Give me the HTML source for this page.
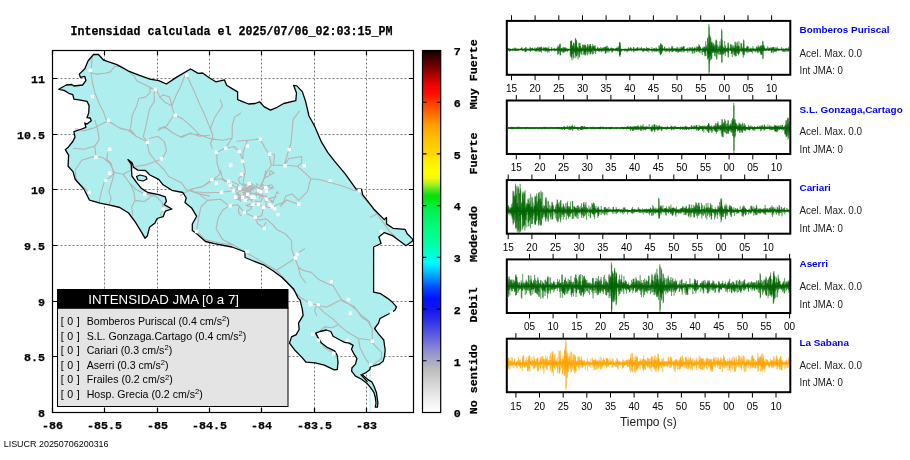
<!DOCTYPE html>
<html lang="es"><head><meta charset="utf-8"><title>Intensidad JMA</title>
<style>html,body{margin:0;padding:0;background:#fff;overflow:hidden}svg{display:block}.m{font-family:"Liberation Mono",monospace;font-weight:bold;font-size:11.6px;fill:#000;stroke:#000;stroke-width:0.25px}.s{font-family:"Liberation Sans",sans-serif;fill:#000}</style></head><body>
<svg width="910" height="460" viewBox="0 0 910 460">
<rect width="910" height="460" fill="#fff"/>
<defs><clipPath id="mc"><rect x="52.5" y="50.5" width="361.0" height="362.0"/></clipPath>
<linearGradient id="cb" x1="0" y1="1" x2="0" y2="0">
<stop offset="0.0000" stop-color="#ffffff"/>
<stop offset="0.0286" stop-color="#f2f2f2"/>
<stop offset="0.0714" stop-color="#dadada"/>
<stop offset="0.1143" stop-color="#c0c0c0"/>
<stop offset="0.1429" stop-color="#a8a8c8"/>
<stop offset="0.1714" stop-color="#8c8cd4"/>
<stop offset="0.2143" stop-color="#5c5ce0"/>
<stop offset="0.2571" stop-color="#2c2cec"/>
<stop offset="0.2857" stop-color="#1414ee"/>
<stop offset="0.3143" stop-color="#0010ff"/>
<stop offset="0.3443" stop-color="#0048ff"/>
<stop offset="0.3729" stop-color="#0098ff"/>
<stop offset="0.4014" stop-color="#00e0ff"/>
<stop offset="0.4143" stop-color="#00fcff"/>
<stop offset="0.4286" stop-color="#00ffe0"/>
<stop offset="0.4571" stop-color="#00ffb4"/>
<stop offset="0.5000" stop-color="#00ff84"/>
<stop offset="0.5286" stop-color="#00f870"/>
<stop offset="0.5714" stop-color="#00f040"/>
<stop offset="0.5829" stop-color="#00e818"/>
<stop offset="0.6000" stop-color="#04e208"/>
<stop offset="0.6114" stop-color="#40e420"/>
<stop offset="0.6343" stop-color="#c0f020"/>
<stop offset="0.6486" stop-color="#f4fc08"/>
<stop offset="0.6643" stop-color="#ffff00"/>
<stop offset="0.6929" stop-color="#fff000"/>
<stop offset="0.7143" stop-color="#ffd800"/>
<stop offset="0.7571" stop-color="#ffc000"/>
<stop offset="0.7929" stop-color="#ffa000"/>
<stop offset="0.8286" stop-color="#ff6800"/>
<stop offset="0.8571" stop-color="#ff3800"/>
<stop offset="0.8786" stop-color="#ff1000"/>
<stop offset="0.9057" stop-color="#ee0000"/>
<stop offset="0.9343" stop-color="#a80000"/>
<stop offset="0.9614" stop-color="#680000"/>
<stop offset="0.9871" stop-color="#300000"/>
<stop offset="1.0000" stop-color="#080000"/>
</linearGradient></defs>
<g clip-path="url(#mc)">
<path d="M104.5 50.5V412.5M157.5 50.5V412.5M209.5 50.5V412.5M261.5 50.5V412.5M314.5 50.5V412.5M366.5 50.5V412.5M52.5 356.5H413.5M52.5 301.5H413.5M52.5 245.5H413.5M52.5 189.5H413.5M52.5 134.5H413.5M52.5 78.5H413.5" stroke="#7c7c7c" stroke-width="1" stroke-dasharray="2 2" fill="none"/>
<path d="M93.5 54.5 L98.2 54.3 L103.7 60.2 L116.9 64.6 L127.9 70.8 L138.9 75.2 L149.9 79.1 L158.7 80.7 L166.4 84.0 L176.3 77.4 L190.5 69.0 L198.2 73.4 L202.6 73.0 L209.2 77.8 L215.8 81.8 L220.0 80.9 L224.4 79.8 L226.6 85.3 L232.1 88.6 L237.6 91.9 L237.6 99.6 L242.0 101.3 L248.6 104.0 L255.2 103.5 L259.6 101.8 L264.0 106.6 L270.5 110.1 L277.1 107.3 L283.7 103.5 L295.8 100.7 L296.5 93.0 L293.6 85.3 L296.9 85.9 L302.4 91.9 L305.7 101.8 L309.0 116.0 L314.5 125.9 L321.1 141.3 L327.7 152.3 L334.3 160.9 L345.2 173.9 L356.1 189.1 L361.5 189.1 L362.6 194.6 L373.5 208.7 L384.3 219.6 L386.5 217.4 L386.5 223.9 L393.0 228.3 L405.0 229.3 L407.2 233.7 L412.6 239.1 L412.6 241.0 L406.0 245.7 L401.7 242.4 L393.0 235.9 L384.3 232.6 L378.9 237.0 L381.1 243.5 L373.6 247.0 L373.6 292.2 L380.7 293.7 L387.3 298.1 L391.6 301.4 L396.5 306.9 L394.9 310.2 L389.5 313.5 L380.0 318.5 L378.5 323.1 L374.6 328.5 L378.5 333.8 L383.8 340.0 L384.6 346.2 L385.2 350.0 L384.5 356.4 L383.1 361.3 L379.5 364.1 L370.4 366.9 L369.7 369.8 L366.1 372.6 L362.0 374.5 L369.0 380.4 L371.8 381.8 L373.9 386.0 L376.4 392.4 L377.0 396.6 L377.9 403.0 L377.4 407.2 L375.3 407.2 L376.0 403.0 L375.3 397.3 L373.9 392.4 L370.4 387.4 L366.8 383.2 L361.2 379.0 L355.5 376.1 L351.6 371.2 L352.0 367.7 L355.5 364.1 L356.9 358.5 L354.1 354.2 L351.5 349.2 L353.1 345.4 L349.2 343.1 L344.6 342.3 L340.0 340.0 L333.1 336.2 L330.8 331.5 L326.2 330.0 L320.0 331.5 L315.7 333.1 L317.7 336.9 L321.5 343.1 L327.7 347.7 L334.6 350.8 L337.2 355.4 L338.0 362.2 L337.3 369.5 L334.2 369.8 L324.3 365.2 L315.2 362.9 L306.1 362.2 L301.5 356.9 L295.4 350.8 L289.5 343.1 L291.5 336.9 L296.2 334.6 L299.2 329.2 L298.5 323.1 L303.1 315.4 L302.3 309.2 L300.0 300.0 L298.2 298.1 L293.8 289.3 L287.3 282.7 L281.8 277.3 L273.0 270.7 L264.2 265.2 L253.5 261.0 L245.0 257.5 L245.0 252.0 L240.0 250.0 L231.9 247.0 L214.3 243.7 L205.5 241.5 L196.7 233.8 L192.3 230.5 L192.3 224.0 L196.7 216.3 L191.6 207.9 L185.0 202.4 L186.2 198.0 L182.9 192.5 L171.9 190.3 L163.1 184.8 L158.7 179.3 L149.9 175.0 L145.5 170.5 L137.8 170.1 L133.4 167.3 L132.3 162.9 L127.9 159.6 L131.2 164.0 L131.9 176.0 L136.7 182.6 L141.1 188.1 L147.7 192.5 L158.7 194.7 L165.3 196.9 L166.4 201.3 L164.2 204.6 L171.9 209.0 L165.3 211.2 L163.1 216.7 L157.1 218.5 L155.0 222.9 L149.5 227.3 L147.3 236.0 L145.0 238.2 L141.8 232.7 L135.2 221.8 L128.6 213.0 L119.8 207.5 L111.0 205.3 L100.0 203.1 L89.5 200.2 L87.3 195.8 L84.0 189.2 L75.2 179.3 L73.0 171.6 L68.1 166.2 L68.6 155.2 L65.3 149.7 L68.5 146.9 L72.8 141.5 L75.0 137.1 L73.9 131.7 L80.4 129.5 L85.9 127.3 L84.8 123.0 L87.0 124.1 L91.3 120.8 L90.2 118.0 L87.0 117.6 L88.7 113.2 L89.1 105.6 L87.0 101.3 L80.4 100.2 L73.9 99.1 L72.8 94.7 L69.6 93.7 L64.1 90.4 L58.7 89.3 L66.3 85.0 L71.7 84.5 L73.9 86.0 L82.6 85.0 L85.9 80.6 L84.8 76.3 L80.4 77.3 L79.3 74.1 L84.8 68.7 L88.0 61.0Z" fill="#afeeee" stroke="none"/>
<path d="M370.1 366V412" stroke="#afeeee" stroke-width="1" fill="none"/>
<path d="M92.3 56.5 L91.6 64.2 L91.0 73.0 L92.7 84.0 L94.9 92.7 L99.3 103.7 L103.7 112.5 L105.9 119.1 L112.5 123.5 L119.1 127.9 L127.9 130.1 L136.7 136.7M91.0 73.0 L97.1 74.1 L105.9 73.0 L110.3 71.9 L114.7 66.4 L121.3 66.4 L127.9 70.8 L134.5 76.3 L136.7 80.7 L143.3 84.0 L149.9 87.3 L154.3 89.5M154.3 89.5 L154.3 101.5 L149.9 108.1 L147.7 116.9 L145.5 127.9 L143.3 136.7 L147.0 141.7M149.9 87.3 L149.9 92.7 L145.5 97.1 L138.9 98.2 L136.7 105.9 L132.3 114.7 L131.2 123.5 L130.1 130.1 L131.7 130.9M156.5 89.5 L159.8 97.1 L165.3 102.6 L171.9 105.9 L174.1 114.7 L169.7 121.3 L165.3 127.9 L159.8 127.9 L157.8 130.9M159.8 97.1 L163.1 95.0 L169.7 97.1 L171.9 105.9M171.9 105.9 L176.3 95.0 L180.7 86.2 L185.0 75.2M186.8 75.2 L193.8 90.5 L200.4 105.9 L203.9 113.0 L208.3 123.9 L212.6 134.8 L212.6 139.1 L210.4 143.5 L212.6 148.9M174.1 114.7 L182.9 119.1 L190.9 126.1 L199.6 134.8 L208.3 138.0 L212.6 139.1 L223.5 140.2 L232.2 138.0M180.0 137.0 L188.7 133.7 L199.6 134.8M220.2 99.3 L222.4 105.9 L218.0 112.5 L214.8 117.4 L210.4 128.3 L212.6 134.8M94.8 120.0 L98.0 130.9 L99.1 139.6 L94.8 146.1 L95.9 155.9 L81.7 160.2 L75.2 170.0 L76.3 180.9 L88.3 191.7M95.9 155.9 L103.5 158.0 L110.0 163.5 L114.3 172.2 L111.1 176.5 L104.6 180.9 L101.3 191.7 L99.1 202.6M75.2 128.7 L83.9 130.9 L94.8 127.6 L107.8 121.1M73.0 148.3 L83.9 149.3 L94.8 146.1M107.8 121.1 L120.9 128.7 L131.7 130.9 L136.1 136.3 L147.0 141.7 L149.1 152.6 L155.7 161.3 L162.2 159.1 L166.5 150.4 L164.3 141.7 L157.8 136.3 L149.1 138.5M107.8 152.6 L106.7 159.1 L111.1 163.5 L113.3 172.2 L123.0 174.3 L129.6 171.1 L133.9 166.7 L147.0 164.6 L155.7 161.3 L164.3 170.0 L168.7 176.5 L181.7 183.0 L186.1 189.6 L199.1 193.9 L210.0 196.1M114.3 172.2 L112.2 180.9 L108.9 191.7 L111.1 198.3 L108.9 205.0M123.0 174.3 L129.6 183.0 L133.9 191.7 L135.0 200.4 L131.7 207.0 L132.8 215.7M129.6 183.0 L136.1 189.6 L144.8 193.9 L155.7 196.1 L162.2 202.6 L163.3 209.1 L160.0 215.7M135.0 200.4 L144.8 201.5 L151.3 196.1M157.8 130.9 L164.3 126.5 L173.0 133.0 L181.7 137.4 L190.4 133.0 L199.1 136.3 L210.0 135.2M240.9 113.0 L234.3 117.4 L232.2 126.1 L232.2 138.0 L225.7 147.8 L217.0 152.2 L217.0 163.0 L220.2 173.9 L212.6 180.4M225.7 147.8 L234.3 146.7 L239.8 152.2 L243.0 160.9 L245.2 171.7 L243.0 182.6M236.5 141.3 L247.4 140.2 L260.4 139.1 L264.8 147.8 L269.1 154.3 L271.3 165.2 L267.0 171.7 L262.6 182.6 L260.4 187.0M247.4 140.2 L245.2 146.7 L243.0 152.2 L243.0 160.9M271.3 165.2 L284.3 165.2 L297.4 166.3 L306.1 173.9 L310.7 178.7 L320.4 179.8 L331.3 183.0 L340.0 185.2 L353.9 190.2 L360.4 191.3M299.6 110.9 L293.0 119.6 L292.0 132.6 L290.9 143.5 L288.7 150.0 L284.3 165.2M284.3 165.2 L288.7 158.7 L301.7 156.5 L301.7 163.0 L297.4 166.3M269.1 154.3 L274.6 154.3 L273.5 165.2M212.6 180.4 L201.7 187.0 L190.9 189.1 L180.0 195.7M310.7 178.7 L307.4 191.7 L298.7 200.4 L292.2 193.9 L285.7 196.1 L283.5 202.6 L277.0 204.8 L272.6 207.0M298.5 204.3 L286.5 200.0 L280.0 206.5M358.3 190.2 L362.6 196.7 L371.3 206.5 L377.8 215.2 L384.3 223.9 L388.7 230.4 L397.4 239.1M370.2 217.4 L376.7 214.1M255.2 217.4 L259.6 220.0 L266.1 218.9 L272.6 224.3 L277.0 229.8 L285.7 234.1 L291.7 240.9 L291.7 249.6 L295.0 258.3 L298.3 267.0 L302.6 270.2 L311.3 272.4 L317.8 278.9 L326.5 283.3 L333.0 285.4 L337.4 293.0 L341.7 299.6 L350.4 305.0 L357.0 310.4 L361.3 317.0 L367.8 321.3 L372.2 328.9 L372.3 340.0M255.2 217.4 L257.4 223.3 L262.8 227.6 L266.1 222.2M190.0 189.6 L198.7 193.9 L207.4 200.4 L200.9 207.0 L198.7 217.8 L196.5 230.9 L205.2 239.6 L218.3 242.8 L233.5 245.0 L244.3 251.5 L257.4 259.1 L268.3 265.7 L276.5 270.2 L287.4 282.2 L293.9 290.9 L300.4 297.4 L309.1 302.8 L316.7 305.0 L326.5 307.2 L335.2 302.8 L341.7 299.6M207.4 200.4 L220.4 199.3 L229.1 205.9 L222.6 210.2 L218.3 217.8 L216.1 228.7 L222.6 239.6 L233.5 245.0M229.1 205.9 L237.8 204.8 L244.3 212.4 L255.2 217.4M190.0 189.6 L203.0 186.3 L211.7 179.8 L220.4 178.7 L229.1 183.0 L237.8 188.5 L246.5 191.7 L255.2 193.9 L266.1 196.1 L272.6 202.6M194.3 191.7 L207.4 192.8 L221.5 192.2 L233.5 190.7M295.0 258.3 L285.2 264.8 L276.5 270.2M295.4 254.8 L304.8 248.5M298.3 267.0 L300.4 275.7 L305.9 283.3M220.4 170.0 L222.6 178.7 L229.1 183.0M266.1 170.0 L263.9 178.7 L259.6 187.4 L255.2 193.9M272.6 202.6 L277.0 191.7 L279.1 193.9M244.3 212.4 L250.9 209.1 L253.0 204.3 L258.5 204.3 L263.5 207.4 L261.7 215.7 L255.2 217.4M316.7 305.0 L324.3 312.6 L333.0 319.1 L338.5 324.6 L347.7 332.3 L358.5 338.5 L370.8 340.0 L375.4 346.2 L381.5 352.3 L381.5 358.5 L375.4 363.1 L370.8 366.2M316.7 305.0 L314.6 310.4 L316.7 315.9M341.5 300.8 L353.8 306.2 L360.0 313.8 L369.2 321.5 L372.3 329.2M358.5 338.5 L360.0 347.7 L364.6 356.9 L370.8 366.2M338.5 324.6 L332.3 327.7 L324.6 326.9 L320.0 330.8 L315.7 333.1 L318.5 340.0 L324.6 347.7 L332.3 352.3 L336.2 356.9M248.6 195.3 L242.2 198.5 L236.6 199.4 L242.3 196.5 L236.5 195.7M251.7 199.4 L256.3 195.7 L252.4 197.0M262.8 190.2 L256.5 187.4 L257.3 183.7 L256.2 184.1M240.0 189.5 L235.5 190.3 L237.5 189.0 L238.2 184.6 L232.0 181.7M246.8 187.2 L246.3 191.5 L244.3 189.0 L239.8 191.8M258.0 194.8 L263.2 197.1 L260.3 201.9 L254.9 201.1M251.2 189.3 L250.1 194.0 L244.2 194.5 L248.3 197.7M246.3 196.8 L247.4 196.4 L252.1 200.8 L251.8 202.5M264.7 195.7 L265.8 197.5 L265.0 199.7 L270.5 198.1 L276.6 196.7M242.5 188.4 L246.3 184.7 L242.7 183.6M253.7 190.9 L252.3 188.6 L247.2 188.0 L247.9 190.0M265.3 191.8 L271.8 188.3 L267.2 185.6 L263.5 185.5M244.7 190.2 L239.8 190.6 L241.3 188.8M264.3 200.2 L266.4 202.6 L265.8 206.3 L272.1 208.1 L273.0 207.1M242.4 196.4 L236.3 192.1 L232.2 188.7 L230.0 184.2M256.4 192.5 L262.7 193.6 L256.7 190.7M241.4 198.0 L242.8 197.7 L237.4 197.6 L244.1 197.4M249.0 195.3 L246.8 193.0 L251.4 189.6 L244.7 194.1 L245.1 190.6M248.9 192.2 L246.0 193.6 L240.3 197.0 L240.6 201.1 L238.5 198.3M240.2 190.8 L236.3 193.9 L243.1 197.5 L247.3 200.6 L250.7 197.9M242.1 191.9 L249.0 194.8 L248.6 191.8M244.1 189.4 L250.9 193.9 L249.0 191.2 L245.2 188.1 L241.1 189.4M265.7 186.3 L271.5 184.8 L273.5 188.1 L268.2 187.0M249.5 188.9 L248.6 190.3 L242.8 194.8M249.1 186.5 L255.4 188.7 L250.8 185.0 L245.9 189.0 L250.2 185.5M263.3 178.8 L269.4 175.4 L270.1 170.6 L274.3 172.9 L268.7 175.4M268.9 204.9 L273.4 202.0 L270.0 199.9M251.7 199.8 L252.4 203.1 L246.2 205.5 L251.8 207.2M255.6 186.4 L250.4 182.9 L250.5 186.7 L254.4 187.7 L258.3 184.2M259.3 198.4 L260.1 196.7 L260.4 197.2M252.0 190.0 L245.8 186.9 L239.3 182.8 L238.7 178.1 L244.2 173.8M239.3 205.7 L239.5 207.6 L238.8 207.9 L238.5 212.3 L241.3 216.1M257.9 191.0 L263.4 188.0 L262.6 187.2 L261.1 185.3 L263.5 184.6M252.9 197.0 L258.4 193.6 L261.5 195.2" stroke="#b4b4b4" stroke-width="1.1" fill="none" stroke-linejoin="round"/>
<path d="M93.5 54.5 L98.2 54.3 L103.7 60.2 L116.9 64.6 L127.9 70.8 L138.9 75.2 L149.9 79.1 L158.7 80.7 L166.4 84.0 L176.3 77.4 L190.5 69.0 L198.2 73.4 L202.6 73.0 L209.2 77.8 L215.8 81.8 L220.0 80.9 L224.4 79.8 L226.6 85.3 L232.1 88.6 L237.6 91.9 L237.6 99.6 L242.0 101.3 L248.6 104.0 L255.2 103.5 L259.6 101.8 L264.0 106.6 L270.5 110.1 L277.1 107.3 L283.7 103.5 L295.8 100.7 L296.5 93.0 L293.6 85.3 L296.9 85.9 L302.4 91.9 L305.7 101.8 L309.0 116.0 L314.5 125.9 L321.1 141.3 L327.7 152.3 L334.3 160.9 L345.2 173.9 L356.1 189.1 L361.5 189.1 L362.6 194.6 L373.5 208.7 L384.3 219.6 L386.5 217.4 L386.5 223.9 L393.0 228.3 L405.0 229.3 L407.2 233.7 L412.6 239.1 L412.6 241.0 L406.0 245.7 L401.7 242.4 L393.0 235.9 L384.3 232.6 L378.9 237.0 L381.1 243.5 L373.6 247.0 L373.6 292.2 L380.7 293.7 L387.3 298.1 L391.6 301.4 L396.5 306.9 L394.9 310.2 L389.5 313.5 L380.0 318.5 L378.5 323.1 L374.6 328.5 L378.5 333.8 L383.8 340.0 L384.6 346.2 L385.2 350.0 L384.5 356.4 L383.1 361.3 L379.5 364.1 L370.4 366.9 L369.7 369.8 L366.1 372.6 L362.0 374.5 L369.0 380.4 L371.8 381.8 L373.9 386.0 L376.4 392.4 L377.0 396.6 L377.9 403.0 L377.4 407.2 L375.3 407.2 L376.0 403.0 L375.3 397.3 L373.9 392.4 L370.4 387.4 L366.8 383.2 L361.2 379.0 L355.5 376.1 L351.6 371.2 L352.0 367.7 L355.5 364.1 L356.9 358.5 L354.1 354.2 L351.5 349.2 L353.1 345.4 L349.2 343.1 L344.6 342.3 L340.0 340.0 L333.1 336.2 L330.8 331.5 L326.2 330.0 L320.0 331.5 L315.7 333.1 L317.7 336.9 L321.5 343.1 L327.7 347.7 L334.6 350.8 L337.2 355.4 L338.0 362.2 L337.3 369.5 L334.2 369.8 L324.3 365.2 L315.2 362.9 L306.1 362.2 L301.5 356.9 L295.4 350.8 L289.5 343.1 L291.5 336.9 L296.2 334.6 L299.2 329.2 L298.5 323.1 L303.1 315.4 L302.3 309.2 L300.0 300.0 L298.2 298.1 L293.8 289.3 L287.3 282.7 L281.8 277.3 L273.0 270.7 L264.2 265.2 L253.5 261.0 L245.0 257.5 L245.0 252.0 L240.0 250.0 L231.9 247.0 L214.3 243.7 L205.5 241.5 L196.7 233.8 L192.3 230.5 L192.3 224.0 L196.7 216.3 L191.6 207.9 L185.0 202.4 L186.2 198.0 L182.9 192.5 L171.9 190.3 L163.1 184.8 L158.7 179.3 L149.9 175.0 L145.5 170.5 L137.8 170.1 L133.4 167.3 L132.3 162.9 L127.9 159.6 L131.2 164.0 L131.9 176.0 L136.7 182.6 L141.1 188.1 L147.7 192.5 L158.7 194.7 L165.3 196.9 L166.4 201.3 L164.2 204.6 L171.9 209.0 L165.3 211.2 L163.1 216.7 L157.1 218.5 L155.0 222.9 L149.5 227.3 L147.3 236.0 L145.0 238.2 L141.8 232.7 L135.2 221.8 L128.6 213.0 L119.8 207.5 L111.0 205.3 L100.0 203.1 L89.5 200.2 L87.3 195.8 L84.0 189.2 L75.2 179.3 L73.0 171.6 L68.1 166.2 L68.6 155.2 L65.3 149.7 L68.5 146.9 L72.8 141.5 L75.0 137.1 L73.9 131.7 L80.4 129.5 L85.9 127.3 L84.8 123.0 L87.0 124.1 L91.3 120.8 L90.2 118.0 L87.0 117.6 L88.7 113.2 L89.1 105.6 L87.0 101.3 L80.4 100.2 L73.9 99.1 L72.8 94.7 L69.6 93.7 L64.1 90.4 L58.7 89.3 L66.3 85.0 L71.7 84.5 L73.9 86.0 L82.6 85.0 L85.9 80.6 L84.8 76.3 L80.4 77.3 L79.3 74.1 L84.8 68.7 L88.0 61.0Z" fill="none" stroke="#000" stroke-width="1.3" stroke-linejoin="round"/>
<path d="M136.5 176.5 L140.0 175.0 L146.0 176.5 L147.0 179.0 L143.0 181.0 L138.0 180.0Z" fill="#afeeee" stroke="#000" stroke-width="1.2" stroke-linejoin="round"/>
<path d="M360.5 374.3 L364.0 378.0 L367.5 381.8" fill="none" stroke="#000" stroke-width="1.2"/>
<path d="M88.8 68.6h3.4v3.4h-3.4zM90.6 94.8h3.4v3.4h-3.4zM106.9 118.5h3.4v3.4h-3.4zM153.7 87.8h3.4v3.4h-3.4zM185.1 73.5h3.4v3.4h-3.4zM173.5 113.7h3.4v3.4h-3.4zM107.9 147.6h3.4v3.4h-3.4zM94.2 155.3h3.4v3.4h-3.4zM107.9 171.6h3.4v3.4h-3.4zM104.0 178.7h3.4v3.4h-3.4zM87.6 190.5h3.4v3.4h-3.4zM145.9 140.7h3.4v3.4h-3.4zM159.8 157.0h3.4v3.4h-3.4zM143.1 192.6h3.4v3.4h-3.4zM161.6 207.4h3.4v3.4h-3.4zM258.7 137.4h3.4v3.4h-3.4zM245.7 144.4h3.4v3.4h-3.4zM224.0 146.6h3.4v3.4h-3.4zM214.6 150.5h3.4v3.4h-3.4zM237.6 149.8h3.4v3.4h-3.4zM267.9 152.6h3.4v3.4h-3.4zM287.6 147.9h3.4v3.4h-3.4zM240.9 159.6h3.4v3.4h-3.4zM229.0 163.5h3.4v3.4h-3.4zM283.3 164.0h3.4v3.4h-3.4zM302.6 164.0h3.4v3.4h-3.4zM239.8 172.6h3.4v3.4h-3.4zM210.0 178.1h3.4v3.4h-3.4zM214.8 181.8h3.4v3.4h-3.4zM227.0 179.6h3.4v3.4h-3.4zM228.5 183.5h3.4v3.4h-3.4zM219.8 190.5h3.4v3.4h-3.4zM231.8 189.0h3.4v3.4h-3.4zM237.9 186.8h3.4v3.4h-3.4zM247.6 181.8h3.4v3.4h-3.4zM234.0 195.5h3.4v3.4h-3.4zM241.1 195.5h3.4v3.4h-3.4zM245.9 192.6h3.4v3.4h-3.4zM243.7 198.7h3.4v3.4h-3.4zM250.3 195.5h3.4v3.4h-3.4zM252.4 195.5h3.4v3.4h-3.4zM256.8 189.0h3.4v3.4h-3.4zM259.0 190.0h3.4v3.4h-3.4zM264.0 185.7h3.4v3.4h-3.4zM264.8 189.6h3.4v3.4h-3.4zM264.8 197.6h3.4v3.4h-3.4zM251.3 202.6h3.4v3.4h-3.4zM256.8 202.6h3.4v3.4h-3.4zM261.8 205.7h3.4v3.4h-3.4zM268.3 203.1h3.4v3.4h-3.4zM270.5 205.3h3.4v3.4h-3.4zM273.1 207.0h3.4v3.4h-3.4zM276.3 212.9h3.4v3.4h-3.4zM242.6 210.7h3.4v3.4h-3.4zM253.5 215.7h3.4v3.4h-3.4zM228.5 204.2h3.4v3.4h-3.4zM262.6 226.6h3.4v3.4h-3.4zM297.0 202.6h3.4v3.4h-3.4zM328.5 178.7h3.4v3.4h-3.4zM245.3 249.8h3.4v3.4h-3.4zM295.5 252.6h3.4v3.4h-3.4zM293.7 256.3h3.4v3.4h-3.4zM194.8 229.8h3.4v3.4h-3.4zM329.6 280.0h3.4v3.4h-3.4zM346.6 297.9h3.4v3.4h-3.4zM307.9 301.1h3.4v3.4h-3.4zM309.2 302.6h3.4v3.4h-3.4zM316.6 302.9h3.4v3.4h-3.4zM348.7 311.6h3.4v3.4h-3.4zM389.6 310.5h3.4v3.4h-3.4zM310.9 332.5h3.4v3.4h-3.4zM316.8 338.6h3.4v3.4h-3.4zM346.0 338.6h3.4v3.4h-3.4zM370.6 339.5h3.4v3.4h-3.4zM332.1 352.1h3.4v3.4h-3.4zM369.1 362.9h3.4v3.4h-3.4zM357.6 189.0h3.4v3.4h-3.4zM379.4 229.8h3.4v3.4h-3.4z" fill="#fff"/>
</g>
<rect x="57.5" y="308" width="230.5" height="98.5" fill="#e4e4e4" stroke="#000" stroke-width="1"/>
<rect x="57" y="289" width="231.5" height="19.6" fill="#000"/>
<text class="s" x="88.3" y="303.6" font-size="13.3" style="fill:#fff">INTENSIDAD JMA [0 a 7]</text>
<text class="s" x="60.7" y="324.9" font-size="10.6" textLength="19" lengthAdjust="spacing">[ 0 ]</text>
<text class="s" x="86.7" y="324.9" font-size="10.6">Bomberos Puriscal (0.4 cm/s<tspan font-size="7.6" dy="-3.8">2</tspan><tspan dy="3.8">)</tspan></text>
<text class="s" x="60.7" y="339.7" font-size="10.6" textLength="19" lengthAdjust="spacing">[ 0 ]</text>
<text class="s" x="86.7" y="339.7" font-size="10.6">S.L. Gonzaga.Cartago (0.4 cm/s<tspan font-size="7.6" dy="-3.8">2</tspan><tspan dy="3.8">)</tspan></text>
<text class="s" x="60.7" y="354.2" font-size="10.6" textLength="19" lengthAdjust="spacing">[ 0 ]</text>
<text class="s" x="86.7" y="354.2" font-size="10.6">Cariari (0.3 cm/s<tspan font-size="7.6" dy="-3.8">2</tspan><tspan dy="3.8">)</tspan></text>
<text class="s" x="60.7" y="368.9" font-size="10.6" textLength="19" lengthAdjust="spacing">[ 0 ]</text>
<text class="s" x="86.7" y="368.9" font-size="10.6">Aserri (0.3 cm/s<tspan font-size="7.6" dy="-3.8">2</tspan><tspan dy="3.8">)</tspan></text>
<text class="s" x="60.7" y="383.3" font-size="10.6" textLength="19" lengthAdjust="spacing">[ 0 ]</text>
<text class="s" x="86.7" y="383.3" font-size="10.6">Frailes (0.2 cm/s<tspan font-size="7.6" dy="-3.8">2</tspan><tspan dy="3.8">)</tspan></text>
<text class="s" x="60.7" y="397.9" font-size="10.6" textLength="19" lengthAdjust="spacing">[ 0 ]</text>
<text class="s" x="86.7" y="397.9" font-size="10.6">Hosp. Grecia (0.2 cm/s<tspan font-size="7.6" dy="-3.8">2</tspan><tspan dy="3.8">)</tspan></text>
<rect x="52.5" y="50.5" width="361.0" height="362.0" fill="none" stroke="#000" stroke-width="1.2"/>
<path d="M52.5 412.5v-4.5M52.5 50.5v4.5M104.5 412.5v-4.5M104.5 50.5v4.5M157.5 412.5v-4.5M157.5 50.5v4.5M209.5 412.5v-4.5M209.5 50.5v4.5M261.5 412.5v-4.5M261.5 50.5v4.5M314.5 412.5v-4.5M314.5 50.5v4.5M366.5 412.5v-4.5M366.5 50.5v4.5M52.5 412.5h4.5M413.5 412.5h-4.5M52.5 356.5h4.5M413.5 356.5h-4.5M52.5 301.5h4.5M413.5 301.5h-4.5M52.5 245.5h4.5M413.5 245.5h-4.5M52.5 189.5h4.5M413.5 189.5h-4.5M52.5 134.5h4.5M413.5 134.5h-4.5M52.5 78.5h4.5M413.5 78.5h-4.5" stroke="#000" stroke-width="1.2" fill="none"/>
<text class="m" x="42.0" y="429.4" textLength="21.0" lengthAdjust="spacingAndGlyphs">-86</text>
<text class="m" x="87.0" y="429.4" textLength="35.0" lengthAdjust="spacingAndGlyphs">-85.5</text>
<text class="m" x="147.0" y="429.4" textLength="21.0" lengthAdjust="spacingAndGlyphs">-85</text>
<text class="m" x="192.0" y="429.4" textLength="35.0" lengthAdjust="spacingAndGlyphs">-84.5</text>
<text class="m" x="251.0" y="429.4" textLength="21.0" lengthAdjust="spacingAndGlyphs">-84</text>
<text class="m" x="297.0" y="429.4" textLength="35.0" lengthAdjust="spacingAndGlyphs">-83.5</text>
<text class="m" x="356.0" y="429.4" textLength="21.0" lengthAdjust="spacingAndGlyphs">-83</text>
<text class="m" x="38.0" y="417.1" textLength="7.0" lengthAdjust="spacingAndGlyphs">8</text>
<text class="m" x="24.0" y="361.1" textLength="21.0" lengthAdjust="spacingAndGlyphs">8.5</text>
<text class="m" x="38.0" y="306.1" textLength="7.0" lengthAdjust="spacingAndGlyphs">9</text>
<text class="m" x="24.0" y="250.1" textLength="21.0" lengthAdjust="spacingAndGlyphs">9.5</text>
<text class="m" x="31.0" y="194.1" textLength="14.0" lengthAdjust="spacingAndGlyphs">10</text>
<text class="m" x="17.0" y="139.1" textLength="28.0" lengthAdjust="spacingAndGlyphs">10.5</text>
<text class="m" x="31.0" y="83.1" textLength="14.0" lengthAdjust="spacingAndGlyphs">11</text>
<text class="m" x="70.5" y="35.2" textLength="322.0" lengthAdjust="spacingAndGlyphs" style="font-size:12.6px">Intensidad calculada el 2025/07/06_02:03:15_PM</text>
<rect x="422.5" y="50.5" width="18.2" height="362.0" fill="url(#cb)" stroke="#000" stroke-width="1.2"/>
<path d="M422.5 360.8h4M440.7 360.8h-4M422.5 309.1h4M440.7 309.1h-4M422.5 257.4h4M440.7 257.4h-4M422.5 205.6h4M440.7 205.6h-4M422.5 153.9h4M440.7 153.9h-4M422.5 102.2h4M440.7 102.2h-4" stroke="#000" stroke-width="1.1" fill="none"/>
<text class="m" x="453.7" y="417.2" textLength="7.0" lengthAdjust="spacingAndGlyphs">0</text>
<text class="m" x="453.7" y="365.5" textLength="7.0" lengthAdjust="spacingAndGlyphs">1</text>
<text class="m" x="453.7" y="313.8" textLength="7.0" lengthAdjust="spacingAndGlyphs">2</text>
<text class="m" x="453.7" y="262.1" textLength="7.0" lengthAdjust="spacingAndGlyphs">3</text>
<text class="m" x="453.7" y="210.3" textLength="7.0" lengthAdjust="spacingAndGlyphs">4</text>
<text class="m" x="453.7" y="158.6" textLength="7.0" lengthAdjust="spacingAndGlyphs">5</text>
<text class="m" x="453.7" y="106.9" textLength="7.0" lengthAdjust="spacingAndGlyphs">6</text>
<text class="m" x="453.7" y="55.2" textLength="7.0" lengthAdjust="spacingAndGlyphs">7</text>
<g transform="translate(476.5 379.2) rotate(-90)"><text class="m" x="-35.0" y="0.0" textLength="70.0" lengthAdjust="spacingAndGlyphs">No sentido</text></g>
<g transform="translate(476.5 305.1) rotate(-90)"><text class="m" x="-17.5" y="0.0" textLength="35.0" lengthAdjust="spacingAndGlyphs">Debil</text></g>
<g transform="translate(476.5 233.9) rotate(-90)"><text class="m" x="-28.0" y="0.0" textLength="56.0" lengthAdjust="spacingAndGlyphs">Moderado</text></g>
<g transform="translate(476.5 153.5) rotate(-90)"><text class="m" x="-21.0" y="0.0" textLength="42.0" lengthAdjust="spacingAndGlyphs">Fuerte</text></g>
<g transform="translate(476.5 74.2) rotate(-90)"><text class="m" x="-35.0" y="0.0" textLength="70.0" lengthAdjust="spacingAndGlyphs">Muy Fuerte</text></g>
<path d="M507.80 50.6L507.93 47.8L508.05 50.4L508.18 49.3L508.30 49.8L508.43 48.7L508.55 50.4L508.68 49.3L508.80 50.2L508.93 48.2L509.05 50.2L509.18 49.2L509.30 49.6L509.43 49.6L509.55 51.7L509.68 49.5L509.80 50.6L509.93 48.1L510.05 51.1L510.18 49.1L510.30 50.1L510.43 49.3L510.55 50.3L510.68 49.1L510.80 50.6L510.93 49.1L511.05 50.8L511.18 49.2L511.30 49.7L511.43 49.4L511.55 49.8L511.68 49.5L511.80 49.7L511.93 49.3L512.05 50.3L512.17 49.2L512.30 49.9L512.42 48.8L512.55 50.9L512.67 48.5L512.80 50.6L512.92 49.5L513.05 50.0L513.17 48.7L513.30 49.7L513.42 48.9L513.55 50.4L513.67 48.9L513.80 50.1L513.92 48.9L514.05 49.6L514.17 49.2L514.30 50.5L514.42 48.8L514.55 49.7L514.67 48.4L514.80 49.6L514.92 47.4L515.05 51.1L515.17 48.7L515.30 50.1L515.42 48.2L515.55 50.3L515.67 49.3L515.80 50.8L515.92 49.5L516.05 50.7L516.17 48.8L516.30 50.8L516.42 49.1L516.55 49.8L516.67 48.5L516.80 49.8L516.92 48.9L517.05 50.4L517.17 49.0L517.30 50.6L517.42 48.8L517.55 50.1L517.67 49.4L517.80 49.9L517.92 49.2L518.05 50.8L518.17 48.2L518.30 49.7L518.42 49.5L518.55 50.5L518.67 49.1L518.80 50.4L518.92 49.2L519.05 49.7L519.17 49.3L519.30 50.0L519.42 49.6L519.55 50.0L519.67 49.5L519.80 50.1L519.92 48.5L520.05 50.0L520.17 49.5L520.30 49.8L520.42 49.5L520.55 49.6L520.67 48.6L520.80 50.1L520.92 48.4L521.05 49.9L521.17 49.1L521.30 49.7L521.42 49.5L521.55 49.7L521.67 48.0L521.80 49.9L521.92 46.8L522.05 50.1L522.17 48.3L522.30 50.3L522.42 49.5L522.55 51.1L522.67 49.3L522.80 50.0L522.92 49.1L523.05 50.0L523.17 49.1L523.30 50.3L523.42 49.5L523.55 49.7L523.67 49.4L523.80 50.5L523.92 49.0L524.05 49.9L524.17 48.2L524.30 50.3L524.42 48.5L524.55 49.9L524.67 49.6L524.80 50.5L524.92 48.7L525.05 52.2L525.17 48.6L525.30 50.3L525.42 48.8L525.55 51.9L525.67 47.4L525.80 51.8L525.92 47.0L526.05 50.2L526.17 48.3L526.30 50.5L526.42 49.4L526.55 51.2L526.67 49.3L526.80 49.8L526.92 49.1L527.05 50.4L527.17 48.8L527.30 50.0L527.42 49.5L527.55 50.1L527.67 48.6L527.80 49.6L527.92 49.6L528.05 49.7L528.17 49.1L528.30 50.1L528.42 48.6L528.55 49.7L528.67 49.3L528.80 49.8L528.92 49.3L529.05 51.2L529.17 49.5L529.30 50.1L529.42 49.3L529.55 50.1L529.67 47.6L529.80 49.7L529.92 49.3L530.05 50.8L530.17 49.0L530.30 50.6L530.42 47.1L530.55 51.9L530.67 48.3L530.80 50.0L530.92 48.2L531.05 50.5L531.17 48.5L531.30 50.4L531.42 48.8L531.55 49.7L531.67 48.8L531.80 50.1L531.92 48.7L532.05 49.9L532.17 48.4L532.30 50.4L532.42 47.9L532.55 50.6L532.67 47.6L532.80 49.6L532.92 49.1L533.05 49.8L533.17 48.6L533.30 49.8L533.42 49.3L533.55 49.6L533.67 49.3L533.80 49.8L533.92 49.0L534.05 50.7L534.17 48.7L534.30 50.2L534.42 48.6L534.55 50.4L534.67 49.3L534.80 49.7L534.92 47.4L535.05 50.3L535.17 49.6L535.30 51.3L535.42 48.7L535.55 50.3L535.67 49.2L535.80 51.2L535.92 49.1L536.05 50.9L536.17 47.9L536.30 51.5L536.42 48.6L536.55 49.7L536.67 48.1L536.80 51.1L536.92 49.3L537.05 49.7L537.17 48.6L537.30 51.6L537.42 47.5L537.55 49.9L537.67 49.6L537.80 50.1L537.92 46.7L538.05 50.0L538.17 49.2L538.30 49.6L538.42 47.7L538.55 50.8L538.67 49.3L538.80 50.1L538.92 48.5L539.05 52.1L539.17 47.4L539.30 50.0L539.42 47.6L539.55 49.6L539.67 48.3L539.80 51.7L539.92 47.3L540.05 51.4L540.17 48.7L540.30 51.3L540.42 47.5L540.55 49.6L540.67 47.5L540.80 51.4L540.92 48.8L541.05 50.0L541.17 46.6L541.30 50.2L541.42 46.8L541.55 52.7L541.67 48.2L541.80 50.4L541.92 48.9L542.05 50.2L542.17 48.6L542.30 50.2L542.42 49.3L542.55 49.9L542.67 49.0L542.80 49.9L542.92 48.9L543.05 49.9L543.17 47.4L543.30 50.2L543.42 49.4L543.55 50.0L543.67 48.0L543.80 51.0L543.92 47.7L544.05 50.3L544.17 47.6L544.30 49.9L544.42 47.9L544.55 49.7L544.67 48.9L544.80 50.2L544.92 48.8L545.05 51.7L545.17 47.9L545.30 50.9L545.42 47.5L545.55 51.2L545.67 49.1L545.80 50.7L545.92 47.2L546.05 50.2L546.17 48.1L546.30 51.6L546.42 48.6L546.55 49.6L546.67 48.0L546.80 50.8L546.92 48.0L547.05 50.0L547.17 47.3L547.30 50.9L547.42 49.5L547.55 52.7L547.67 49.1L547.80 49.9L547.92 48.6L548.05 49.8L548.17 48.9L548.30 50.3L548.42 48.6L548.55 51.7L548.67 48.4L548.80 50.3L548.92 46.5L549.05 52.5L549.17 49.3L549.30 50.9L549.42 49.2L549.55 49.7L549.67 49.1L549.80 50.5L549.92 49.2L550.05 50.4L550.17 49.3L550.30 49.9L550.42 49.1L550.55 50.2L550.67 48.9L550.80 49.9L550.92 49.2L551.05 49.9L551.17 49.0L551.30 50.3L551.42 47.2L551.55 51.3L551.67 49.5L551.80 50.4L551.92 47.6L552.05 50.1L552.17 49.2L552.30 50.3L552.42 49.5L552.55 49.6L552.67 49.5L552.80 50.0L552.92 49.4L553.05 50.1L553.17 48.7L553.30 49.8L553.42 48.7L553.55 49.7L553.67 48.9L553.80 50.3L553.92 49.2L554.05 50.9L554.17 48.9L554.30 49.8L554.42 47.8L554.55 50.1L554.67 49.2L554.80 51.4L554.92 48.3L555.05 50.4L555.17 48.8L555.30 49.7L555.42 49.2L555.55 50.1L555.67 49.4L555.80 50.8L555.92 49.5L556.05 50.4L556.17 49.4L556.30 50.4L556.42 49.5L556.55 50.0L556.67 49.6L556.80 50.6L556.92 47.6L557.05 49.9L557.17 48.2L557.30 49.7L557.42 48.7L557.55 50.8L557.67 48.7L557.80 55.0L557.92 45.6L558.05 53.7L558.17 46.7L558.30 50.3L558.42 49.1L558.55 53.6L558.67 46.9L558.80 49.7L558.92 46.8L559.05 50.0L559.17 48.5L559.30 50.6L559.42 44.4L559.55 50.3L559.67 49.1L559.80 52.6L559.92 49.4L560.00 43.6L560.15 55.6L560.30 44.2L560.45 55.0L560.05 50.9L560.17 49.5L560.30 50.8L560.42 48.4L560.55 51.3L560.67 49.6L560.80 51.8L560.92 49.3L561.05 49.8L561.17 49.4L561.30 51.1L561.42 48.2L561.55 50.3L561.67 48.6L561.80 52.0L561.92 47.9L562.05 50.4L562.17 48.9L562.30 50.4L562.42 49.2L562.55 52.4L562.67 48.0L562.80 49.8L562.92 49.1L563.05 50.6L563.17 46.8L563.30 51.8L563.42 48.7L563.55 52.8L563.67 49.6L563.80 51.5L563.92 47.8L564.05 50.6L564.17 47.4L564.30 52.6L564.42 49.5L564.55 50.5L564.67 48.3L564.80 50.4L564.92 47.4L565.05 51.1L565.17 47.6L565.30 52.0L565.42 49.4L565.55 50.9L565.67 47.9L565.80 50.9L565.92 49.1L566.05 50.2L566.17 47.7L566.30 50.2L566.42 49.6L566.55 50.8L566.67 49.1L566.80 50.2L566.92 48.8L567.05 51.2L567.17 49.6L567.30 51.9L567.42 49.0L567.55 50.8L567.67 49.1L567.80 50.3L567.92 48.2L568.05 51.1L568.17 49.1L568.30 50.0L568.42 49.6L568.55 50.5L568.67 49.5L568.80 49.6L568.92 49.2L569.05 50.0L569.17 49.3L569.30 49.9L569.42 49.4L569.55 50.2L569.67 49.4L569.80 49.7L569.92 48.5L570.05 50.2L570.17 49.4L570.30 56.3L570.42 45.7L570.55 54.2L570.67 41.3L570.80 51.8L570.92 42.3L571.00 40.6L571.15 57.6L571.30 41.5L571.45 56.8L571.05 55.2L571.17 49.0L571.30 49.6L571.42 41.0L571.55 56.4L571.67 40.5L571.80 57.6L571.92 48.3L572.05 60.3L572.17 46.7L572.30 54.4L572.42 45.5L572.55 49.8L572.67 46.5L572.80 53.9L572.92 45.3L573.05 50.8L573.17 48.3L573.30 52.5L573.42 49.6L573.50 42.6L573.65 58.6L573.80 43.3L573.95 57.7L573.55 50.0L573.67 47.4L573.80 51.2L573.92 48.5L574.05 50.4L574.17 43.5L574.30 51.9L574.42 47.7L574.55 50.1L574.67 49.0L574.80 53.1L574.92 49.4L575.05 49.8L575.17 45.5L575.30 52.1L575.42 38.1L575.55 54.7L575.67 38.7L575.80 58.2L575.92 42.5L576.00 41.1L576.15 56.6L576.30 42.0L576.45 55.9L576.05 55.2L576.17 48.2L576.30 52.5L576.42 39.9L576.55 51.2L576.67 41.6L576.80 56.0L576.92 49.1L577.05 50.2L577.17 48.2L577.30 50.5L577.42 46.5L577.55 54.5L577.67 48.0L577.80 50.4L577.92 47.8L578.05 59.6L578.17 47.5L578.30 51.6L578.42 49.5L578.55 50.1L578.67 49.4L578.80 52.9L578.92 48.2L579.00 42.6L579.15 57.6L579.30 43.3L579.45 56.8L579.05 52.2L579.17 48.8L579.30 52.4L579.42 46.3L579.55 49.6L579.67 49.1L579.80 54.7L579.92 46.1L580.05 51.5L580.17 42.9L580.30 50.2L580.42 45.9L580.55 50.9L580.67 48.4L580.80 53.6L580.92 49.3L581.05 51.4L581.17 47.8L581.30 52.3L581.42 49.3L581.55 54.7L581.67 47.5L581.80 50.3L581.92 48.1L582.05 50.4L582.17 48.9L582.30 50.1L582.42 44.7L582.55 51.2L582.67 48.9L582.80 50.4L582.92 45.0L583.05 54.9L583.17 49.4L583.30 50.2L583.42 48.1L583.55 50.0L583.67 45.7L583.80 51.0L583.92 44.4L584.05 53.8L584.17 48.6L584.30 54.9L584.42 45.3L584.55 52.7L584.67 49.4L584.80 51.5L584.92 47.7L585.00 44.6L585.15 55.6L585.30 45.1L585.45 55.0L585.05 50.6L585.17 48.8L585.30 51.2L585.42 48.3L585.55 51.7L585.67 45.5L585.80 50.0L585.92 47.4L586.05 54.1L586.17 48.9L586.30 51.9L586.42 48.3L586.55 50.2L586.67 49.5L586.80 50.3L586.92 47.5L587.05 49.7L587.17 46.0L587.30 55.5L587.42 47.2L587.55 51.4L587.67 44.0L587.80 50.1L587.92 44.6L588.05 54.2L588.17 46.6L588.30 52.5L588.42 49.3L588.55 50.1L588.67 46.9L588.80 51.6L588.92 49.2L589.05 50.3L589.17 48.5L589.30 51.2L589.42 46.2L589.55 51.1L589.67 45.8L589.80 51.9L589.92 46.3L590.00 44.1L590.15 54.6L590.30 44.6L590.45 54.1L590.05 51.2L590.17 46.0L590.30 53.5L590.42 44.5L590.55 50.9L590.67 49.1L590.80 50.9L590.92 45.8L591.05 51.7L591.17 49.4L591.30 51.2L591.42 47.5L591.55 52.0L591.67 48.7L591.80 53.5L591.92 49.0L592.05 50.0L592.17 46.3L592.30 49.7L592.42 47.0L592.55 54.5L592.67 44.0L592.80 50.0L592.92 49.0L593.05 50.5L593.17 45.7L593.30 53.9L593.42 48.2L593.55 50.4L593.67 46.0L593.80 50.2L593.92 45.8L594.05 52.6L594.17 47.8L594.30 49.6L594.42 46.3L594.55 50.4L594.67 49.4L594.80 50.4L594.92 46.9L595.05 51.0L595.17 45.0L595.30 50.0L595.42 48.8L595.55 54.0L595.67 49.3L595.80 51.8L595.92 48.0L596.05 50.1L596.17 49.4L596.30 50.2L596.42 49.4L596.55 49.7L596.67 49.0L596.80 51.0L596.92 49.3L597.05 50.4L597.17 48.5L597.30 50.0L597.42 48.2L597.55 50.6L597.67 46.8L597.80 51.0L597.92 47.9L598.05 49.7L598.17 47.7L598.30 50.9L598.42 49.2L598.55 51.3L598.67 49.0L598.80 50.4L598.92 49.3L599.05 50.2L599.17 49.6L599.30 51.6L599.42 48.3L599.55 50.3L599.67 48.1L599.80 51.5L599.92 49.0L600.05 49.7L600.17 48.7L600.30 50.5L600.42 49.0L600.55 49.7L600.67 46.9L600.80 50.5L600.92 49.0L601.05 50.9L601.17 49.2L601.30 52.1L601.42 49.4L601.55 50.5L601.67 48.2L601.80 51.6L601.92 48.4L602.05 49.6L602.17 47.6L602.30 50.0L602.42 49.4L602.55 51.1L602.67 48.7L602.80 50.5L602.92 48.8L603.05 50.3L603.17 48.0L603.30 51.3L603.42 47.6L603.55 50.3L603.67 49.4L603.80 50.5L603.92 47.0L604.05 49.8L604.17 49.5L604.30 51.2L604.42 49.1L604.55 50.0L604.67 48.3L604.80 49.9L604.92 46.9L605.05 51.2L605.17 47.3L605.30 53.5L605.42 47.0L605.55 53.2L605.67 46.9L605.80 53.4L605.92 46.6L606.05 50.9L606.17 48.5L606.30 49.9L606.42 48.6L606.55 52.3L606.67 48.1L606.80 50.0L606.92 45.7L607.05 50.8L607.17 46.1L607.30 49.7L607.42 48.9L607.55 50.5L607.67 49.6L607.80 51.5L607.92 48.2L608.05 52.7L608.17 48.6L608.30 49.6L608.42 47.6L608.55 50.2L608.67 48.7L608.80 49.8L608.92 47.8L609.05 51.4L609.17 49.6L609.30 51.2L609.42 49.3L609.55 50.3L609.67 49.2L609.80 51.0L609.92 49.2L610.05 50.5L610.17 49.3L610.30 49.8L610.42 48.7L610.55 49.7L610.67 48.1L610.80 50.5L610.92 49.0L611.05 49.9L611.17 47.7L611.30 49.6L611.42 48.8L611.55 49.9L611.67 47.5L611.80 52.1L611.92 48.4L612.05 51.0L612.17 48.6L612.30 52.5L612.42 49.0L612.55 51.2L612.67 48.9L612.80 50.3L612.92 48.0L613.05 51.3L613.17 48.9L613.30 49.7L613.42 48.4L613.55 49.8L613.67 49.0L613.80 50.9L613.92 48.5L614.05 49.7L614.17 48.6L614.30 49.9L614.42 49.4L614.55 49.7L614.67 49.5L614.80 50.1L614.92 48.9L615.05 50.8L615.17 49.5L615.30 49.6L615.42 48.9L615.55 51.1L615.67 48.1L615.80 50.7L615.92 48.9L616.05 50.5L616.17 48.8L616.30 50.5L616.42 48.0L616.55 50.2L616.67 47.4L616.80 50.9L616.92 49.2L617.05 50.4L617.17 48.4L617.30 51.2L617.42 48.5L617.55 49.7L617.67 48.3L617.80 50.3L617.92 47.9L618.05 51.7L618.17 46.2L618.30 50.0L618.42 47.7L618.55 49.8L618.67 49.2L618.80 51.6L618.92 47.9L619.05 50.0L619.17 46.7L619.30 51.3L619.42 42.0L619.55 55.7L619.67 42.7L619.70 43.1L619.85 55.6L620.00 43.8L620.15 55.0L619.80 57.0L619.92 45.8L620.05 54.3L620.17 42.5L620.30 54.7L620.42 49.2L620.55 50.4L620.67 49.1L620.80 52.1L620.92 48.8L621.05 51.2L621.17 49.3L621.30 50.4L621.42 49.2L621.55 49.9L621.67 48.6L621.80 51.6L621.92 49.4L622.05 50.0L622.17 49.5L622.30 50.3L622.42 49.0L622.55 49.8L622.67 49.5L622.80 50.1L622.92 49.2L623.05 50.2L623.17 49.5L623.30 49.7L623.42 49.6L623.55 49.8L623.67 48.9L623.80 49.7L623.92 49.2L624.05 50.6L624.17 48.9L624.30 50.1L624.42 48.8L624.55 49.9L624.67 48.9L624.80 51.6L624.92 49.4L625.05 50.2L625.17 49.4L625.30 50.8L625.42 48.9L625.55 49.9L625.67 48.7L625.80 50.3L625.92 48.7L626.05 50.5L626.17 49.1L626.30 49.8L626.42 49.0L626.55 50.4L626.67 48.9L626.80 51.2L626.92 49.3L627.05 52.4L627.17 49.3L627.30 50.5L627.42 49.0L627.55 49.8L627.67 48.9L627.80 51.2L627.92 48.6L628.05 51.2L628.17 49.5L628.30 49.9L628.42 47.2L628.55 50.6L628.67 49.6L628.80 50.1L628.92 48.1L629.05 50.1L629.17 49.2L629.30 50.6L629.42 49.3L629.55 49.6L629.67 49.5L629.80 50.8L629.92 48.2L630.05 50.0L630.17 49.5L630.30 50.6L630.42 47.1L630.55 50.2L630.67 48.7L630.80 49.9L630.92 49.1L631.05 49.8L631.17 47.7L631.30 50.0L631.42 48.5L631.55 50.3L631.67 49.6L631.80 51.6L631.92 48.5L632.05 50.3L632.17 49.4L632.30 49.8L632.42 49.4L632.55 49.8L632.67 49.5L632.80 50.1L632.92 48.9L633.05 50.2L633.17 49.1L633.30 49.8L633.42 47.0L633.55 51.3L633.67 47.1L633.80 52.4L633.92 47.9L634.05 50.0L634.17 48.7L634.30 49.9L634.42 49.3L634.55 51.0L634.67 49.1L634.80 50.2L634.92 49.3L635.05 49.6L635.17 49.1L635.30 49.7L635.42 48.4L635.55 51.1L635.67 48.8L635.80 50.4L635.92 49.4L636.05 49.6L636.17 49.2L636.30 49.6L636.42 49.2L636.55 50.5L636.67 48.7L636.80 49.6L636.92 48.0L637.05 50.7L637.17 47.3L637.30 50.8L637.42 47.3L637.55 50.0L637.67 48.0L637.80 50.5L637.92 49.5L638.05 49.9L638.17 49.1L638.30 49.7L638.42 49.2L638.55 50.0L638.67 49.0L638.80 49.7L638.92 47.4L639.05 50.1L639.17 48.4L639.30 50.5L639.42 48.9L639.55 50.1L639.67 49.5L639.80 49.8L639.92 48.9L640.05 50.0L640.17 49.5L640.30 50.3L640.42 49.1L640.55 49.8L640.67 47.9L640.80 49.8L640.92 48.5L641.05 49.6L641.17 48.4L641.30 50.6L641.42 46.8L641.55 49.8L641.67 49.5L641.80 49.8L641.92 49.3L642.05 49.8L642.17 48.8L642.30 51.1L642.42 48.6L642.55 51.5L642.67 49.6L642.80 49.8L642.92 48.9L643.05 49.8L643.17 48.3L643.30 51.1L643.42 49.1L643.55 51.9L643.67 48.0L643.80 51.1L643.92 48.4L644.05 50.1L644.17 49.1L644.30 50.6L644.42 48.8L644.55 49.8L644.67 49.4L644.80 49.8L644.92 48.0L645.05 50.5L645.17 49.5L645.30 50.6L645.42 49.5L645.55 50.0L645.67 49.3L645.80 50.1L645.92 48.9L646.05 50.4L646.17 48.8L646.30 50.9L646.42 46.8L646.55 50.1L646.67 49.3L646.80 50.8L646.92 48.9L647.05 51.3L647.17 47.8L647.30 50.5L647.42 48.0L647.55 51.4L647.67 49.5L647.80 50.4L647.92 48.7L648.05 50.4L648.17 48.7L648.30 50.3L648.42 48.2L648.55 49.9L648.67 47.9L648.80 52.4L648.92 49.0L649.05 49.7L649.17 49.0L649.30 49.9L649.42 49.2L649.55 49.6L649.67 47.8L649.80 50.6L649.92 49.5L650.05 49.7L650.17 49.5L650.30 49.9L650.42 49.5L650.55 50.2L650.67 49.3L650.80 50.6L650.92 48.8L651.05 50.0L651.17 49.3L651.30 49.7L651.42 49.1L651.55 50.6L651.67 49.2L651.80 50.8L651.92 47.0L652.05 52.5L652.17 49.1L652.30 51.0L652.42 49.5L652.55 50.2L652.67 48.9L652.80 49.8L652.92 49.3L653.05 50.4L653.17 49.5L653.30 50.3L653.42 48.6L653.55 50.5L653.67 49.0L653.80 51.4L653.92 48.0L654.05 49.7L654.17 48.5L654.30 51.2L654.42 49.4L654.55 51.6L654.67 48.6L654.80 49.8L654.92 48.6L655.05 49.8L655.17 48.5L655.30 51.2L655.42 49.4L655.55 50.0L655.67 49.0L655.80 50.9L655.92 49.4L656.05 52.0L656.17 47.4L656.30 50.6L656.42 48.3L656.55 51.0L656.67 48.6L656.80 49.6L656.92 48.9L657.05 51.8L657.17 49.4L657.30 50.3L657.42 49.5L657.55 50.6L657.67 49.3L657.80 50.6L657.92 48.5L658.05 50.5L658.17 49.0L658.30 49.7L658.42 49.4L658.55 49.6L658.67 49.5L658.80 52.4L658.92 45.8L659.05 50.0L659.17 48.8L659.30 50.0L659.42 49.3L659.55 52.6L659.67 45.4L659.80 49.9L659.92 47.7L660.05 54.4L660.17 48.0L660.30 49.7L660.42 47.5L660.55 55.1L660.67 48.1L660.70 43.2L660.85 54.4L661.00 43.8L661.15 53.9L660.80 51.6L660.92 45.0L661.05 50.9L661.17 44.4L661.30 53.9L661.42 48.3L661.55 49.9L661.67 47.3L661.80 52.6L661.92 49.1L662.05 52.1L662.17 45.2L662.30 50.6L662.42 45.2L662.55 50.1L662.67 49.0L662.80 50.7L662.92 48.2L663.05 50.6L663.17 48.1L663.30 49.8L663.42 49.2L663.55 50.2L663.67 49.4L663.80 50.1L663.92 49.4L664.05 50.2L664.17 49.1L664.30 49.7L664.42 47.3L664.55 51.2L664.67 46.5L664.80 50.5L664.92 47.6L665.05 49.7L665.17 49.3L665.30 49.9L665.42 49.3L665.55 50.0L665.67 49.5L665.80 52.2L665.92 48.7L666.05 50.9L666.17 49.0L666.30 51.5L666.42 48.2L666.55 51.0L666.67 49.5L666.80 50.7L666.92 49.5L667.05 49.7L667.17 48.7L667.30 49.7L667.42 49.6L667.55 51.3L667.67 48.0L667.80 50.4L667.92 49.0L668.05 49.7L668.17 49.5L668.30 51.6L668.42 49.3L668.55 50.2L668.67 48.7L668.80 50.0L668.92 49.4L669.05 50.3L669.17 47.2L669.30 49.9L669.42 49.6L669.55 52.5L669.67 48.7L669.80 51.3L669.92 48.6L670.05 50.5L670.17 49.0L670.30 49.6L670.42 49.3L670.55 50.9L670.67 48.4L670.80 49.9L670.92 49.4L671.05 51.6L671.17 49.0L671.30 49.9L671.42 48.9L671.55 50.2L671.67 47.4L671.80 49.7L671.92 45.7L672.05 51.8L672.17 47.8L672.30 51.9L672.42 48.4L672.55 51.9L672.67 46.4L672.80 49.6L672.92 49.6L673.05 50.4L673.17 48.7L673.30 50.7L673.42 48.9L673.55 51.3L673.67 49.3L673.80 50.3L673.92 48.3L674.05 50.1L674.17 49.0L674.30 49.6L674.42 48.2L674.55 50.3L674.67 49.3L674.80 50.3L674.92 49.3L675.05 51.3L675.17 48.8L675.30 51.6L675.42 48.7L675.55 50.4L675.67 48.8L675.80 49.6L675.92 48.1L676.05 51.2L676.17 49.5L676.30 50.8L676.42 49.2L676.55 52.0L676.67 49.5L676.80 50.8L676.92 47.3L677.05 50.7L677.17 47.3L677.30 51.0L677.42 49.1L677.55 50.2L677.67 49.2L677.80 52.6L677.92 47.9L678.05 52.5L678.17 49.0L678.30 50.2L678.42 49.1L678.55 51.8L678.67 49.3L678.80 50.5L678.92 49.0L679.05 51.2L679.17 47.5L679.30 51.9L679.42 49.0L679.55 50.3L679.67 49.0L679.80 50.2L679.92 48.9L680.05 50.9L680.17 48.9L680.30 51.9L680.42 48.8L680.55 50.8L680.67 49.2L680.80 50.5L680.92 46.8L681.05 50.0L681.17 48.4L681.30 52.4L681.42 46.8L681.55 50.6L681.67 48.1L681.80 50.4L681.92 47.8L682.05 51.2L682.17 49.2L682.30 49.7L682.42 47.2L682.55 49.6L682.67 48.0L682.80 49.6L682.92 49.3L683.05 52.3L683.17 46.7L683.30 49.7L683.42 48.4L683.55 49.7L683.67 46.3L683.80 51.4L683.92 45.9L684.05 52.3L684.17 47.1L684.30 49.8L684.42 49.4L684.55 51.0L684.67 49.1L684.80 49.8L684.92 49.1L685.05 51.0L685.17 49.6L685.30 50.0L685.42 49.3L685.55 50.5L685.67 49.3L685.80 49.7L685.92 48.9L686.05 50.8L686.17 49.4L686.30 49.7L686.42 48.4L686.55 50.8L686.67 48.8L686.80 50.1L686.92 49.6L687.05 50.7L687.17 48.5L687.30 50.2L687.42 49.4L687.55 50.5L687.67 48.5L687.80 52.9L687.92 47.6L688.05 50.9L688.17 49.4L688.30 49.8L688.42 49.2L688.55 49.7L688.67 49.3L688.80 50.2L688.92 49.6L689.05 50.6L689.17 48.9L689.30 50.2L689.42 47.5L689.55 50.4L689.67 49.3L689.80 51.8L689.92 47.7L690.05 49.9L690.17 47.6L690.30 50.0L690.42 49.0L690.55 50.1L690.67 48.7L690.80 50.3L690.92 47.6L691.05 50.2L691.17 48.7L691.30 50.8L691.42 49.0L691.55 51.1L691.67 49.2L691.80 50.9L691.92 48.4L692.05 51.4L692.17 47.4L692.30 53.5L692.42 46.9L692.55 50.0L692.67 49.6L692.80 50.2L692.92 48.9L693.05 53.6L693.17 49.2L693.30 50.2L693.42 48.3L693.55 50.7L693.67 49.1L693.80 51.3L693.92 49.0L694.05 50.4L694.17 48.4L694.30 50.3L694.42 47.8L694.55 53.3L694.67 48.4L694.80 50.5L694.92 46.7L695.05 52.3L695.17 48.2L695.30 50.0L695.42 48.4L695.55 49.7L695.67 49.2L695.80 50.0L695.92 49.6L696.05 50.3L696.17 49.0L696.30 50.3L696.42 48.7L696.55 52.0L696.67 47.5L696.80 50.1L696.92 46.1L697.05 52.2L697.17 49.5L697.30 50.3L697.42 49.2L697.55 50.5L697.67 47.4L697.80 49.9L697.92 46.9L698.05 49.8L698.17 47.7L698.30 51.7L698.42 48.3L698.55 50.2L698.67 46.5L698.80 50.9L698.92 44.2L699.05 52.2L699.17 47.2L699.30 51.0L699.42 45.3L699.55 51.0L699.67 45.9L699.80 53.0L699.92 48.6L700.05 50.2L700.17 47.1L700.30 50.3L700.42 47.4L700.55 49.8L700.67 48.2L700.80 49.9L700.92 49.0L701.05 53.3L701.17 49.5L701.30 49.9L701.42 49.4L701.55 49.7L701.67 49.3L701.80 50.1L701.92 49.1L702.05 49.7L702.17 47.9L702.30 54.9L702.42 49.2L702.55 51.8L702.67 47.5L702.80 50.1L702.92 49.0L703.05 51.8L703.17 48.4L703.30 51.4L703.42 47.7L703.55 50.4L703.67 48.6L703.80 51.4L703.92 46.5L704.05 52.1L704.17 48.6L704.30 52.5L704.42 49.1L704.55 52.1L704.67 46.9L704.80 55.8L704.92 46.9L705.05 54.1L705.17 47.2L705.30 56.1L705.42 48.9L705.55 52.0L705.67 41.3L705.80 51.1L705.92 48.5L706.05 56.0L706.17 47.8L706.30 50.2L706.42 45.2L706.55 50.5L706.67 49.2L706.80 50.0L706.92 46.6L707.05 51.2L707.17 48.5L707.30 50.4L707.42 48.4L707.50 37.6L707.65 59.6L707.80 38.8L707.95 58.6L707.55 49.7L707.67 48.6L707.80 54.0L707.92 47.1L708.05 53.4L708.17 49.0L708.30 56.9L708.42 49.6L708.55 58.0L708.67 43.5L708.80 55.8L708.90 24.1L709.05 74.0L709.20 26.7L709.35 71.8L708.92 49.1L709.05 51.6L709.17 34.6L709.30 63.3L709.42 43.1L709.55 54.6L709.67 35.3L709.80 55.0L709.92 46.6L710.05 56.5L710.17 49.3L710.30 54.3L710.42 43.9L710.50 36.6L710.65 60.6L710.80 37.9L710.95 59.5L710.55 49.8L710.67 46.3L710.80 55.8L710.92 42.1L711.05 50.4L711.17 46.3L711.30 52.2L711.42 42.4L711.55 58.6L711.67 43.7L711.80 58.8L711.92 41.5L712.05 51.6L712.17 45.2L712.30 51.2L712.42 48.5L712.55 53.1L712.67 43.4L712.80 52.8L712.92 46.9L713.05 51.9L713.17 42.6L713.30 50.3L713.42 45.5L713.55 51.6L713.67 45.8L713.80 53.0L713.92 43.6L714.05 51.0L714.17 48.6L714.30 52.4L714.42 46.8L714.55 55.7L714.67 45.4L714.80 50.0L714.92 48.8L715.05 52.8L715.17 45.0L715.30 51.5L715.42 40.4L715.55 56.6L715.67 49.5L715.80 52.3L715.92 47.2L716.05 52.6L716.17 44.3L716.30 50.2L716.42 47.1L716.50 39.6L716.65 59.6L716.80 40.6L716.95 58.6L716.55 50.5L716.67 48.7L716.80 50.0L716.92 45.9L717.05 49.6L717.17 49.5L717.30 51.8L717.42 49.0L717.55 51.3L717.67 49.5L717.80 53.8L717.92 44.6L718.05 53.1L718.17 46.8L718.30 54.5L718.42 49.3L718.55 50.7L718.67 48.4L718.80 50.1L718.92 46.8L719.05 51.1L719.17 48.9L719.30 49.8L719.42 49.3L719.55 54.8L719.67 45.6L719.80 52.0L719.92 41.4L720.05 50.2L720.17 48.9L720.30 51.7L720.42 48.1L720.55 54.5L720.67 45.8L720.80 54.6L720.92 46.2L721.05 52.9L721.17 38.9L721.30 51.5L721.42 44.3L721.55 53.6L721.60 28.9L721.75 63.1L721.90 31.0L722.05 61.8L721.67 47.5L721.80 51.7L721.92 44.1L722.05 54.4L722.17 40.2L722.30 50.7L722.42 49.1L722.55 53.0L722.67 47.8L722.80 55.1L722.92 46.6L723.05 52.1L723.17 46.5L723.30 53.4L723.42 47.9L723.55 54.5L723.67 48.4L723.80 51.6L723.92 48.0L724.05 49.6L724.17 48.0L724.30 51.1L724.42 48.4L724.55 53.6L724.67 41.1L724.80 51.7L724.92 48.4L725.05 51.9L725.17 48.7L725.30 56.0L725.42 46.6L725.55 52.7L725.67 45.3L725.80 52.2L725.92 49.2L726.05 49.7L726.17 49.0L726.30 50.4L726.42 48.3L726.55 51.2L726.67 49.3L726.80 51.3L726.92 48.1L727.05 51.7L727.17 47.7L727.30 49.9L727.42 47.8L727.55 51.6L727.67 49.5L727.80 51.4L727.92 48.1L728.00 42.6L728.15 57.6L728.30 43.3L728.45 56.8L728.05 50.9L728.17 48.9L728.30 53.0L728.42 45.8L728.55 51.7L728.67 48.1L728.80 49.6L728.92 49.6L729.05 50.3L729.17 49.1L729.30 49.7L729.42 49.6L729.55 49.8L729.67 49.3L729.80 49.8L729.92 47.9L730.05 51.0L730.17 47.5L730.30 50.1L730.42 44.4L730.55 50.4L730.67 44.6L730.80 50.4L730.92 48.5L731.05 50.7L731.17 47.9L731.30 50.6L731.42 49.3L731.55 54.0L731.67 45.5L731.80 52.6L731.92 44.3L732.05 52.3L732.17 49.6L732.30 56.9L732.42 47.0L732.55 49.7L732.67 48.6L732.80 53.3L732.92 48.6L733.05 50.7L733.17 45.3L733.30 51.1L733.42 48.6L733.55 51.5L733.67 48.7L733.80 50.4L733.92 46.4L734.05 55.2L734.17 48.4L734.30 55.1L734.42 47.7L734.55 52.8L734.67 48.4L734.80 50.0L734.92 49.4L735.00 41.6L735.15 56.6L735.30 42.4L735.45 55.9L735.05 52.0L735.17 49.0L735.30 51.9L735.42 45.1L735.55 54.8L735.67 48.2L735.80 52.7L735.92 46.4L736.05 52.0L736.17 49.4L736.30 49.8L736.42 49.3L736.55 56.1L736.67 46.5L736.80 51.0L736.92 43.0L737.05 53.1L737.17 41.7L737.30 51.4L737.42 46.1L737.55 51.0L737.67 48.9L737.80 53.5L737.92 46.2L738.05 54.0L738.17 45.4L738.30 54.1L738.42 46.0L738.55 55.3L738.67 47.7L738.80 49.9L738.92 41.1L739.05 53.0L739.17 48.9L739.30 53.4L739.42 46.2L739.55 50.8L739.67 49.3L739.80 50.8L739.92 48.8L740.05 52.2L740.17 49.6L740.30 50.0L740.42 49.6L740.55 49.9L740.67 48.8L740.80 50.3L740.92 42.9L741.05 50.8L741.17 47.5L741.30 50.3L741.42 44.5L741.55 52.0L741.67 43.1L741.80 50.2L741.92 48.5L742.05 50.5L742.17 49.4L742.30 50.3L742.42 48.5L742.55 51.0L742.67 48.7L742.80 52.6L742.92 46.9L743.05 54.4L743.17 48.8L743.30 57.7L743.42 48.4L743.55 50.4L743.60 39.6L743.75 55.6L743.90 40.6L744.05 55.0L743.67 43.9L743.80 50.7L743.92 49.1L744.05 50.2L744.17 49.3L744.30 53.6L744.42 47.8L744.55 50.0L744.67 48.4L744.80 51.9L744.92 49.3L745.05 51.7L745.17 49.2L745.30 51.2L745.42 48.6L745.55 49.9L745.67 49.2L745.80 50.3L745.92 48.1L746.05 50.2L746.17 48.3L746.30 51.7L746.42 48.7L746.55 51.5L746.67 47.4L746.80 51.3L746.92 47.3L747.05 53.1L747.17 45.8L747.30 50.2L747.42 47.6L747.55 49.7L747.67 46.7L747.80 51.5L747.92 46.1L748.05 52.6L748.17 46.6L748.30 51.3L748.42 49.1L748.55 50.2L748.67 49.0L748.80 52.0L748.92 49.6L749.05 50.3L749.17 48.9L749.30 49.9L749.42 49.6L749.55 52.1L749.67 49.0L749.80 50.8L749.92 47.7L750.05 49.6L750.17 49.4L750.30 51.5L750.42 49.4L750.55 51.3L750.67 47.7L750.80 50.9L750.92 49.2L751.05 51.8L751.17 48.7L751.30 51.6L751.42 48.7L751.55 52.2L751.67 48.5L751.80 49.9L751.92 49.5L752.05 50.7L752.17 49.5L752.30 50.1L752.42 48.0L752.55 53.5L752.67 49.0L752.80 49.8L752.92 46.1L753.05 49.8L753.17 49.1L753.30 50.6L753.42 49.1L753.55 50.8L753.67 48.7L753.80 50.9L753.92 47.9L754.05 51.7L754.17 49.4L754.30 50.2L754.42 49.1L754.55 49.6L754.67 48.8L754.80 51.3L754.92 49.6L755.05 50.4L755.17 49.6L755.30 50.3L755.42 49.2L755.55 52.3L755.67 48.9L755.80 50.7L755.92 48.4L756.05 51.7L756.17 48.8L756.30 50.0L756.42 46.3L756.55 50.9L756.67 49.3L756.80 50.0L756.92 47.0L757.05 49.7L757.17 48.5L757.30 52.0L757.42 47.7L757.55 51.3L757.67 47.6L757.80 53.2L757.92 49.4L758.05 50.2L758.17 45.2L758.30 52.7L758.42 47.3L758.55 49.8L758.67 48.6L758.80 50.8L758.92 46.3L759.05 51.2L759.17 48.4L759.30 50.0L759.42 48.1L759.55 51.3L759.67 47.9L759.80 52.2L759.92 46.4L760.05 50.6L760.17 46.9L760.30 50.2L760.42 47.9L760.55 53.6L760.67 46.3L760.80 51.8L760.92 45.1L761.05 54.9L761.17 45.7L761.30 53.9L761.42 48.2L761.55 54.7L761.67 49.3L761.80 50.2L761.92 46.5L762.05 54.9L762.17 45.2L762.30 50.5L762.42 46.9L762.55 51.2L762.67 47.6L762.70 40.8L762.85 59.2L763.00 41.7L763.15 58.2L762.80 50.4L762.92 47.6L763.05 50.7L763.17 48.0L763.30 50.0L763.42 46.5L763.55 51.2L763.67 44.8L763.80 50.9L763.92 45.7L764.05 49.7L764.17 46.7L764.30 50.4L764.42 48.4L764.55 49.7L764.67 48.6L764.80 51.0L764.92 48.9L765.05 49.9L765.17 49.6L765.30 49.7L765.42 48.7L765.55 50.7L765.67 48.7L765.80 49.7L765.92 49.1L766.05 50.8L766.17 47.8L766.30 49.9L766.42 49.6L766.55 49.8L766.67 48.6L766.80 50.7L766.92 48.8L767.05 50.2L767.17 49.1L767.30 49.6L767.42 49.1L767.55 50.1L767.67 46.2L767.80 49.9L767.92 47.7L768.05 50.1L768.17 49.4L768.30 49.6L768.42 49.0L768.55 50.6L768.67 49.5L768.80 50.9L768.92 47.8L769.05 50.6L769.17 48.3L769.30 51.0L769.42 48.1L769.55 49.9L769.67 48.9L769.80 49.8L769.92 48.8L770.05 49.7L770.17 47.2L770.30 49.7L770.42 49.5L770.55 50.1L770.67 49.5L770.80 50.4L770.92 48.7L771.05 50.1L771.17 48.0L771.30 53.0L771.42 48.3L771.55 52.5L771.67 49.2L771.80 51.2L771.92 47.5L772.05 52.3L772.17 47.0L772.30 51.2L772.42 49.3L772.55 50.0L772.67 47.6L772.80 49.9L772.92 48.7L773.05 49.7L773.17 47.2L773.30 53.3L773.42 47.4L773.55 50.4L773.67 47.4L773.80 49.6L773.92 46.9L774.05 52.0L774.17 48.9L774.30 49.8L774.42 49.3L774.55 51.2L774.67 48.7L774.80 51.3L774.92 48.6L775.05 51.8L775.17 49.5L775.30 51.3L775.42 49.0L775.55 49.7L775.67 47.3L775.80 49.7L775.92 49.4L776.05 50.4L776.17 47.9L776.30 52.1L776.42 48.9L776.55 50.4L776.67 48.4L776.80 50.4L776.92 48.9L777.05 49.7L777.17 46.7L777.30 50.3L777.42 49.1L777.55 50.3L777.67 49.0L777.80 49.7L777.92 48.5L778.05 50.1L778.17 48.9L778.30 50.7L778.42 49.5L778.55 49.9L778.67 48.8L778.80 50.8L778.92 49.5L779.05 50.1L779.17 48.5L779.30 50.1L779.42 49.6L779.55 49.9L779.67 49.5L779.80 50.3L779.92 49.4L780.05 50.0L780.17 49.1L780.30 50.0L780.42 49.1L780.55 49.9L780.67 48.7L780.80 49.9L780.92 49.0L781.05 50.1L781.17 49.4L781.30 50.3L781.42 48.5L781.55 50.5L781.67 47.1L781.80 49.8L781.92 49.1L782.05 49.9L782.17 49.2L782.30 50.0L782.42 49.6L782.55 50.2L782.67 49.0L782.80 52.1L782.92 48.3L783.05 49.7L783.17 48.5L783.30 51.4L783.42 49.5L783.55 50.5L783.67 48.9L783.80 50.5L783.92 49.2L784.05 52.1L784.17 49.2L784.30 49.8L784.42 49.0L784.55 50.3L784.67 49.3L784.80 51.9L784.92 49.3L785.05 50.6L785.17 48.3L785.30 50.0L785.42 48.7L785.55 50.4L785.67 49.1L785.80 49.7L785.92 48.7L786.05 51.9L786.17 47.9L786.30 49.7L786.42 49.2L786.55 49.6L786.67 48.5L786.80 51.0L786.92 49.0L787.05 49.9L787.17 49.5L787.30 50.3L787.42 49.6L787.55 51.3L787.67 48.5L787.80 49.9L787.92 48.6L788.05 51.4L788.17 49.3L788.30 51.5L788.42 48.8L788.55 49.7L788.67 46.9L788.80 50.2L788.92 47.8L789.05 50.0L789.17 49.1L789.30 50.4L789.42 49.2" fill="none" stroke="#006400" stroke-width="0.38" stroke-linejoin="round"/>
<path d="M508.0 49.6H789.3" stroke="#006400" stroke-width="1.3"/>
<rect x="506.8" y="20.9" width="283.5" height="53.9" fill="none" stroke="#000" stroke-width="2"/>
<text class="s" x="511.5" y="92.2" font-size="10" text-anchor="middle" fill="#222">15</text>
<text class="s" x="535.1" y="92.2" font-size="10" text-anchor="middle" fill="#222">20</text>
<text class="s" x="558.8" y="92.2" font-size="10" text-anchor="middle" fill="#222">25</text>
<text class="s" x="582.5" y="92.2" font-size="10" text-anchor="middle" fill="#222">30</text>
<text class="s" x="606.1" y="92.2" font-size="10" text-anchor="middle" fill="#222">35</text>
<text class="s" x="629.8" y="92.2" font-size="10" text-anchor="middle" fill="#222">40</text>
<text class="s" x="653.4" y="92.2" font-size="10" text-anchor="middle" fill="#222">45</text>
<text class="s" x="677.0" y="92.2" font-size="10" text-anchor="middle" fill="#222">50</text>
<text class="s" x="700.7" y="92.2" font-size="10" text-anchor="middle" fill="#222">55</text>
<text class="s" x="724.4" y="92.2" font-size="10" text-anchor="middle" fill="#222">00</text>
<text class="s" x="748.0" y="92.2" font-size="10" text-anchor="middle" fill="#222">05</text>
<text class="s" x="771.6" y="92.2" font-size="10" text-anchor="middle" fill="#222">10</text>
<path d="M511.5 20.9v-5.6M511.5 74.8v5.4M535.1 20.9v-5.6M535.1 74.8v5.4M558.8 20.9v-5.6M558.8 74.8v5.4M582.5 20.9v-5.6M582.5 74.8v5.4M606.1 20.9v-5.6M606.1 74.8v5.4M629.8 20.9v-5.6M629.8 74.8v5.4M653.4 20.9v-5.6M653.4 74.8v5.4M677.0 20.9v-5.6M677.0 74.8v5.4M700.7 20.9v-5.6M700.7 74.8v5.4M724.4 20.9v-5.6M724.4 74.8v5.4M748.0 20.9v-5.6M748.0 74.8v5.4M771.6 20.9v-5.6M771.6 74.8v5.4" stroke="#000" stroke-width="1" fill="none"/>
<text class="s" x="799.5" y="33.0" font-size="9.9" font-weight="bold" style="fill:#0000ff" textLength="90.0" lengthAdjust="spacingAndGlyphs">Bomberos Puriscal</text>
<text class="s" x="799.5" y="56.7" font-size="10" style="fill:#222" textLength="62.6" lengthAdjust="spacingAndGlyphs">Acel. Max. 0.0</text>
<text class="s" x="799.5" y="74.0" font-size="10" style="fill:#222" textLength="43.5" lengthAdjust="spacingAndGlyphs">Int JMA: 0</text>
<path d="M507.80 128.2L507.93 127.9L508.05 128.2L508.18 127.9L508.30 128.4L508.43 128.0L508.55 128.1L508.68 127.7L508.80 128.1L508.93 127.9L509.05 128.3L509.18 127.1L509.30 129.0L509.43 127.6L509.55 128.0L509.68 127.9L509.80 128.1L509.93 127.9L510.05 128.4L510.18 127.8L510.30 128.1L510.43 127.6L510.55 128.5L510.68 127.7L510.80 128.5L510.93 127.5L511.05 128.4L511.18 126.8L511.30 128.7L511.43 127.8L511.55 128.3L511.68 127.9L511.80 129.3L511.93 126.7L512.05 129.2L512.17 127.1L512.30 128.3L512.42 127.8L512.55 128.0L512.67 127.4L512.80 129.1L512.92 127.6L513.05 128.4L513.17 127.4L513.30 128.2L513.42 127.9L513.55 128.9L513.67 126.9L513.80 128.4L513.92 127.9L514.05 128.2L514.17 127.7L514.30 129.0L514.42 127.7L514.55 128.3L514.67 127.7L514.80 128.1L514.92 128.0L515.05 128.4L515.17 127.9L515.30 128.1L515.42 127.5L515.55 128.8L515.67 127.7L515.80 128.3L515.92 127.9L516.05 128.1L516.17 127.3L516.30 128.8L516.42 127.6L516.55 128.8L516.67 127.7L516.80 128.5L516.92 127.7L517.05 128.1L517.17 127.7L517.30 128.6L517.42 127.4L517.55 128.4L517.67 126.9L517.80 128.2L517.92 127.9L518.05 128.9L518.17 126.6L518.30 128.5L518.42 127.8L518.55 128.6L518.67 128.0L518.80 128.1L518.92 127.6L519.05 128.0L519.17 127.6L519.30 128.4L519.42 126.8L519.55 128.7L519.67 127.8L519.80 128.1L519.92 127.8L520.05 128.7L520.17 127.6L520.30 128.2L520.42 127.3L520.55 128.3L520.67 127.3L520.80 128.9L520.92 127.0L521.05 128.8L521.17 127.8L521.30 128.4L521.42 127.5L521.55 128.2L521.67 128.0L521.80 128.6L521.92 127.9L522.05 128.2L522.17 127.5L522.30 128.5L522.42 127.5L522.55 128.4L522.67 127.7L522.80 128.3L522.92 127.4L523.05 128.1L523.17 127.9L523.30 128.5L523.42 127.7L523.55 128.2L523.67 127.9L523.80 128.7L523.92 127.8L524.05 128.2L524.17 127.6L524.30 128.5L524.42 127.5L524.55 128.1L524.67 127.9L524.80 128.0L524.92 127.3L525.05 128.1L525.17 127.0L525.30 129.3L525.42 127.8L525.55 128.8L525.67 127.7L525.80 128.5L525.92 127.1L526.05 128.4L526.17 127.3L526.30 128.2L526.42 127.9L526.55 128.8L526.67 126.8L526.80 128.3L526.92 127.7L527.05 128.6L527.17 127.4L527.30 128.3L527.42 127.2L527.55 128.1L527.67 127.6L527.80 128.0L527.92 127.2L528.05 128.4L528.17 127.8L528.30 128.7L528.42 127.3L528.55 128.5L528.67 127.5L528.80 128.9L528.92 127.6L529.05 128.8L529.17 128.0L529.30 128.1L529.42 127.8L529.55 128.9L529.67 127.9L529.80 128.0L529.92 127.6L530.05 128.0L530.17 127.8L530.30 128.2L530.42 127.9L530.55 128.1L530.67 127.8L530.80 128.7L530.92 127.9L531.05 128.7L531.17 127.4L531.30 128.1L531.42 127.1L531.55 128.5L531.67 127.7L531.80 128.1L531.92 127.5L532.05 128.7L532.17 128.0L532.30 128.7L532.42 127.9L532.55 128.1L532.67 127.0L532.80 128.3L532.92 127.9L533.05 128.8L533.17 127.8L533.30 128.1L533.42 127.8L533.55 128.4L533.67 127.4L533.80 128.3L533.92 128.0L534.05 128.2L534.17 128.0L534.30 128.3L534.42 128.0L534.55 128.7L534.67 127.1L534.80 128.7L534.92 127.8L535.05 128.5L535.17 127.7L535.30 128.5L535.42 128.0L535.55 128.1L535.67 127.7L535.80 128.9L535.92 127.8L536.05 128.4L536.17 127.6L536.30 128.3L536.42 127.1L536.55 128.0L536.67 127.8L536.80 128.3L536.92 127.9L537.05 128.0L537.17 127.6L537.30 128.2L537.42 127.9L537.55 128.1L537.67 127.8L537.80 128.3L537.92 127.8L538.05 128.1L538.17 128.0L538.30 128.3L538.42 127.9L538.55 129.2L538.67 127.8L538.80 128.6L538.92 127.4L539.05 128.6L539.17 127.5L539.30 128.1L539.42 127.8L539.55 128.5L539.67 127.6L539.80 128.2L539.92 127.4L540.05 128.5L540.17 127.7L540.30 128.4L540.42 127.8L540.55 128.6L540.67 128.0L540.80 128.2L540.92 127.8L541.05 128.1L541.17 127.6L541.30 128.4L541.42 127.2L541.55 128.4L541.67 127.7L541.80 129.3L541.92 128.0L542.05 128.2L542.17 127.6L542.30 128.2L542.42 127.8L542.55 128.1L542.67 127.7L542.80 128.8L542.92 127.8L543.05 128.0L543.17 127.9L543.30 128.1L543.42 127.8L543.55 128.0L543.67 126.9L543.80 128.3L543.92 127.2L544.05 129.1L544.17 127.4L544.30 128.7L544.42 126.9L544.55 128.3L544.67 127.4L544.80 128.7L544.92 127.9L545.05 128.5L545.17 127.7L545.30 128.2L545.42 127.1L545.55 128.4L545.67 126.7L545.80 128.6L545.92 127.9L546.05 129.0L546.17 127.9L546.30 128.5L546.42 127.0L546.55 128.2L546.67 127.7L546.80 128.0L546.92 127.6L547.05 128.2L547.17 127.8L547.30 128.3L547.42 127.6L547.55 128.6L547.67 127.6L547.80 128.3L547.92 127.8L548.05 128.6L548.17 128.0L548.30 128.2L548.42 127.9L548.55 128.4L548.67 127.9L548.80 129.2L548.92 127.4L549.05 128.5L549.17 127.8L549.30 128.1L549.42 127.8L549.55 128.4L549.67 126.9L549.80 128.0L549.92 127.9L550.05 128.2L550.17 127.9L550.30 128.2L550.42 127.6L550.55 128.3L550.67 127.9L550.80 128.0L550.92 127.9L551.05 128.2L551.17 127.3L551.30 128.0L551.42 127.1L551.55 128.6L551.67 127.5L551.80 128.4L551.92 126.8L552.05 128.8L552.17 127.4L552.30 128.6L552.42 128.0L552.55 128.2L552.67 127.9L552.80 128.3L552.92 127.9L553.05 128.3L553.17 127.4L553.30 128.1L553.42 127.6L553.55 128.2L553.67 127.8L553.80 128.2L553.92 127.6L554.05 128.2L554.17 127.3L554.30 128.5L554.42 127.0L554.55 128.9L554.67 127.8L554.80 128.5L554.92 128.0L555.05 128.1L555.17 127.9L555.30 128.8L555.42 127.9L555.55 128.0L555.67 127.7L555.80 128.3L555.92 127.8L556.05 128.1L556.17 127.5L556.30 128.1L556.42 128.0L556.55 128.7L556.67 127.1L556.80 128.0L556.92 126.8L557.05 128.5L557.17 127.6L557.30 128.6L557.42 127.2L557.55 128.5L557.67 127.2L557.80 128.3L557.92 127.4L558.05 128.9L558.17 127.0L558.30 128.7L558.42 127.3L558.55 128.9L558.67 127.5L558.80 128.2L558.92 127.6L559.05 128.3L559.17 127.5L559.30 128.8L559.42 127.6L559.55 128.4L559.67 127.6L559.80 128.8L559.92 127.0L560.05 128.0L560.17 127.6L560.30 129.3L560.42 127.7L560.55 128.1L560.67 128.0L560.80 128.1L560.92 127.6L561.05 128.9L561.17 127.8L561.30 129.2L561.42 126.9L561.55 129.1L561.67 127.3L561.80 129.6L561.92 127.9L562.05 128.7L562.17 127.8L562.30 128.2L562.42 127.2L562.55 129.5L562.67 127.9L562.80 128.3L562.92 127.1L563.05 128.4L563.17 127.2L563.30 128.2L563.42 127.7L563.55 128.3L563.67 126.7L563.80 128.7L563.92 126.8L564.05 129.3L564.17 126.6L564.30 129.6L564.42 126.6L564.55 129.9L564.67 126.8L564.80 129.1L564.92 127.9L565.05 128.4L565.17 127.2L565.30 128.9L565.42 127.6L565.55 128.1L565.67 127.8L565.80 128.9L565.92 127.9L566.05 128.3L566.17 127.8L566.30 128.8L566.42 127.4L566.55 128.2L566.67 126.6L566.80 128.1L566.92 127.8L567.05 128.1L567.17 127.3L567.30 128.5L567.42 127.6L567.55 128.6L567.67 125.5L567.80 128.4L567.92 127.9L568.05 128.2L568.17 127.9L568.30 128.3L568.42 127.8L568.55 128.3L568.67 127.7L568.80 128.8L568.92 127.5L569.05 130.1L569.17 126.8L569.30 129.5L569.42 126.2L569.55 128.3L569.67 126.2L569.80 129.0L569.92 128.0L570.05 128.6L570.17 127.3L570.30 129.8L570.42 127.9L570.55 128.3L570.67 126.3L570.80 130.1L570.92 127.6L571.05 129.4L571.17 127.5L571.30 128.4L571.42 126.3L571.55 128.6L571.67 126.7L571.80 129.0L571.92 125.8L572.05 128.8L572.17 126.4L572.30 128.1L572.42 124.7L572.55 130.9L572.67 127.0L572.80 128.1L572.92 127.2L573.05 129.7L573.17 126.5L573.30 128.7L573.42 126.8L573.55 128.2L573.67 127.4L573.80 128.3L573.92 127.7L574.05 128.9L574.17 127.7L574.30 128.6L574.42 126.7L574.55 128.0L574.67 125.6L574.80 128.4L574.92 127.8L575.05 128.6L575.17 127.4L575.30 128.6L575.42 127.6L575.55 128.6L575.67 127.8L575.80 128.4L575.92 126.8L576.05 128.4L576.17 127.0L576.30 128.0L576.42 127.4L576.55 128.6L576.67 127.8L576.80 128.8L576.92 127.7L577.05 128.3L577.17 127.5L577.30 128.3L577.42 126.8L577.55 130.2L577.67 128.0L577.80 128.6L577.92 127.9L578.05 128.9L578.17 127.4L578.30 128.9L578.42 128.0L578.55 129.0L578.67 127.4L578.80 130.7L578.92 127.6L579.05 128.0L579.17 127.7L579.30 128.2L579.42 127.9L579.55 128.9L579.67 128.0L579.80 128.0L579.92 127.4L580.05 128.4L580.17 128.0L580.30 128.6L580.42 127.5L580.55 129.8L580.67 127.7L580.80 129.3L580.92 126.4L581.05 130.0L581.17 127.9L581.30 129.6L581.42 126.2L581.55 128.8L581.67 125.8L581.80 129.4L581.92 127.9L582.05 129.7L582.17 126.6L582.30 129.5L582.42 126.2L582.55 128.3L582.67 127.0L582.80 129.5L582.92 126.3L583.05 128.4L583.17 126.7L583.30 129.4L583.42 127.8L583.55 128.7L583.67 127.8L583.80 128.1L583.92 127.1L584.05 128.7L584.17 127.1L584.30 129.0L584.42 126.0L584.55 129.1L584.67 127.4L584.80 128.6L584.92 126.6L585.05 128.6L585.17 127.6L585.30 128.0L585.42 127.7L585.55 128.8L585.67 127.8L585.80 129.2L585.92 127.8L586.05 128.6L586.17 127.4L586.30 129.4L586.42 127.8L586.55 128.4L586.67 127.7L586.80 128.5L586.92 127.0L587.05 128.4L587.17 127.5L587.30 129.4L587.42 127.4L587.55 128.1L587.67 127.9L587.80 128.1L587.92 127.9L588.05 128.1L588.17 127.9L588.30 128.4L588.42 127.9L588.55 128.1L588.67 127.9L588.80 128.4L588.92 127.9L589.05 128.0L589.17 127.8L589.30 128.4L589.42 127.9L589.55 128.1L589.67 127.9L589.80 128.4L589.92 127.8L590.05 128.1L590.17 128.0L590.30 128.1L590.42 127.3L590.55 128.2L590.67 127.1L590.80 128.5L590.92 127.5L591.05 128.4L591.17 128.0L591.30 129.2L591.42 127.0L591.55 128.6L591.67 127.4L591.80 128.8L591.92 127.7L592.05 128.2L592.17 127.8L592.30 128.4L592.42 128.0L592.55 128.4L592.67 126.7L592.80 128.4L592.92 127.8L593.05 129.3L593.17 127.5L593.30 128.1L593.42 126.9L593.55 128.4L593.67 128.0L593.80 128.3L593.92 127.9L594.05 128.0L594.17 127.9L594.30 128.4L594.42 127.8L594.55 128.2L594.67 127.9L594.80 129.0L594.92 127.1L595.05 129.1L595.17 127.7L595.30 128.6L595.42 127.7L595.55 128.9L595.67 127.8L595.80 129.1L595.92 127.8L596.05 128.9L596.17 127.6L596.30 128.2L596.42 127.7L596.55 128.4L596.67 128.0L596.80 128.5L596.92 127.5L597.05 128.9L597.17 127.4L597.30 128.0L597.42 127.6L597.55 128.5L597.67 127.6L597.80 128.8L597.92 127.5L598.05 128.9L598.17 127.7L598.30 128.2L598.42 127.6L598.55 128.7L598.67 127.1L598.80 128.4L598.92 127.5L599.05 128.9L599.17 127.8L599.30 128.1L599.42 127.3L599.55 128.8L599.67 127.8L599.80 128.3L599.92 126.9L600.05 129.4L600.17 127.9L600.30 128.2L600.42 126.6L600.55 128.5L600.67 127.9L600.80 128.4L600.92 126.7L601.05 128.2L601.17 127.3L601.30 128.1L601.42 127.9L601.55 128.1L601.67 127.2L601.80 128.1L601.92 127.6L602.05 128.2L602.17 127.5L602.30 128.4L602.42 127.1L602.55 128.0L602.67 127.8L602.80 128.6L602.92 126.6L603.05 128.0L603.17 127.6L603.30 128.7L603.42 127.6L603.55 129.1L603.67 127.5L603.80 128.1L603.92 127.4L604.05 128.4L604.17 127.7L604.30 128.4L604.42 127.7L604.55 128.5L604.67 128.0L604.80 128.3L604.92 127.5L605.05 128.5L605.17 127.6L605.30 128.2L605.42 127.7L605.55 128.2L605.67 128.0L605.80 128.5L605.92 127.1L606.05 128.8L606.17 127.5L606.30 129.3L606.42 127.1L606.55 128.8L606.67 127.9L606.80 128.0L606.92 127.9L607.05 128.1L607.17 127.4L607.30 128.0L607.42 128.0L607.55 128.3L607.67 127.8L607.80 128.3L607.92 127.6L608.05 128.2L608.17 127.8L608.30 128.0L608.42 127.6L608.55 128.3L608.67 127.4L608.80 128.5L608.92 127.3L609.05 128.0L609.17 127.9L609.30 129.2L609.42 127.2L609.55 128.3L609.67 127.6L609.80 129.4L609.92 127.4L610.05 129.1L610.17 127.1L610.30 128.2L610.42 127.7L610.55 128.3L610.67 127.7L610.80 128.5L610.92 127.6L611.05 128.7L611.17 127.4L611.30 129.1L611.42 127.2L611.55 128.1L611.67 126.7L611.80 128.7L611.92 127.9L612.05 128.4L612.17 128.0L612.30 128.4L612.42 127.8L612.55 128.2L612.67 127.7L612.80 128.5L612.92 127.6L613.05 128.3L613.17 127.9L613.30 128.0L613.42 127.9L613.55 128.1L613.67 127.7L613.80 128.4L613.92 128.0L614.05 128.1L614.17 127.9L614.30 128.1L614.42 127.7L614.55 128.1L614.67 128.0L614.80 128.2L614.92 127.7L615.05 128.7L615.17 128.0L615.30 128.4L615.42 127.8L615.55 128.8L615.67 127.6L615.80 128.3L615.92 127.8L616.05 128.1L616.17 127.9L616.30 129.2L616.42 127.7L616.55 128.3L616.67 127.7L616.80 128.4L616.92 127.6L617.05 128.4L617.17 127.0L617.30 128.1L617.42 128.0L617.55 128.3L617.67 127.9L617.80 128.3L617.92 127.9L618.05 128.2L618.17 128.0L618.30 128.1L618.42 127.8L618.55 128.1L618.67 127.8L618.80 128.2L618.92 127.8L619.05 128.1L619.17 127.7L619.30 128.8L619.42 127.7L619.55 128.2L619.67 127.9L619.80 128.0L619.92 127.7L620.05 129.1L620.17 127.9L620.30 128.1L620.42 127.8L620.55 128.5L620.67 128.0L620.80 128.0L620.92 127.9L621.05 128.4L621.17 127.6L621.30 128.3L621.42 127.5L621.55 128.5L621.67 126.7L621.80 128.3L621.92 127.1L622.05 128.3L622.17 127.2L622.30 128.7L622.42 127.3L622.55 128.4L622.67 127.1L622.80 129.0L622.92 127.1L623.05 128.6L623.17 128.0L623.30 129.4L623.42 127.7L623.55 129.1L623.67 127.8L623.80 128.2L623.92 127.3L624.05 128.1L624.17 127.3L624.30 128.5L624.42 127.4L624.55 128.9L624.67 127.8L624.80 128.0L624.92 128.0L625.05 128.2L625.17 127.1L625.30 128.3L625.42 127.2L625.55 128.5L625.67 127.9L625.80 128.3L625.92 127.6L626.05 128.4L626.17 127.6L626.30 128.8L626.42 127.2L626.55 129.5L626.67 127.3L626.80 128.1L626.92 127.6L627.05 128.6L627.17 126.1L627.30 128.3L627.42 126.9L627.55 128.6L627.67 127.3L627.80 128.3L627.92 128.0L628.05 128.2L628.17 125.7L628.30 128.8L628.42 127.0L628.55 129.0L628.67 127.6L628.80 128.1L628.92 127.5L629.05 128.6L629.17 127.8L629.30 128.3L629.42 127.7L629.55 128.6L629.67 126.8L629.80 129.0L629.92 127.3L630.05 129.1L630.17 127.1L630.30 129.9L630.42 126.7L630.55 130.8L630.67 126.2L630.80 128.7L630.92 126.6L631.05 128.3L631.17 126.9L631.30 128.5L631.42 127.7L631.55 128.4L631.67 127.1L631.80 129.6L631.92 127.6L632.05 128.4L632.17 128.0L632.30 131.0L632.42 126.3L632.55 130.5L632.67 127.2L632.80 128.3L632.92 127.4L633.05 129.6L633.17 127.9L633.30 128.5L633.42 127.5L633.55 130.8L633.67 127.7L633.80 129.5L633.92 126.3L634.05 129.6L634.17 126.1L634.30 128.6L634.42 127.7L634.55 128.6L634.67 127.0L634.80 129.2L634.92 127.9L635.05 129.9L635.17 126.5L635.30 128.7L635.42 126.9L635.55 129.8L635.67 126.7L635.80 129.3L635.92 126.1L636.05 128.9L636.17 126.8L636.30 128.2L636.42 126.5L636.55 128.2L636.67 127.0L636.80 130.2L636.92 127.6L637.05 128.3L637.17 126.3L637.30 128.7L637.42 127.8L637.55 128.4L637.67 125.5L637.80 129.7L637.92 127.8L638.05 130.1L638.17 127.7L638.30 128.7L638.42 125.7L638.55 129.5L638.67 126.5L638.80 129.1L638.92 126.6L639.05 128.2L639.17 128.0L639.30 129.6L639.42 127.9L639.55 128.1L639.67 127.8L639.80 128.2L639.92 128.0L640.05 128.8L640.17 127.8L640.30 128.7L640.42 127.7L640.55 130.8L640.67 125.2L640.80 129.8L640.92 127.3L641.05 128.7L641.17 126.1L641.30 131.1L641.42 127.6L641.55 128.8L641.67 126.8L641.80 129.1L641.92 126.4L642.05 128.0L642.17 127.7L642.30 128.4L642.42 125.7L642.55 128.6L642.67 127.4L642.80 129.3L642.92 126.6L643.05 130.6L643.17 124.3L643.30 129.6L643.42 127.1L643.55 128.9L643.67 127.0L643.80 128.9L643.92 127.1L644.05 128.2L644.17 126.7L644.30 129.5L644.42 127.9L644.55 129.1L644.67 126.6L644.80 129.6L644.92 127.6L645.05 128.4L645.17 126.8L645.30 128.6L645.42 127.9L645.55 130.1L645.67 126.9L645.80 129.9L645.92 127.9L646.05 129.5L646.17 125.9L646.30 128.3L646.42 127.2L646.55 128.4L646.67 127.4L646.80 128.7L646.92 127.7L647.05 128.9L647.17 126.1L647.30 128.1L647.42 127.4L647.55 128.5L647.67 127.7L647.80 128.5L647.92 127.6L648.05 128.1L648.17 127.9L648.30 128.1L648.42 126.7L648.55 128.8L648.67 127.6L648.80 128.2L648.92 127.8L649.05 128.4L649.17 124.2L649.30 129.6L649.42 127.7L649.55 128.3L649.67 127.7L649.80 128.2L649.92 127.1L650.05 128.5L650.17 128.0L650.30 128.3L650.42 127.7L650.55 128.3L650.67 127.4L650.80 128.1L650.92 126.8L651.05 130.6L651.17 127.4L651.30 131.7L651.42 127.9L651.55 128.7L651.67 127.9L651.80 130.2L651.92 126.6L652.05 131.7L652.17 125.3L652.30 130.7L652.42 127.7L652.55 129.4L652.67 125.6L652.80 128.1L652.92 127.0L653.05 128.1L653.17 127.9L653.30 128.4L653.42 127.9L653.55 130.0L653.67 127.7L653.80 129.0L653.92 126.7L654.00 124.5L654.15 130.0L654.30 124.8L654.45 129.8L654.05 129.0L654.17 127.1L654.30 130.4L654.42 124.1L654.55 131.2L654.67 126.7L654.80 132.1L654.92 126.9L655.05 129.7L655.17 124.9L655.30 129.5L655.42 127.5L655.55 128.2L655.67 127.9L655.80 129.2L655.92 127.7L656.05 128.8L656.17 127.5L656.30 128.7L656.42 125.1L656.55 128.4L656.67 127.5L656.80 129.1L656.92 126.7L657.05 130.2L657.17 127.0L657.30 129.0L657.42 126.6L657.55 129.4L657.67 127.2L657.80 130.7L657.92 126.4L658.05 128.4L658.17 125.5L658.30 130.3L658.42 127.7L658.55 129.6L658.67 127.0L658.80 128.2L658.92 126.6L659.05 129.1L659.17 127.4L659.30 128.6L659.42 126.3L659.55 128.9L659.67 125.4L659.80 129.9L659.92 125.9L660.05 128.7L660.17 127.6L660.30 128.2L660.42 127.6L660.55 128.2L660.67 128.0L660.80 128.3L660.92 127.5L661.05 128.1L661.17 127.7L661.30 131.2L661.42 126.6L661.55 130.2L661.67 127.9L661.80 129.1L661.92 126.3L662.05 130.4L662.17 127.6L662.30 128.8L662.42 127.9L662.55 128.2L662.67 127.7L662.80 128.7L662.92 127.4L663.05 128.1L663.17 127.5L663.30 128.3L663.42 127.5L663.55 128.6L663.67 127.5L663.80 128.1L663.92 127.6L664.05 128.9L664.17 127.5L664.30 128.9L664.42 128.0L664.55 128.1L664.67 127.7L664.80 128.0L664.92 127.7L665.05 128.6L665.17 126.8L665.30 128.2L665.42 128.0L665.55 128.8L665.67 127.5L665.80 128.5L665.92 127.4L666.05 130.0L666.17 127.8L666.30 128.9L666.42 127.2L666.55 129.0L666.67 128.0L666.80 128.7L666.92 127.5L667.05 128.5L667.17 126.8L667.30 129.4L667.42 126.1L667.55 128.5L667.67 127.5L667.80 128.1L667.92 127.9L668.05 128.3L668.17 127.6L668.30 128.7L668.42 127.9L668.55 128.5L668.67 127.9L668.80 129.0L668.92 127.6L669.05 128.4L669.17 128.0L669.30 128.2L669.42 127.7L669.55 128.8L669.67 127.8L669.80 128.4L669.92 128.0L670.05 128.2L670.17 127.4L670.30 128.1L670.42 127.4L670.55 128.1L670.67 127.6L670.80 128.3L670.92 126.3L671.05 128.7L671.17 125.8L671.30 129.2L671.42 126.8L671.55 130.3L671.67 126.5L671.80 129.9L671.92 126.3L672.05 128.5L672.17 127.9L672.30 128.0L672.42 127.5L672.55 128.2L672.67 127.8L672.80 129.0L672.92 127.4L673.05 129.2L673.17 127.4L673.30 128.2L673.42 126.5L673.55 128.7L673.67 127.8L673.80 130.2L673.92 127.7L674.05 128.3L674.17 127.2L674.30 129.4L674.42 127.5L674.55 128.8L674.67 127.5L674.80 128.2L674.92 126.2L675.05 128.8L675.17 125.8L675.30 128.0L675.42 127.4L675.55 128.2L675.67 127.5L675.80 128.3L675.92 127.7L676.05 128.8L676.17 127.0L676.30 128.4L676.42 127.0L676.55 128.4L676.67 127.8L676.80 129.1L676.92 127.2L677.05 128.6L677.17 127.1L677.30 128.1L677.42 127.6L677.55 128.8L677.67 127.7L677.80 128.5L677.92 127.2L678.05 128.1L678.17 127.5L678.30 128.1L678.42 127.4L678.55 128.8L678.67 127.5L678.80 128.2L678.92 127.8L679.05 128.2L679.17 128.0L679.30 128.2L679.42 127.8L679.55 128.5L679.67 127.1L679.80 128.3L679.92 127.2L680.05 129.4L680.17 127.0L680.30 129.2L680.42 127.8L680.55 129.4L680.67 126.3L680.80 128.8L680.92 127.3L681.05 128.6L681.17 127.8L681.30 128.7L681.42 127.5L681.55 128.1L681.67 127.2L681.80 128.1L681.92 127.3L682.05 128.4L682.17 127.7L682.30 128.7L682.42 127.5L682.55 128.1L682.67 127.4L682.80 130.0L682.92 126.4L683.05 129.5L683.17 127.0L683.30 128.6L683.42 127.8L683.55 128.4L683.67 127.4L683.80 128.2L683.92 127.8L684.05 128.5L684.17 127.1L684.30 128.2L684.42 127.6L684.55 128.4L684.67 127.8L684.80 130.1L684.92 127.6L685.05 128.3L685.17 126.1L685.30 128.5L685.42 125.9L685.55 128.4L685.67 126.9L685.80 129.6L685.92 128.0L686.05 129.0L686.17 126.3L686.30 129.9L686.42 127.4L686.55 129.6L686.67 127.0L686.80 129.1L686.92 126.5L687.05 129.1L687.17 127.7L687.30 128.5L687.42 127.2L687.55 128.4L687.67 127.7L687.80 128.8L687.92 127.8L688.05 129.3L688.17 127.8L688.30 128.4L688.42 128.0L688.55 130.0L688.67 127.5L688.80 128.2L688.92 127.4L689.05 129.1L689.17 127.3L689.30 128.3L689.42 127.1L689.55 129.6L689.67 127.7L689.80 128.1L689.92 126.8L690.05 129.0L690.17 127.9L690.30 128.1L690.42 127.5L690.55 128.7L690.67 127.8L690.80 128.5L690.92 127.3L691.05 128.3L691.17 126.5L691.30 128.0L691.42 125.2L691.55 129.5L691.67 127.7L691.80 128.5L691.92 125.5L692.05 128.5L692.17 127.2L692.30 128.4L692.42 126.7L692.55 128.5L692.67 127.2L692.80 128.6L692.92 127.5L693.05 128.1L693.17 127.7L693.30 128.4L693.42 127.5L693.55 128.1L693.67 126.5L693.80 129.2L693.92 125.7L694.05 128.7L694.17 127.8L694.30 129.4L694.42 125.7L694.55 128.8L694.67 126.3L694.80 128.3L694.92 127.0L695.05 128.7L695.17 127.0L695.30 128.2L695.42 127.8L695.55 128.8L695.67 127.8L695.80 128.0L695.92 125.9L696.05 128.2L696.17 125.3L696.30 130.8L696.42 125.1L696.55 128.2L696.67 126.2L696.80 129.8L696.92 125.0L697.05 128.3L697.17 127.7L697.30 128.2L697.42 127.7L697.55 128.6L697.67 127.5L697.80 130.2L697.92 127.5L698.05 128.4L698.17 127.2L698.30 130.3L698.42 127.7L698.55 131.0L698.67 127.9L698.80 129.2L698.92 127.4L699.05 128.4L699.17 124.8L699.30 129.9L699.42 126.9L699.55 129.9L699.67 126.7L699.80 128.7L699.92 125.8L700.05 128.5L700.17 125.9L700.30 129.1L700.42 126.8L700.55 128.6L700.67 127.4L700.80 129.0L700.92 126.4L701.05 128.0L701.17 126.0L701.30 128.6L701.42 126.8L701.55 129.0L701.67 127.8L701.80 129.1L701.92 126.0L702.05 128.5L702.17 128.0L702.30 130.8L702.42 125.8L702.55 131.2L702.67 127.5L702.80 128.1L702.92 125.8L703.05 128.2L703.17 126.0L703.30 128.2L703.42 127.0L703.55 129.6L703.67 127.5L703.80 132.6L703.92 127.6L704.05 128.3L704.17 125.4L704.30 128.9L704.42 126.5L704.55 128.3L704.67 127.7L704.80 128.6L704.92 127.6L705.05 128.7L705.17 126.4L705.30 128.4L705.42 127.3L705.55 128.9L705.67 125.6L705.80 129.8L705.92 127.5L706.05 129.1L706.17 127.7L706.30 129.3L706.42 127.6L706.55 128.5L706.67 126.2L706.80 128.5L706.92 126.8L707.05 130.5L707.17 126.5L707.30 128.5L707.42 126.0L707.55 131.7L707.67 125.1L707.80 128.4L707.92 125.3L708.05 129.7L708.17 126.9L708.30 131.3L708.42 127.9L708.50 123.0L708.65 133.0L708.80 123.5L708.95 132.5L708.55 129.7L708.67 125.3L708.80 130.2L708.92 124.1L709.05 129.1L709.17 125.7L709.30 130.0L709.42 127.5L709.55 128.8L709.67 127.8L709.80 128.6L709.92 126.1L710.05 129.3L710.17 127.9L710.30 131.3L710.42 126.7L710.55 128.6L710.67 127.3L710.80 129.1L710.92 125.7L711.05 130.0L711.17 126.7L711.30 128.7L711.42 127.6L711.55 130.9L711.67 125.4L711.80 133.0L711.92 127.8L712.05 128.6L712.17 127.3L712.30 131.7L712.42 127.7L712.55 128.2L712.67 128.0L712.80 128.1L712.92 126.5L713.05 129.5L713.17 127.2L713.30 128.8L713.42 127.5L713.55 128.2L713.67 125.6L713.80 128.4L713.92 126.9L714.05 131.4L714.17 125.5L714.30 129.3L714.42 126.8L714.55 129.7L714.67 125.6L714.80 130.1L714.92 127.6L715.05 129.2L715.17 125.8L715.30 131.4L715.42 127.0L715.55 130.8L715.67 123.0L715.80 131.8L715.92 126.0L716.05 131.3L716.17 123.5L716.30 133.7L716.42 127.8L716.55 131.5L716.67 127.6L716.80 128.8L716.92 125.2L717.05 130.9L717.17 126.7L717.30 132.1L717.42 124.4L717.55 128.4L717.67 122.9L717.80 128.6L717.92 121.2L718.05 128.6L718.17 124.1L718.30 131.0L718.42 127.7L718.55 128.3L718.67 126.6L718.80 128.4L718.92 125.0L719.05 128.6L719.17 126.1L719.30 128.6L719.42 126.1L719.55 128.7L719.67 127.8L719.80 130.0L719.92 127.1L720.05 131.3L720.17 125.3L720.30 129.1L720.42 125.4L720.55 129.2L720.67 128.0L720.80 130.0L720.92 124.9L721.05 130.0L721.17 125.8L721.30 133.7L721.42 126.7L721.55 128.1L721.67 125.8L721.80 128.6L721.92 126.2L722.00 119.0L722.15 137.0L722.30 119.9L722.45 136.1L722.05 133.9L722.17 123.9L722.30 136.2L722.42 126.7L722.55 131.9L722.67 125.4L722.80 131.1L722.92 124.0L723.05 128.8L723.17 126.8L723.30 137.3L723.42 122.7L723.55 130.2L723.67 122.5L723.80 131.6L723.92 126.5L724.05 128.2L724.17 125.8L724.30 129.1L724.42 123.8L724.55 131.2L724.67 118.9L724.80 131.8L724.92 121.3L725.05 132.8L725.17 127.6L725.30 128.2L725.42 124.5L725.55 128.2L725.67 120.5L725.80 133.0L725.92 125.5L726.05 129.2L726.17 127.3L726.30 129.8L726.42 127.7L726.55 134.1L726.67 127.5L726.80 128.2L726.92 123.8L727.05 130.7L727.17 123.3L727.30 133.5L727.42 126.0L727.55 129.6L727.67 127.1L727.80 130.5L727.92 124.6L728.00 120.0L728.15 134.0L728.30 120.8L728.45 133.4L728.05 133.2L728.17 127.8L728.30 131.7L728.42 125.9L728.55 131.2L728.67 126.1L728.80 130.8L728.92 125.8L729.05 128.5L729.17 127.8L729.30 129.2L729.42 125.5L729.55 129.4L729.67 127.3L729.80 130.6L729.92 125.6L730.05 131.6L730.17 124.1L730.30 129.2L730.42 123.3L730.55 129.5L730.67 126.1L730.80 128.3L730.92 124.9L731.05 131.5L731.17 126.1L731.30 132.9L731.42 127.3L731.55 129.5L731.67 120.3L731.80 130.2L731.92 124.6L732.05 131.5L732.17 125.9L732.30 128.3L732.42 122.2L732.55 131.4L732.60 118.0L732.75 136.0L732.90 119.0L733.05 135.2L732.67 127.6L732.80 131.2L732.92 121.0L733.05 129.5L733.17 127.3L733.30 128.5L733.42 126.1L733.55 130.4L733.67 126.0L733.70 103.0L733.85 153.0L734.00 105.5L734.15 150.5L733.80 131.2L733.92 120.4L734.05 138.0L734.17 125.6L734.30 128.2L734.42 127.2L734.55 129.3L734.67 127.5L734.80 129.5L734.80 119.0L734.95 137.0L735.10 119.9L735.25 136.1L734.92 126.1L735.05 128.2L735.17 126.6L735.30 131.1L735.42 122.4L735.55 131.8L735.67 123.3L735.80 128.1L735.92 123.1L736.05 128.8L736.17 126.7L736.30 128.6L736.42 125.8L736.55 128.3L736.67 123.6L736.80 128.9L736.92 127.9L737.05 129.3L737.17 124.8L737.30 130.8L737.42 125.7L737.55 131.6L737.67 127.0L737.80 128.6L737.92 126.2L738.05 129.7L738.17 126.9L738.30 130.1L738.42 124.8L738.55 130.7L738.67 126.0L738.80 130.4L738.92 127.3L739.05 128.7L739.17 122.7L739.30 130.0L739.42 123.6L739.55 132.9L739.67 125.2L739.80 129.7L739.92 127.6L740.05 132.7L740.17 123.7L740.30 130.3L740.42 125.8L740.55 129.4L740.67 124.3L740.80 128.4L740.92 127.9L741.05 130.6L741.17 124.8L741.30 132.4L741.42 126.4L741.55 130.5L741.67 127.3L741.80 128.9L741.92 127.7L742.05 130.4L742.17 123.8L742.30 132.5L742.42 127.2L742.55 132.5L742.67 122.7L742.80 128.6L742.92 127.0L743.05 128.7L743.17 126.2L743.30 129.5L743.42 126.6L743.55 129.4L743.67 126.4L743.80 130.4L743.92 124.2L744.05 130.3L744.17 126.1L744.30 130.0L744.42 123.4L744.55 129.7L744.67 126.7L744.80 129.6L744.92 127.9L745.05 131.0L745.17 126.1L745.30 131.2L745.42 124.9L745.55 128.1L745.67 126.9L745.80 128.6L745.92 127.7L746.05 129.7L746.17 127.2L746.30 128.7L746.42 127.0L746.55 129.1L746.67 126.7L746.80 129.1L746.92 127.4L747.05 129.5L747.17 127.9L747.30 128.7L747.42 127.7L747.55 128.6L747.67 127.7L747.80 128.5L747.92 127.5L748.05 129.7L748.17 127.8L748.30 128.9L748.42 126.8L748.55 129.7L748.67 124.9L748.80 130.0L748.92 126.2L749.05 128.8L749.17 127.9L749.30 130.2L749.42 127.6L749.55 129.3L749.67 126.8L749.80 130.5L749.92 126.9L750.05 129.4L750.17 127.4L750.30 128.0L750.42 126.2L750.55 128.6L750.67 127.3L750.80 128.7L750.92 127.7L751.05 128.6L751.17 125.4L751.30 128.0L751.42 127.3L751.55 128.0L751.67 127.9L751.80 128.3L751.92 126.9L752.05 128.5L752.17 127.3L752.30 130.0L752.42 126.6L752.55 129.8L752.67 127.6L752.80 128.5L752.92 126.6L753.05 129.1L753.17 127.8L753.30 129.3L753.42 127.1L753.55 130.8L753.67 128.0L753.80 128.4L753.92 127.8L754.05 129.4L754.17 127.8L754.30 128.5L754.42 127.6L754.55 129.0L754.67 126.2L754.80 130.7L754.92 127.5L755.05 128.7L755.17 127.0L755.30 129.4L755.42 127.3L755.55 128.4L755.67 127.9L755.80 128.1L755.92 127.7L756.05 128.3L756.17 128.0L756.30 128.3L756.42 128.0L756.55 129.1L756.67 127.6L756.80 128.2L756.92 127.0L757.05 128.7L757.17 127.0L757.30 128.3L757.42 126.1L757.55 128.8L757.67 126.2L757.80 129.2L757.92 127.9L758.05 129.0L758.17 127.8L758.30 129.0L758.42 127.0L758.55 128.3L758.67 127.6L758.80 128.9L758.92 126.7L759.05 128.3L759.17 127.9L759.30 128.9L759.42 125.8L759.55 128.2L759.67 127.3L759.80 128.1L759.92 127.5L760.05 128.2L760.17 127.8L760.30 128.7L760.42 127.0L760.55 131.2L760.67 126.5L760.80 128.4L760.92 126.5L761.05 128.9L761.17 125.3L761.30 129.2L761.42 126.4L761.55 130.6L761.67 126.7L761.80 128.1L761.92 127.5L762.05 128.8L762.17 127.3L762.30 128.0L762.42 126.2L762.55 129.3L762.67 124.8L762.80 128.5L762.92 127.0L763.05 128.4L763.17 127.2L763.30 128.5L763.42 127.5L763.55 128.0L763.67 127.0L763.80 128.9L763.92 127.7L764.05 130.5L764.17 125.6L764.30 129.8L764.42 124.6L764.55 130.1L764.67 125.1L764.80 128.4L764.92 127.9L765.05 128.2L765.17 127.3L765.30 129.2L765.42 127.0L765.55 128.2L765.67 127.0L765.80 129.1L765.92 126.3L766.05 128.5L766.17 126.4L766.30 128.6L766.42 127.6L766.55 128.2L766.67 127.6L766.80 128.4L766.92 127.9L767.05 128.1L767.17 127.4L767.30 128.5L767.42 127.3L767.55 128.3L767.67 127.9L767.80 128.4L767.92 124.5L768.05 128.3L768.17 127.0L768.30 128.5L768.42 127.8L768.55 128.0L768.67 126.9L768.80 128.3L768.92 126.8L769.05 128.7L769.17 127.6L769.30 128.5L769.42 127.0L769.55 128.3L769.67 125.4L769.80 129.3L769.92 126.3L770.05 130.6L770.17 126.8L770.30 128.5L770.42 127.8L770.55 128.0L770.67 127.6L770.80 128.5L770.92 125.6L771.05 130.0L771.17 128.0L771.30 128.7L771.42 126.9L771.55 129.8L771.67 126.8L771.80 128.7L771.92 127.0L772.05 130.0L772.17 127.2L772.30 128.2L772.42 127.4L772.55 129.4L772.67 126.5L772.80 128.4L772.92 126.7L773.05 129.6L773.17 126.8L773.30 129.8L773.42 127.8L773.55 128.1L773.67 127.3L773.80 128.1L773.92 126.6L774.05 128.4L774.17 127.7L774.30 128.3L774.42 124.7L774.55 129.5L774.67 126.1L774.80 131.3L774.92 127.9L775.05 131.0L775.17 125.6L775.30 130.1L775.42 125.7L775.55 131.2L775.67 126.6L775.80 131.9L775.92 125.1L776.05 131.7L776.17 125.7L776.30 128.1L776.42 127.3L776.55 131.9L776.67 126.0L776.80 128.5L776.92 127.3L777.05 128.2L777.17 126.4L777.30 131.9L777.42 125.8L777.55 130.4L777.67 127.3L777.80 130.4L777.92 127.7L778.05 130.6L778.17 125.7L778.30 128.2L778.42 126.9L778.55 128.8L778.67 126.9L778.80 129.2L778.92 126.2L779.05 128.1L779.17 125.5L779.30 129.1L779.42 127.6L779.55 130.2L779.67 127.4L779.80 129.1L779.92 126.6L780.05 128.3L780.17 127.2L780.30 128.9L780.42 124.8L780.55 128.1L780.67 126.5L780.80 128.7L780.92 127.3L781.05 129.3L781.17 127.9L781.30 130.0L781.42 127.5L781.55 129.0L781.67 125.3L781.80 128.6L781.92 127.4L782.05 128.3L782.17 127.7L782.30 128.3L782.42 124.9L782.55 129.1L782.67 125.2L782.80 130.6L782.92 127.9L783.05 128.9L783.17 127.3L783.30 129.4L783.42 126.9L783.55 130.1L783.67 127.3L783.80 128.0L783.92 127.8L784.05 128.2L784.17 127.5L784.30 128.2L784.42 126.6L784.55 128.1L784.67 127.2L784.80 134.0L784.92 126.4L785.05 132.1L785.17 125.0L785.30 134.5L785.42 124.4L785.55 134.2L785.67 126.3L785.80 128.7L785.92 124.9L786.00 120.0L786.15 137.0L786.30 120.8L786.45 136.1L786.05 128.6L786.17 125.1L786.30 135.1L786.42 126.7L786.55 136.8L786.67 127.9L786.80 131.0L786.92 126.0L787.05 128.4L787.17 123.2L787.30 130.8L787.42 118.6L787.55 135.7L787.67 126.7L787.80 132.7L787.92 127.3L788.00 117.3L788.15 138.0L788.30 118.4L788.45 137.0L788.05 139.6L788.17 126.3L788.30 128.9L788.42 127.0L788.55 129.8L788.67 125.3L788.80 128.4L788.92 124.2L789.05 135.0L789.17 121.4L789.30 132.0L789.42 127.8" fill="none" stroke="#006400" stroke-width="0.38" stroke-linejoin="round"/>
<path d="M508.0 128.0H789.3" stroke="#006400" stroke-width="1.3"/>
<rect x="506.8" y="100.5" width="283.5" height="53.5" fill="none" stroke="#000" stroke-width="2"/>
<text class="s" x="516.3" y="171.4" font-size="10" text-anchor="middle" fill="#222">15</text>
<text class="s" x="539.9" y="171.4" font-size="10" text-anchor="middle" fill="#222">20</text>
<text class="s" x="563.6" y="171.4" font-size="10" text-anchor="middle" fill="#222">25</text>
<text class="s" x="587.2" y="171.4" font-size="10" text-anchor="middle" fill="#222">30</text>
<text class="s" x="610.9" y="171.4" font-size="10" text-anchor="middle" fill="#222">35</text>
<text class="s" x="634.5" y="171.4" font-size="10" text-anchor="middle" fill="#222">40</text>
<text class="s" x="658.2" y="171.4" font-size="10" text-anchor="middle" fill="#222">45</text>
<text class="s" x="681.8" y="171.4" font-size="10" text-anchor="middle" fill="#222">50</text>
<text class="s" x="705.5" y="171.4" font-size="10" text-anchor="middle" fill="#222">55</text>
<text class="s" x="729.1" y="171.4" font-size="10" text-anchor="middle" fill="#222">00</text>
<text class="s" x="752.8" y="171.4" font-size="10" text-anchor="middle" fill="#222">05</text>
<text class="s" x="776.4" y="171.4" font-size="10" text-anchor="middle" fill="#222">10</text>
<path d="M516.3 100.5v-5.6M516.3 154.0v5.4M539.9 100.5v-5.6M539.9 154.0v5.4M563.6 100.5v-5.6M563.6 154.0v5.4M587.2 100.5v-5.6M587.2 154.0v5.4M610.9 100.5v-5.6M610.9 154.0v5.4M634.5 100.5v-5.6M634.5 154.0v5.4M658.2 100.5v-5.6M658.2 154.0v5.4M681.8 100.5v-5.6M681.8 154.0v5.4M705.5 100.5v-5.6M705.5 154.0v5.4M729.1 100.5v-5.6M729.1 154.0v5.4M752.8 100.5v-5.6M752.8 154.0v5.4M776.4 100.5v-5.6M776.4 154.0v5.4" stroke="#000" stroke-width="1" fill="none"/>
<text class="s" x="799.5" y="112.5" font-size="9.9" font-weight="bold" style="fill:#0000ff" textLength="103.2" lengthAdjust="spacingAndGlyphs">S.L. Gonzaga,Cartago</text>
<text class="s" x="799.5" y="135.2" font-size="10" style="fill:#222" textLength="62.6" lengthAdjust="spacingAndGlyphs">Acel. Max. 0.0</text>
<text class="s" x="799.5" y="152.9" font-size="10" style="fill:#222" textLength="43.5" lengthAdjust="spacingAndGlyphs">Int JMA: 0</text>
<path d="M507.80 213.6L507.93 207.9L508.05 213.3L508.18 206.7L508.30 211.5L508.43 206.6L508.55 212.9L508.68 205.1L508.80 213.6L508.93 210.7L509.05 215.3L509.18 209.2L509.30 211.7L509.43 210.7L509.55 213.0L509.68 209.3L509.80 212.1L509.93 207.9L510.05 212.0L510.18 207.0L510.30 213.2L510.43 209.8L510.55 212.6L510.68 208.3L510.80 214.0L510.93 208.7L511.05 215.8L511.18 209.8L511.30 213.0L511.43 204.2L511.55 214.0L511.68 207.7L511.80 214.7L511.93 208.3L512.05 218.3L512.17 206.3L512.30 216.3L512.42 202.7L512.55 216.9L512.67 206.9L512.80 219.4L512.92 205.3L513.00 190.7L513.15 224.7L513.30 192.7L513.45 223.3L513.05 220.8L513.17 210.3L513.30 213.3L513.42 196.6L513.55 212.5L513.67 210.5L513.80 218.6L513.92 191.2L514.05 222.7L514.17 207.5L514.30 214.9L514.42 195.3L514.55 220.5L514.67 198.9L514.80 214.4L514.92 196.1L515.05 213.0L515.17 198.6L515.30 212.7L515.42 204.1L515.50 183.7L515.65 228.7L515.80 186.4L515.95 226.9L515.55 214.5L515.67 196.6L515.80 213.0L515.92 208.4L516.05 218.5L516.17 205.2L516.30 227.8L516.42 194.2L516.55 222.2L516.67 204.4L516.80 214.2L516.92 202.1L517.00 185.7L517.15 231.7L517.30 188.2L517.45 229.6L517.05 228.2L517.17 203.0L517.30 215.5L517.42 205.6L517.55 220.5L517.67 202.7L517.80 212.0L517.92 207.4L518.05 212.3L518.17 210.6L518.30 232.9L518.42 204.8L518.50 186.7L518.65 230.7L518.80 189.1L518.95 228.7L518.55 212.9L518.67 207.5L518.80 211.9L518.92 206.7L519.05 211.1L519.17 210.3L519.30 216.4L519.42 193.8L519.55 232.4L519.67 192.9L519.80 221.3L519.92 205.8L520.05 215.7L520.17 183.8L520.30 231.3L520.42 210.4L520.50 188.7L520.65 231.7L520.80 190.9L520.95 229.6L520.55 220.8L520.67 210.3L520.80 211.7L520.92 210.1L521.05 213.4L521.17 204.5L521.30 215.1L521.42 210.0L521.55 213.7L521.67 203.3L521.80 214.9L521.92 202.3L522.05 211.2L522.17 207.5L522.30 219.2L522.42 202.4L522.50 193.7L522.65 229.7L522.80 195.4L522.95 227.8L522.55 214.7L522.67 210.6L522.80 216.2L522.92 191.7L523.05 226.2L523.17 202.5L523.30 218.3L523.42 199.6L523.55 225.5L523.67 207.6L523.80 214.4L523.92 202.3L524.00 191.7L524.15 225.7L524.30 193.6L524.45 224.2L524.05 212.5L524.17 193.2L524.30 216.9L524.42 207.9L524.55 219.8L524.67 202.1L524.80 230.4L524.92 210.3L525.05 225.5L525.17 190.3L525.30 217.6L525.42 210.2L525.55 220.4L525.67 205.4L525.80 216.1L525.92 207.0L526.05 227.5L526.17 207.9L526.30 219.8L526.42 208.4L526.55 214.5L526.67 203.9L526.80 211.7L526.92 202.8L527.05 212.1L527.17 205.8L527.30 210.9L527.42 207.1L527.55 211.8L527.67 203.6L527.80 214.7L527.92 205.2L528.00 198.7L528.15 221.7L528.30 199.9L528.45 220.6L528.05 226.5L528.17 203.9L528.30 222.5L528.42 204.1L528.55 215.9L528.67 204.8L528.80 214.1L528.92 208.8L529.05 226.3L529.17 198.0L529.30 214.1L529.42 204.1L529.55 220.7L529.67 206.6L529.80 217.6L529.92 203.8L530.05 220.1L530.17 201.3L530.30 215.1L530.42 206.9L530.55 228.3L530.67 193.8L530.80 217.6L530.92 207.5L531.05 215.6L531.17 207.0L531.30 224.0L531.42 207.8L531.55 212.9L531.67 206.5L531.80 217.2L531.92 204.8L532.00 196.7L532.15 223.7L532.30 198.1L532.45 222.4L532.05 223.9L532.17 208.9L532.30 211.0L532.42 209.4L532.55 218.5L532.67 206.5L532.80 215.2L532.92 206.9L533.05 219.7L533.17 202.5L533.30 215.5L533.42 210.2L533.55 211.8L533.67 209.6L533.80 212.9L533.92 209.7L534.05 210.9L534.17 208.0L534.30 213.2L534.42 205.6L534.55 213.8L534.67 205.4L534.80 223.3L534.92 210.1L535.00 195.7L535.15 224.7L535.30 197.2L535.45 223.3L535.05 221.9L535.17 206.0L535.30 224.7L535.42 196.7L535.55 224.1L535.67 200.7L535.80 213.9L535.92 207.1L536.05 212.1L536.17 209.3L536.30 217.7L536.42 202.9L536.55 221.4L536.67 193.4L536.80 220.4L536.92 195.9L537.05 215.7L537.17 205.8L537.30 210.8L537.42 201.3L537.55 215.1L537.67 203.8L537.80 211.1L537.92 207.1L538.05 219.5L538.17 210.7L538.30 216.3L538.42 206.0L538.50 192.7L538.65 222.7L538.80 194.5L538.95 221.5L538.55 225.9L538.67 199.2L538.80 224.1L538.92 209.6L539.05 217.6L539.17 199.8L539.30 220.6L539.42 192.1L539.55 219.6L539.67 210.2L539.80 212.2L539.92 199.0L540.05 225.1L540.17 209.7L540.30 211.6L540.42 202.1L540.55 210.8L540.67 198.2L540.80 225.2L540.92 209.9L541.00 190.7L541.15 225.7L541.30 192.7L541.45 224.2L541.05 220.0L541.17 210.0L541.30 212.7L541.42 200.7L541.55 210.9L541.67 207.5L541.80 210.8L541.92 209.9L542.05 217.8L542.17 210.0L542.30 219.3L542.42 206.6L542.55 211.7L542.67 192.1L542.80 217.2L542.92 210.1L543.05 217.3L543.17 208.4L543.30 213.5L543.42 208.2L543.55 212.6L543.67 205.4L543.80 215.0L543.92 210.2L544.05 211.6L544.17 210.2L544.30 212.9L544.42 205.7L544.55 212.6L544.67 206.2L544.80 217.3L544.92 209.8L545.05 214.1L545.17 209.8L545.30 215.7L545.42 209.0L545.55 220.3L545.67 198.1L545.80 221.6L545.92 199.5L546.05 217.3L546.17 197.0L546.30 215.8L546.42 205.8L546.55 217.3L546.67 208.3L546.80 212.8L546.92 210.2L547.05 219.2L547.17 207.7L547.30 213.0L547.42 208.3L547.55 211.2L547.67 209.7L547.80 212.3L547.92 209.1L548.00 200.7L548.15 221.7L548.30 201.7L548.45 220.6L548.05 211.1L548.17 208.6L548.30 211.3L548.42 210.5L548.55 212.2L548.67 208.8L548.80 212.3L548.92 209.3L549.05 215.6L549.17 210.4L549.30 212.6L549.42 209.6L549.55 212.8L549.67 204.9L549.80 213.5L549.92 209.7L550.05 212.1L550.17 210.1L550.30 211.1L550.42 207.6L550.55 217.0L550.67 210.4L550.80 219.4L550.92 210.2L551.05 215.7L551.17 205.9L551.30 211.2L551.42 209.9L551.55 212.6L551.67 209.3L551.80 211.4L551.92 206.1L552.00 201.7L552.15 219.7L552.30 202.6L552.45 218.8L552.05 217.5L552.17 206.1L552.30 212.9L552.42 208.1L552.55 211.6L552.67 205.1L552.80 219.1L552.92 204.6L553.05 211.7L553.17 205.8L553.30 210.8L553.42 209.9L553.55 211.2L553.67 210.3L553.80 210.8L553.92 208.7L554.05 215.4L554.17 208.8L554.30 211.3L554.42 210.6L554.55 211.0L554.67 209.7L554.80 212.7L554.92 210.6L555.05 211.3L555.17 210.2L555.30 213.1L555.42 206.9L555.55 213.7L555.67 208.9L555.80 218.1L555.92 205.2L556.05 213.0L556.17 210.4L556.30 211.1L556.42 209.4L556.55 212.4L556.67 203.9L556.80 219.8L556.92 209.4L557.05 220.7L557.17 199.5L557.30 214.3L557.42 199.9L557.55 222.4L557.67 203.4L557.80 212.5L557.92 205.2L558.05 211.7L558.17 207.2L558.30 213.7L558.42 207.7L558.55 221.4L558.67 203.6L558.80 211.0L558.92 206.2L559.05 211.9L559.17 201.9L559.30 218.6L559.42 207.9L559.55 212.6L559.67 207.0L559.80 216.8L559.92 210.5L560.05 213.2L560.17 209.7L560.30 212.7L560.42 203.4L560.55 222.4L560.67 200.2L560.80 220.3L560.92 200.6L561.05 211.4L561.17 208.1L561.30 210.8L561.42 209.8L561.55 213.4L561.67 206.8L561.80 217.0L561.92 210.1L562.05 214.7L562.17 209.9L562.30 213.0L562.42 209.9L562.55 214.3L562.67 207.2L562.80 214.4L562.92 207.8L563.05 213.0L563.17 204.7L563.30 219.6L563.42 203.6L563.55 215.5L563.67 208.8L563.80 211.2L563.92 205.8L564.05 212.7L564.17 208.0L564.30 213.3L564.42 206.9L564.55 217.0L564.67 209.5L564.80 212.4L564.92 210.3L565.05 213.9L565.17 210.0L565.30 212.1L565.42 209.1L565.55 211.7L565.67 203.3L565.80 213.3L565.92 208.5L566.05 212.7L566.17 210.5L566.30 220.3L566.42 209.3L566.55 212.4L566.67 210.5L566.80 211.9L566.92 206.7L567.05 214.8L567.17 203.1L567.30 213.5L567.42 201.4L567.55 214.0L567.67 206.4L567.80 216.0L567.92 209.2L568.05 211.4L568.17 209.1L568.30 218.8L568.42 206.0L568.55 217.4L568.67 207.9L568.80 214.7L568.92 209.8L569.05 213.0L569.17 209.1L569.30 211.5L569.42 207.7L569.55 215.6L569.67 206.6L569.80 217.0L569.92 206.5L570.05 216.6L570.17 209.9L570.30 213.8L570.42 201.5L570.55 210.9L570.67 209.1L570.80 213.6L570.92 210.5L571.05 213.3L571.17 208.8L571.30 212.7L571.42 209.7L571.55 210.8L571.67 210.1L571.80 212.6L571.92 209.5L572.05 212.9L572.17 210.3L572.30 218.6L572.42 201.3L572.55 213.1L572.67 201.0L572.80 218.9L572.92 209.1L573.05 211.2L573.17 210.1L573.30 211.5L573.42 209.5L573.55 210.8L573.67 210.2L573.80 218.5L573.92 205.8L574.05 212.2L574.17 207.0L574.30 212.6L574.42 206.8L574.55 211.3L574.67 206.8L574.80 214.6L574.92 207.4L575.05 216.0L575.17 210.4L575.30 211.8L575.42 207.7L575.55 216.6L575.67 208.0L575.80 211.8L575.92 210.1L576.05 216.5L576.17 208.1L576.30 214.4L576.42 209.9L576.55 212.3L576.67 208.6L576.80 218.2L576.92 205.9L577.05 213.0L577.17 207.9L577.30 215.2L577.42 210.0L577.55 211.6L577.67 205.3L577.80 213.1L577.92 209.9L578.05 219.1L578.17 209.9L578.30 211.0L578.42 205.6L578.55 212.7L578.67 208.1L578.80 212.7L578.92 207.7L579.05 212.9L579.17 206.7L579.30 212.0L579.42 209.3L579.55 212.2L579.67 209.6L579.80 214.3L579.92 210.4L580.05 210.7L580.17 210.4L580.30 211.1L580.42 209.2L580.55 211.7L580.67 210.5L580.80 212.2L580.92 206.1L581.05 213.7L581.17 208.2L581.30 212.5L581.42 203.2L581.55 217.9L581.67 207.9L581.80 214.1L581.92 208.0L582.05 213.8L582.17 209.1L582.30 214.8L582.42 207.2L582.55 212.0L582.67 210.6L582.80 211.8L582.92 207.7L583.05 215.8L583.17 208.9L583.30 218.1L583.42 209.2L583.55 212.1L583.67 202.6L583.80 211.5L583.92 202.3L584.05 216.7L584.17 204.7L584.30 216.0L584.42 207.2L584.55 211.6L584.67 210.1L584.80 212.0L584.92 209.4L585.05 212.3L585.17 207.0L585.30 213.4L585.42 209.8L585.55 215.2L585.67 204.5L585.80 211.8L585.92 202.1L586.05 211.5L586.17 210.0L586.30 213.6L586.42 209.8L586.55 219.9L586.67 207.2L586.80 213.6L586.92 208.8L587.05 211.3L587.17 208.2L587.30 212.9L587.42 210.4L587.55 211.6L587.67 208.1L587.80 211.5L587.92 210.3L588.05 211.6L588.17 210.0L588.30 211.0L588.42 210.2L588.55 210.8L588.67 209.9L588.80 216.2L588.92 205.7L589.05 211.1L589.17 210.7L589.30 211.8L589.42 209.7L589.55 213.0L589.67 208.5L589.80 211.7L589.92 210.0L590.05 212.1L590.17 210.0L590.30 218.1L590.42 209.5L590.55 217.5L590.67 207.0L590.80 213.5L590.92 209.4L591.05 211.4L591.17 210.1L591.30 212.4L591.42 209.9L591.55 211.8L591.67 209.7L591.80 210.9L591.92 203.0L592.05 213.1L592.17 209.5L592.30 214.1L592.42 204.4L592.55 214.0L592.67 210.7L592.80 212.4L592.92 204.8L593.05 214.1L593.17 208.6L593.30 212.8L593.42 202.5L593.55 214.5L593.67 208.0L593.80 215.0L593.92 203.3L594.05 217.0L594.17 208.1L594.30 211.1L594.42 203.8L594.55 218.9L594.67 206.2L594.80 211.2L594.92 208.9L595.05 214.2L595.17 208.8L595.30 211.5L595.42 210.4L595.55 213.3L595.67 208.1L595.80 212.6L595.92 206.0L596.05 212.1L596.17 210.4L596.30 211.5L596.42 209.8L596.55 212.2L596.67 210.1L596.80 212.6L596.92 210.2L597.05 212.1L597.17 208.7L597.30 212.3L597.42 207.8L597.55 211.8L597.67 210.7L597.80 217.8L597.92 208.6L598.05 213.5L598.17 206.6L598.30 216.1L598.42 206.8L598.55 215.9L598.67 210.3L598.80 213.8L598.92 209.5L599.05 214.5L599.17 208.7L599.30 211.5L599.42 210.4L599.55 210.9L599.67 210.3L599.80 212.2L599.92 209.9L600.05 211.5L600.17 209.6L600.30 211.3L600.42 210.5L600.55 211.8L600.67 210.4L600.80 211.5L600.92 210.1L601.05 215.0L601.17 205.8L601.30 211.1L601.42 208.9L601.55 211.3L601.67 209.8L601.80 213.3L601.92 210.6L602.05 210.8L602.17 209.5L602.30 213.1L602.42 210.5L602.55 210.7L602.67 210.5L602.80 212.8L602.92 210.7L603.05 210.8L603.17 210.7L603.30 214.1L603.42 209.9L603.55 210.8L603.67 210.1L603.80 210.9L603.92 210.3L604.05 211.5L604.17 207.6L604.30 211.8L604.42 209.0L604.55 215.4L604.67 207.7L604.80 212.8L604.92 206.9L605.05 214.8L605.17 209.9L605.30 212.3L605.42 207.1L605.55 211.8L605.67 210.1L605.80 212.0L605.92 209.9L606.05 211.4L606.17 209.3L606.30 213.7L606.42 209.0L606.55 211.8L606.67 209.1L606.80 211.3L606.92 207.8L607.05 215.3L607.17 209.6L607.30 212.3L607.42 209.8L607.55 212.2L607.67 208.9L607.80 211.5L607.92 210.5L608.05 211.9L608.17 208.9L608.30 211.8L608.42 210.0L608.55 211.5L608.67 210.4L608.80 212.3L608.92 206.8L609.05 211.3L609.17 209.6L609.30 212.0L609.42 210.2L609.55 210.7L609.67 209.6L609.80 210.8L609.92 209.9L610.05 211.0L610.17 210.0L610.30 211.7L610.42 208.8L610.55 211.6L610.67 209.4L610.80 211.0L610.92 210.2L611.05 211.5L611.17 210.2L611.30 211.3L611.42 210.3L611.55 210.7L611.67 210.6L611.80 211.3L611.92 209.7L612.05 212.5L612.17 208.7L612.30 211.4L612.42 210.3L612.55 212.3L612.67 210.0L612.80 211.5L612.92 210.4L613.05 214.1L613.17 206.8L613.30 211.7L613.42 207.0L613.55 211.0L613.67 209.3L613.80 211.5L613.92 209.2L614.05 212.0L614.17 210.6L614.30 210.9L614.42 210.0L614.55 211.5L614.67 209.4L614.80 211.2L614.92 210.5L615.05 213.6L615.17 210.7L615.30 211.4L615.42 209.9L615.55 211.3L615.67 210.0L615.80 212.0L615.92 209.1L616.05 211.6L616.17 207.1L616.30 214.1L616.42 209.2L616.55 211.2L616.67 210.4L616.80 211.0L616.92 208.7L617.05 212.9L617.17 209.8L617.30 212.9L617.42 209.2L617.55 210.7L617.67 210.6L617.80 211.3L617.92 210.5L618.05 211.5L618.17 209.2L618.30 212.0L618.42 209.0L618.55 211.2L618.67 209.1L618.80 210.8L618.92 210.0L619.05 211.1L619.17 210.2L619.30 211.1L619.42 208.7L619.55 210.9L619.67 210.4L619.80 211.2L619.92 210.5L620.05 212.5L620.17 210.5L620.30 211.4L620.42 210.2L620.55 212.4L620.67 210.6L620.80 212.3L620.92 209.0L621.05 211.8L621.17 208.9L621.30 211.2L621.42 210.5L621.55 211.2L621.67 210.5L621.80 210.8L621.92 209.7L622.05 212.9L622.17 209.9L622.30 212.2L622.42 209.7L622.55 212.5L622.67 210.6L622.80 211.2L622.92 210.0L623.05 214.5L623.17 207.7L623.30 212.2L623.42 210.0L623.55 211.5L623.67 207.6L623.80 211.3L623.92 210.1L624.05 212.2L624.17 210.1L624.30 210.8L624.42 207.9L624.55 212.8L624.67 208.7L624.80 211.5L624.92 207.2L625.05 211.0L625.17 210.0L625.30 211.2L625.42 210.5L625.55 211.3L625.67 209.4L625.80 211.3L625.92 210.4L626.05 211.7L626.17 209.4L626.30 211.0L626.42 209.6L626.55 211.9L626.67 210.1L626.80 210.9L626.92 210.4L627.05 211.3L627.17 210.2L627.30 211.8L627.42 210.2L627.55 214.3L627.67 208.9L627.80 211.3L627.92 210.2L628.05 211.3L628.17 210.2L628.30 212.6L628.42 210.5L628.55 210.8L628.67 210.0L628.80 211.8L628.92 210.5L629.05 211.6L629.17 210.7L629.30 211.9L629.42 210.3L629.55 211.9L629.67 210.6L629.80 210.8L629.92 210.0L630.05 211.1L630.17 210.3L630.30 212.3L630.42 210.4L630.55 211.4L630.67 210.0L630.80 211.1L630.92 210.4L631.05 211.4L631.17 210.5L631.30 210.7L631.42 210.3L631.55 213.2L631.67 208.6L631.80 211.4L631.92 209.6L632.05 213.0L632.17 209.1L632.30 214.1L632.42 208.7L632.55 211.3L632.67 206.9L632.80 212.7L632.92 210.3L633.05 211.1L633.17 210.6L633.30 211.7L633.42 209.3L633.55 211.1L633.67 210.4L633.80 213.5L633.92 210.4L634.05 211.5L634.17 209.6L634.30 210.8L634.42 209.2L634.55 212.5L634.67 208.8L634.80 211.5L634.92 210.5L635.05 211.2L635.17 210.4L635.30 211.7L635.42 210.0L635.55 211.7L635.67 209.3L635.80 211.8L635.92 210.0L636.05 211.7L636.17 209.3L636.30 211.5L636.42 210.4L636.55 211.5L636.67 210.0L636.80 211.9L636.92 209.9L637.05 211.7L637.17 210.1L637.30 210.8L637.42 209.9L637.55 210.9L637.67 210.0L637.80 210.8L637.92 208.5L638.05 212.0L638.17 210.6L638.30 211.1L638.42 207.1L638.55 212.4L638.67 210.7L638.80 211.1L638.92 209.0L639.05 210.8L639.17 209.9L639.30 212.4L639.42 209.5L639.55 212.7L639.67 208.7L639.80 211.4L639.92 209.1L640.05 211.3L640.17 210.6L640.30 211.3L640.42 209.7L640.55 213.1L640.67 209.4L640.80 211.1L640.92 210.5L641.05 210.7L641.17 210.1L641.30 211.3L641.42 210.3L641.55 211.4L641.67 209.9L641.80 212.8L641.92 209.6L642.05 210.8L642.17 210.7L642.30 212.7L642.42 208.3L642.55 211.1L642.67 210.1L642.80 211.3L642.92 210.7L643.05 211.5L643.17 209.7L643.30 214.4L643.42 209.2L643.55 211.7L643.67 210.5L643.80 211.3L643.92 210.4L644.05 211.7L644.17 209.5L644.30 211.3L644.42 209.2L644.55 210.8L644.67 210.2L644.80 212.8L644.92 208.9L645.05 212.1L645.17 209.8L645.30 210.9L645.42 209.0L645.55 211.5L645.67 210.4L645.80 211.2L645.92 210.2L646.05 212.8L646.17 210.0L646.30 213.2L646.42 208.5L646.55 211.7L646.67 209.1L646.80 211.2L646.92 209.8L647.05 213.2L647.17 209.9L647.30 211.9L647.42 210.2L647.55 212.6L647.67 209.0L647.80 211.3L647.92 209.4L648.05 211.6L648.17 210.6L648.30 211.4L648.42 208.8L648.55 210.9L648.67 210.1L648.80 213.8L648.92 209.7L649.05 211.1L649.17 209.1L649.30 212.4L649.42 209.1L649.55 215.3L649.67 209.9L649.80 212.5L649.92 209.4L650.05 212.1L650.17 208.6L650.30 212.9L650.42 208.3L650.55 211.3L650.67 207.5L650.80 212.7L650.92 210.6L651.05 211.9L651.17 209.4L651.30 212.1L651.42 209.8L651.55 215.8L651.67 208.8L651.80 211.0L651.92 210.6L652.05 211.0L652.17 210.0L652.30 211.9L652.42 210.6L652.55 210.8L652.67 205.2L652.80 215.8L652.92 208.9L653.05 213.7L653.17 208.3L653.30 215.1L653.42 209.7L653.55 211.3L653.67 206.5L653.80 210.8L653.92 209.6L654.05 211.1L654.17 209.9L654.30 212.4L654.42 209.4L654.55 213.2L654.67 209.9L654.80 211.2L654.92 208.6L655.05 211.5L655.17 207.7L655.30 213.1L655.42 209.8L655.55 211.2L655.67 210.2L655.80 213.7L655.92 209.0L656.05 212.8L656.17 209.7L656.30 211.8L656.42 210.0L656.55 211.7L656.67 210.6L656.80 212.1L656.92 207.9L657.05 212.1L657.17 210.3L657.30 212.1L657.42 209.6L657.55 211.6L657.67 209.2L657.80 212.8L657.92 209.3L658.05 211.8L658.17 210.5L658.30 215.0L658.42 209.8L658.55 211.8L658.67 210.5L658.70 197.7L658.85 218.7L659.00 199.0L659.15 217.9L658.80 211.9L658.92 207.8L659.05 212.6L659.17 208.2L659.30 212.3L659.42 210.4L659.55 218.4L659.67 210.4L659.80 215.8L659.92 209.1L660.05 210.8L660.17 205.4L660.30 210.7L660.42 207.4L660.55 213.0L660.67 205.9L660.80 213.2L660.92 206.8L661.05 211.1L661.17 208.0L661.30 214.3L661.42 205.9L661.55 211.5L661.67 209.8L661.80 210.8L661.92 209.3L662.05 211.2L662.17 207.7L662.30 211.9L662.42 209.0L662.55 211.3L662.67 209.5L662.80 211.0L662.92 205.2L663.05 212.6L663.17 210.6L663.30 211.7L663.42 209.2L663.55 211.2L663.67 210.2L663.80 210.9L663.92 210.2L664.05 212.2L664.17 208.3L664.30 212.7L664.42 209.1L664.55 211.5L664.67 209.3L664.80 211.4L664.92 208.2L665.05 211.7L665.17 208.1L665.30 212.3L665.42 208.3L665.55 213.2L665.67 208.5L665.80 215.2L665.92 209.0L666.05 211.3L666.17 208.6L666.30 215.5L666.42 206.4L666.55 211.8L666.67 208.6L666.80 211.8L666.92 210.4L667.05 211.0L667.17 209.5L667.30 212.1L667.42 209.4L667.55 211.2L667.67 208.5L667.80 212.5L667.92 209.8L668.05 210.9L668.17 209.7L668.30 213.3L668.42 209.3L668.55 213.0L668.67 209.0L668.80 211.7L668.92 206.1L669.05 211.7L669.17 210.4L669.30 211.7L669.42 210.6L669.55 212.1L669.67 207.0L669.80 211.7L669.92 208.0L670.05 211.9L670.17 209.4L670.30 213.9L670.42 209.0L670.55 212.3L670.67 209.6L670.80 212.2L670.92 204.6L671.05 214.1L671.17 208.6L671.30 210.9L671.42 210.5L671.55 212.9L671.67 210.0L671.80 212.2L671.92 208.5L672.05 214.2L672.17 207.8L672.30 215.8L672.42 208.3L672.55 215.5L672.67 209.1L672.80 210.8L672.92 207.7L673.05 215.0L673.17 208.1L673.30 213.2L673.42 207.8L673.55 210.8L673.67 207.6L673.80 213.1L673.92 210.6L674.05 211.2L674.17 207.9L674.30 210.8L674.42 208.8L674.55 211.3L674.67 209.5L674.80 211.2L674.92 208.7L675.05 211.5L675.17 210.3L675.30 211.2L675.42 209.3L675.55 214.8L675.67 208.4L675.80 216.7L675.92 210.4L676.05 213.6L676.17 209.1L676.30 211.7L676.42 206.6L676.55 213.0L676.67 210.7L676.80 212.3L676.92 209.1L677.05 210.9L677.17 210.6L677.30 212.2L677.42 209.5L677.55 212.7L677.67 210.0L677.80 210.9L677.92 210.6L678.05 211.1L678.17 209.4L678.30 211.6L678.42 209.8L678.55 213.6L678.67 209.4L678.80 212.9L678.92 210.3L679.05 212.2L679.17 210.2L679.30 213.2L679.42 210.6L679.55 210.7L679.67 209.7L679.80 211.2L679.92 208.7L680.05 213.6L680.17 210.0L680.30 211.6L680.42 209.2L680.55 212.6L680.67 208.3L680.80 213.4L680.92 209.9L681.05 210.9L681.17 208.7L681.30 212.9L681.42 208.7L681.55 210.9L681.67 208.1L681.80 211.8L681.92 208.0L682.05 212.5L682.17 208.1L682.30 211.4L682.42 210.4L682.55 211.0L682.67 206.5L682.80 211.0L682.92 206.2L683.05 212.4L683.17 210.4L683.30 212.0L683.42 209.8L683.55 211.6L683.67 209.3L683.80 212.1L683.92 207.6L684.05 215.2L684.17 208.1L684.30 211.4L684.42 209.0L684.55 212.3L684.67 210.0L684.80 210.8L684.92 208.2L685.05 212.7L685.17 207.5L685.30 215.0L685.42 208.5L685.55 213.6L685.67 208.6L685.80 211.2L685.92 209.8L686.05 215.3L686.17 205.8L686.30 211.8L686.42 206.7L686.55 212.4L686.67 209.2L686.80 213.5L686.92 209.3L687.05 213.1L687.17 210.1L687.30 211.7L687.42 209.0L687.55 212.5L687.67 208.5L687.80 210.9L687.92 209.4L688.05 211.4L688.17 209.6L688.30 216.2L688.42 208.1L688.55 216.6L688.67 210.1L688.80 212.4L688.92 207.5L689.05 212.3L689.17 204.4L689.30 210.8L689.42 209.3L689.55 212.8L689.67 204.5L689.80 215.1L689.92 207.6L690.05 217.6L690.17 209.5L690.30 213.0L690.42 210.3L690.55 212.6L690.67 208.2L690.80 211.7L690.92 209.6L691.05 216.9L691.17 210.6L691.30 212.3L691.42 209.9L691.55 212.6L691.67 204.6L691.80 213.6L691.92 208.5L692.05 211.2L692.17 210.5L692.30 212.4L692.42 208.2L692.55 210.8L692.67 208.2L692.80 212.6L692.92 210.0L693.05 211.5L693.17 208.2L693.30 212.4L693.42 205.2L693.55 212.6L693.67 210.6L693.80 216.8L693.92 209.2L694.05 214.1L694.17 207.7L694.30 217.7L694.42 206.2L694.55 217.0L694.67 208.4L694.80 210.8L694.92 210.7L695.05 211.8L695.17 207.7L695.30 214.0L695.42 204.6L695.55 213.1L695.67 206.9L695.80 211.8L695.92 202.2L696.05 212.9L696.17 209.3L696.30 215.8L696.42 209.1L696.55 212.1L696.67 203.2L696.80 211.1L696.92 205.3L697.05 215.0L697.17 209.6L697.30 218.5L697.42 204.8L697.55 213.1L697.67 210.5L697.80 212.1L697.92 209.1L698.05 213.1L698.17 207.0L698.30 216.0L698.42 207.2L698.55 212.3L698.67 202.9L698.80 214.0L698.92 202.7L699.05 215.3L699.17 206.3L699.30 213.2L699.42 206.1L699.55 211.1L699.67 207.4L699.80 214.1L699.92 209.4L700.05 212.4L700.17 209.6L700.30 212.3L700.42 210.6L700.55 212.8L700.67 209.4L700.80 213.4L700.92 210.1L701.05 211.3L701.17 209.7L701.30 214.6L701.42 202.7L701.55 211.0L701.67 209.7L701.80 218.5L701.92 206.5L702.05 213.7L702.17 204.5L702.30 211.0L702.42 210.1L702.55 215.3L702.67 209.0L702.80 211.0L702.92 210.4L703.05 210.9L703.17 209.4L703.30 210.8L703.42 208.9L703.55 215.8L703.67 208.8L703.80 213.4L703.92 209.7L704.05 211.0L704.17 205.3L704.30 214.3L704.42 206.8L704.55 212.2L704.67 208.9L704.80 212.8L704.92 209.9L705.05 211.8L705.17 210.6L705.30 213.9L705.42 209.8L705.55 217.6L705.67 209.7L705.80 210.9L705.92 207.8L706.05 211.2L706.17 203.2L706.30 211.1L706.42 207.9L706.55 212.4L706.67 208.4L706.80 219.5L706.92 207.5L707.05 210.9L707.17 208.4L707.30 211.3L707.42 210.5L707.55 215.8L707.67 207.6L707.80 212.4L707.92 203.0L708.05 212.7L708.17 208.7L708.30 214.7L708.42 209.4L708.55 212.7L708.67 206.9L708.80 210.8L708.92 210.4L709.05 213.1L709.17 210.2L709.30 211.1L709.42 207.9L709.55 217.3L709.67 210.4L709.80 213.6L709.92 207.8L710.05 212.0L710.17 208.2L710.30 210.8L710.42 203.2L710.55 211.5L710.67 206.7L710.80 216.1L710.92 204.2L711.05 215.0L711.17 208.1L711.30 219.6L711.42 209.4L711.55 219.0L711.67 209.8L711.80 216.0L711.92 205.0L712.05 211.6L712.17 210.3L712.30 212.6L712.42 210.5L712.55 211.7L712.67 208.5L712.80 212.7L712.92 208.7L713.05 212.6L713.17 209.3L713.30 211.7L713.42 210.5L713.55 212.5L713.67 209.4L713.80 211.4L713.92 209.6L714.05 213.7L714.17 210.0L714.30 213.5L714.42 209.2L714.55 219.6L714.67 208.8L714.80 211.0L714.92 210.3L715.05 213.4L715.17 209.2L715.30 217.5L715.42 207.3L715.55 215.5L715.67 209.9L715.80 213.4L715.92 209.3L716.05 211.8L716.17 209.3L716.30 211.9L716.42 210.1L716.55 211.8L716.67 209.5L716.80 214.4L716.92 210.4L717.05 211.0L717.17 209.6L717.30 218.9L717.42 209.9L717.55 214.8L717.67 208.7L717.80 214.6L717.92 205.6L718.05 210.7L718.17 209.0L718.30 212.6L718.42 206.7L718.55 212.0L718.67 207.8L718.80 210.7L718.92 207.7L719.05 211.6L719.17 208.1L719.30 211.6L719.42 210.7L719.55 213.2L719.67 201.9L719.80 216.5L719.92 208.3L720.05 213.9L720.17 206.2L720.30 213.5L720.42 206.9L720.55 211.6L720.67 209.4L720.80 214.8L720.92 198.2L721.00 200.7L721.15 218.7L721.30 201.7L721.45 217.9L721.05 222.3L721.17 199.6L721.30 220.4L721.42 203.6L721.55 212.3L721.67 199.2L721.80 211.6L721.92 205.1L722.05 215.8L722.17 207.2L722.30 217.2L722.42 209.2L722.55 211.4L722.67 207.7L722.80 213.5L722.92 208.0L723.05 216.9L723.17 209.0L723.30 216.6L723.42 210.7L723.55 213.9L723.67 209.2L723.80 212.0L723.92 209.7L724.05 211.6L724.17 210.6L724.30 213.2L724.42 209.0L724.55 213.3L724.67 205.3L724.80 211.0L724.92 207.1L725.05 210.8L725.17 209.5L725.30 217.7L725.42 209.8L725.55 219.4L725.67 206.4L725.80 211.6L725.92 203.6L726.05 212.7L726.17 206.5L726.30 213.9L726.42 208.8L726.55 211.8L726.67 210.5L726.80 215.6L726.92 205.3L727.05 215.8L727.17 208.8L727.30 211.6L727.42 209.2L727.55 213.8L727.67 210.7L727.80 211.2L727.92 209.1L728.05 211.7L728.17 210.4L728.30 211.9L728.42 209.8L728.55 211.6L728.67 210.1L728.80 210.9L728.92 210.5L729.05 212.6L729.17 206.4L729.30 211.6L729.42 208.1L729.55 211.4L729.67 205.2L729.80 211.1L729.92 207.7L730.05 212.7L730.17 205.5L730.30 215.0L730.42 209.4L730.55 213.6L730.67 206.9L730.80 211.8L730.92 207.8L731.05 216.5L731.17 205.9L731.30 217.0L731.42 206.9L731.55 211.6L731.67 207.1L731.80 213.3L731.92 207.7L732.05 213.0L732.17 210.0L732.30 212.2L732.42 209.2L732.55 210.8L732.67 210.4L732.80 210.9L732.92 210.7L733.05 211.9L733.17 210.6L733.30 211.3L733.42 208.9L733.55 212.8L733.67 210.0L733.80 212.6L733.92 207.3L734.05 212.2L734.17 210.5L734.30 210.9L734.42 210.0L734.55 215.9L734.67 210.1L734.80 212.0L734.92 210.6L735.05 211.3L735.17 210.3L735.30 211.3L735.42 208.0L735.55 212.1L735.67 210.5L735.80 211.5L735.92 208.5L736.05 211.0L736.17 209.6L736.30 213.9L736.42 209.6L736.55 212.1L736.67 210.7L736.80 211.2L736.92 210.4L737.05 211.7L737.17 209.5L737.30 210.9L737.42 207.9L737.55 213.2L737.67 208.9L737.80 213.2L737.92 210.6L738.05 212.2L738.17 209.4L738.30 211.7L738.42 210.1L738.55 213.2L738.67 210.2L738.80 213.3L738.92 210.5L739.05 211.0L739.17 210.0L739.30 211.5L739.42 210.1L739.55 211.1L739.67 210.6L739.80 211.9L739.92 210.6L740.05 211.0L740.17 206.3L740.30 210.8L740.42 210.3L740.55 211.0L740.67 209.9L740.80 212.3L740.92 210.7L741.05 211.0L741.17 210.5L741.30 211.2L741.42 209.3L741.55 211.7L741.67 208.8L741.80 212.7L741.92 210.0L742.05 215.9L742.17 209.7L742.30 212.5L742.42 208.9L742.55 216.3L742.67 206.5L742.80 211.1L742.92 208.2L743.05 213.6L743.17 207.5L743.30 216.7L743.42 208.8L743.55 214.8L743.67 205.6L743.80 213.6L743.92 210.4L744.05 213.7L744.17 206.2L744.30 210.9L744.42 209.3L744.55 211.6L744.67 208.6L744.80 211.4L744.92 207.4L745.05 212.9L745.17 210.5L745.30 213.0L745.42 208.1L745.55 215.4L745.67 208.5L745.80 214.4L745.92 210.3L746.05 214.4L746.17 209.2L746.30 211.7L746.42 209.5L746.55 211.6L746.67 210.6L746.80 211.0L746.92 209.8L747.05 210.8L747.17 210.7L747.30 210.8L747.42 210.1L747.55 211.9L747.67 210.1L747.80 211.8L747.92 210.2L748.05 211.7L748.17 210.2L748.30 211.7L748.42 210.6L748.55 214.4L748.67 210.1L748.80 210.9L748.92 208.6L749.05 211.6L749.17 210.2L749.30 211.4L749.42 208.8L749.55 211.1L749.67 210.1L749.80 213.2L749.92 210.0L750.05 212.7L750.17 210.0L750.30 211.4L750.42 210.2L750.55 211.4L750.67 210.4L750.80 214.1L750.92 206.0L751.05 212.7L751.17 206.6L751.30 211.9L751.42 210.6L751.55 212.3L751.67 205.7L751.80 212.1L751.92 207.6L752.05 210.9L752.17 208.9L752.30 211.0L752.42 209.0L752.55 210.9L752.67 210.1L752.80 211.0L752.92 208.6L753.05 211.1L753.17 206.2L753.30 212.5L753.42 210.3L753.55 211.7L753.67 209.6L753.80 215.8L753.92 209.7L754.05 210.8L754.17 210.3L754.30 212.7L754.42 208.9L754.55 212.2L754.67 207.4L754.80 213.2L754.92 210.5L755.05 211.0L755.17 208.5L755.30 213.8L755.42 209.1L755.55 212.9L755.67 208.3L755.80 215.1L755.92 209.6L756.05 214.9L756.17 209.9L756.30 211.3L756.42 204.9L756.55 211.1L756.67 206.4L756.80 215.3L756.92 207.5L757.05 214.3L757.17 210.6L757.30 210.9L757.42 210.7L757.55 210.8L757.67 210.7L757.80 211.3L757.92 210.2L758.05 212.9L758.17 208.3L758.30 212.7L758.42 209.8L758.55 211.6L758.67 209.1L758.80 213.3L758.92 210.4L759.05 211.1L759.17 209.4L759.30 213.4L759.42 209.2L759.55 211.8L759.67 209.8L759.80 213.2L759.92 208.7L760.05 210.9L760.17 207.8L760.30 212.3L760.42 210.3L760.55 213.7L760.67 209.5L760.80 212.7L760.92 209.1L761.05 212.4L761.17 209.7L761.30 211.6L761.42 210.6L761.55 211.4L761.67 208.8L761.80 211.0L761.92 210.6L762.05 211.8L762.17 209.4L762.30 213.0L762.42 209.4L762.55 211.3L762.67 209.9L762.80 212.0L762.92 210.4L763.05 211.3L763.17 208.9L763.30 211.1L763.42 208.3L763.55 213.3L763.67 209.5L763.80 212.4L763.92 210.4L764.05 213.7L764.17 210.4L764.30 211.4L764.42 210.1L764.55 212.8L764.67 208.4L764.80 213.2L764.92 208.9L765.05 215.1L765.17 204.9L765.30 212.4L765.42 210.4L765.55 212.7L765.67 208.2L765.80 214.5L765.92 209.9L766.05 211.8L766.17 210.0L766.30 211.3L766.42 209.4L766.55 211.1L766.67 209.8L766.80 211.8L766.92 208.1L767.05 212.4L767.17 210.7L767.30 211.5L767.42 209.3L767.55 212.0L767.67 208.5L767.80 211.9L767.92 209.7L768.05 212.7L768.17 209.6L768.30 212.1L768.42 210.3L768.55 211.1L768.67 210.4L768.80 212.0L768.92 210.3L769.05 213.2L769.17 208.2L769.30 211.5L769.42 207.9L769.55 211.9L769.67 210.1L769.80 212.0L769.92 209.9L770.05 211.7L770.17 209.1L770.30 210.8L770.42 207.5L770.55 212.8L770.67 209.1L770.80 210.9L770.92 207.4L771.05 211.5L771.17 210.4L771.30 211.4L771.42 210.4L771.55 212.2L771.67 210.4L771.80 211.5L771.92 205.4L772.05 215.1L772.17 207.0L772.30 212.2L772.42 208.0L772.55 216.9L772.67 209.4L772.80 213.2L772.92 209.2L773.05 212.9L773.17 209.1L773.30 212.3L773.42 210.1L773.55 213.0L773.67 207.0L773.80 214.6L773.92 208.6L774.05 211.4L774.17 209.7L774.30 210.7L774.42 209.2L774.55 211.1L774.67 209.2L774.80 210.7L774.92 209.7L775.05 211.3L775.17 207.7L775.30 211.0L775.42 209.8L775.55 213.3L775.67 210.0L775.80 211.4L775.92 209.6L776.05 211.9L776.17 210.2L776.30 211.6L776.42 209.2L776.55 214.7L776.67 209.9L776.80 211.7L776.92 209.9L777.05 212.6L777.17 206.7L777.30 212.0L777.42 210.6L777.55 212.0L777.67 207.9L777.80 212.4L777.92 207.5L778.05 212.9L778.17 210.6L778.30 211.0L778.42 210.3L778.55 213.5L778.67 209.6L778.80 211.7L778.92 209.3L779.05 216.0L779.17 205.0L779.30 213.6L779.42 207.9L779.55 211.4L779.67 205.8L779.80 210.9L779.92 210.0L780.05 212.1L780.17 209.1L780.30 213.0L780.42 210.7L780.55 210.9L780.67 210.7L780.80 210.8L780.92 210.1L781.05 212.9L781.17 210.6L781.30 212.8L781.42 206.8L781.55 210.9L781.67 207.3L781.80 211.3L781.92 209.8L782.05 216.4L782.17 209.9L782.30 210.8L782.42 209.1L782.55 211.4L782.67 209.9L782.80 211.2L782.92 210.2L783.05 211.2L783.17 210.1L783.30 212.0L783.42 208.0L783.55 211.1L783.67 210.5L783.80 212.4L783.92 209.5L784.05 211.5L784.17 209.4L784.30 211.8L784.42 207.9L784.55 211.6L784.67 207.3L784.80 214.3L784.92 210.2L785.05 212.3L785.17 210.6L785.30 211.5L785.42 210.0L785.55 211.7L785.67 210.5L785.80 211.1L785.92 210.5L786.05 211.1L786.17 210.7L786.30 211.9L786.42 210.3L786.55 211.2L786.67 208.1L786.80 211.1L786.92 210.4L787.05 211.8L787.17 210.0L787.30 211.7L787.42 210.0L787.55 211.6L787.67 209.5L787.80 210.8L787.92 208.7L788.05 211.0L788.17 210.3L788.30 211.1L788.42 210.3L788.55 211.4L788.67 210.0L788.80 212.4L788.92 210.5L789.05 211.4L789.17 210.5L789.30 212.2L789.42 209.6" fill="none" stroke="#006400" stroke-width="0.38" stroke-linejoin="round"/>
<path d="M508.0 210.7H789.3" stroke="#006400" stroke-width="1.3"/>
<rect x="506.8" y="180.1" width="283.5" height="53.6" fill="none" stroke="#000" stroke-width="2"/>
<text class="s" x="508.2" y="251.1" font-size="10" text-anchor="middle" fill="#222">15</text>
<text class="s" x="531.9" y="251.1" font-size="10" text-anchor="middle" fill="#222">20</text>
<text class="s" x="555.5" y="251.1" font-size="10" text-anchor="middle" fill="#222">25</text>
<text class="s" x="579.1" y="251.1" font-size="10" text-anchor="middle" fill="#222">30</text>
<text class="s" x="602.8" y="251.1" font-size="10" text-anchor="middle" fill="#222">35</text>
<text class="s" x="626.5" y="251.1" font-size="10" text-anchor="middle" fill="#222">40</text>
<text class="s" x="650.1" y="251.1" font-size="10" text-anchor="middle" fill="#222">45</text>
<text class="s" x="673.8" y="251.1" font-size="10" text-anchor="middle" fill="#222">50</text>
<text class="s" x="697.4" y="251.1" font-size="10" text-anchor="middle" fill="#222">55</text>
<text class="s" x="721.0" y="251.1" font-size="10" text-anchor="middle" fill="#222">00</text>
<text class="s" x="744.7" y="251.1" font-size="10" text-anchor="middle" fill="#222">05</text>
<text class="s" x="768.3" y="251.1" font-size="10" text-anchor="middle" fill="#222">10</text>
<path d="M508.2 180.1v-5.6M508.2 233.7v5.4M531.9 180.1v-5.6M531.9 233.7v5.4M555.5 180.1v-5.6M555.5 233.7v5.4M579.1 180.1v-5.6M579.1 233.7v5.4M602.8 180.1v-5.6M602.8 233.7v5.4M626.5 180.1v-5.6M626.5 233.7v5.4M650.1 180.1v-5.6M650.1 233.7v5.4M673.8 180.1v-5.6M673.8 233.7v5.4M697.4 180.1v-5.6M697.4 233.7v5.4M721.0 180.1v-5.6M721.0 233.7v5.4M744.7 180.1v-5.6M744.7 233.7v5.4M768.3 180.1v-5.6M768.3 233.7v5.4" stroke="#000" stroke-width="1" fill="none"/>
<text class="s" x="799.5" y="191.0" font-size="9.9" font-weight="bold" style="fill:#0000ff">Cariari</text>
<text class="s" x="799.5" y="214.2" font-size="10" style="fill:#222" textLength="62.6" lengthAdjust="spacingAndGlyphs">Acel. Max. 0.0</text>
<text class="s" x="799.5" y="231.9" font-size="10" style="fill:#222" textLength="43.5" lengthAdjust="spacingAndGlyphs">Int JMA: 0</text>
<path d="M507.80 287.1L507.93 279.4L508.05 290.0L508.18 277.4L508.30 293.7L508.43 284.5L508.55 296.9L508.68 284.0L508.80 288.2L508.93 282.2L509.05 287.6L509.18 276.3L509.30 290.2L509.43 278.7L509.55 289.6L509.68 285.8L509.80 295.4L509.93 284.9L510.05 286.9L510.18 285.0L510.30 287.0L510.43 280.9L510.55 288.4L510.68 279.7L510.80 287.2L510.93 279.8L511.05 289.7L511.18 282.0L511.30 286.3L511.43 284.8L511.55 291.4L511.68 279.5L511.80 288.5L511.93 284.2L512.05 288.8L512.17 282.5L512.30 287.7L512.42 284.3L512.55 291.2L512.67 284.8L512.80 287.1L512.92 279.7L513.05 289.1L513.17 282.8L513.30 287.2L513.42 285.6L513.55 288.6L513.67 282.6L513.80 289.0L513.92 279.8L514.05 286.4L514.17 281.3L514.30 287.7L514.42 285.4L514.55 292.1L514.67 281.9L514.80 290.9L514.92 283.8L515.05 286.6L515.17 283.9L515.30 291.2L515.42 281.8L515.55 295.6L515.67 275.3L515.80 290.6L515.92 274.5L516.05 289.5L516.17 276.7L516.30 294.6L516.42 277.1L516.55 295.0L516.67 282.7L516.80 289.4L516.92 277.0L517.05 287.6L517.17 280.8L517.30 287.1L517.42 282.4L517.55 288.0L517.67 285.8L517.80 293.0L517.92 284.3L518.05 288.0L518.17 282.8L518.30 288.0L518.42 285.0L518.55 291.3L518.67 285.2L518.80 286.8L518.92 284.4L519.05 288.6L519.17 282.4L519.30 288.8L519.42 282.2L519.55 289.8L519.67 285.3L519.80 287.9L519.92 285.4L520.05 286.7L520.17 285.8L520.30 288.1L520.42 285.8L520.55 288.9L520.67 286.0L520.80 288.5L520.92 283.4L521.05 288.2L521.17 280.4L521.30 297.5L521.42 282.4L521.55 290.5L521.67 283.1L521.80 298.7L521.92 283.4L522.05 287.3L522.17 285.4L522.30 286.6L522.42 285.6L522.55 291.0L522.67 273.8L522.80 289.9L522.92 285.8L523.05 288.3L523.17 283.5L523.30 286.7L523.42 283.4L523.55 287.2L523.67 285.3L523.80 288.7L523.92 281.7L524.05 286.3L524.17 286.0L524.30 288.1L524.42 284.0L524.55 288.6L524.67 285.1L524.80 290.1L524.92 283.5L525.05 288.0L525.17 283.6L525.30 295.1L525.42 282.9L525.55 290.4L525.67 282.5L525.80 286.3L525.92 284.9L526.05 287.6L526.17 279.6L526.30 287.4L526.42 280.9L526.55 293.7L526.67 284.4L526.80 288.2L526.92 282.3L527.05 290.1L527.17 286.0L527.30 289.4L527.42 281.7L527.55 287.3L527.67 284.9L527.80 287.6L527.92 283.2L528.05 291.0L528.17 284.0L528.30 289.5L528.42 275.4L528.55 288.2L528.67 283.7L528.80 286.8L528.92 275.4L529.05 287.5L529.17 284.1L529.30 289.9L529.42 285.5L529.55 286.9L529.67 285.6L529.80 293.6L529.92 279.9L530.05 291.0L530.17 285.8L530.30 286.6L530.42 283.3L530.55 295.4L530.67 282.2L530.80 287.4L530.92 275.7L531.05 295.6L531.17 278.9L531.30 288.3L531.42 280.9L531.55 290.2L531.67 281.6L531.80 289.5L531.92 282.7L532.05 289.1L532.17 283.6L532.30 288.0L532.42 283.4L532.55 288.9L532.67 284.2L532.80 294.1L532.92 285.5L533.05 288.4L533.17 283.6L533.30 289.1L533.42 280.5L533.55 289.0L533.67 283.6L533.80 290.5L533.92 280.5L534.05 286.6L534.17 282.4L534.30 287.1L534.42 285.1L534.55 288.1L534.67 274.8L534.80 287.4L534.92 278.4L535.05 292.9L535.17 285.2L535.30 289.1L535.42 282.9L535.55 292.8L535.67 280.0L535.80 292.0L535.92 285.2L536.05 286.5L536.17 285.0L536.30 292.9L536.42 285.9L536.55 287.9L536.67 281.1L536.80 294.0L536.92 283.8L537.05 289.3L537.17 284.2L537.30 293.6L537.42 285.8L537.55 290.8L537.67 279.5L537.80 294.8L537.92 277.2L538.05 289.5L538.17 285.2L538.30 291.1L538.42 280.4L538.55 296.6L538.67 282.5L538.80 287.8L538.92 286.2L539.05 292.1L539.17 283.2L539.30 288.1L539.42 286.2L539.55 296.7L539.67 285.2L539.80 286.9L539.92 283.1L540.05 287.4L540.17 283.4L540.30 287.4L540.42 283.9L540.55 287.0L540.67 280.5L540.80 298.7L540.92 280.3L541.05 288.5L541.17 285.6L541.30 286.8L541.42 285.9L541.55 287.1L541.67 284.9L541.80 287.8L541.92 285.6L542.05 289.5L542.17 283.5L542.30 290.3L542.42 281.6L542.55 290.9L542.67 283.7L542.80 297.0L542.92 285.2L543.05 298.5L543.17 282.6L543.30 289.3L543.42 283.6L543.55 289.6L543.67 283.6L543.80 291.5L543.92 284.0L544.05 289.9L544.17 284.7L544.30 288.8L544.42 284.7L544.55 291.5L544.67 285.3L544.80 289.2L544.92 279.9L545.05 296.0L545.17 285.9L545.30 291.2L545.42 285.9L545.55 287.9L545.67 279.7L545.80 286.6L545.92 281.2L546.05 292.7L546.17 281.9L546.30 287.0L546.42 282.5L546.55 287.7L546.67 286.1L546.80 286.6L546.92 285.7L547.05 287.1L547.17 282.2L547.30 290.1L547.42 278.1L547.55 298.4L547.67 277.5L547.80 293.8L547.92 276.0L548.05 291.4L548.17 283.1L548.30 289.8L548.42 285.2L548.55 287.2L548.67 285.3L548.80 293.5L548.92 277.6L549.05 287.7L549.17 284.2L549.30 290.4L549.42 285.0L549.55 287.2L549.67 284.6L549.80 286.9L549.92 284.4L550.05 287.0L550.17 285.2L550.30 291.1L550.42 277.3L550.55 293.6L550.67 286.2L550.80 289.0L550.92 283.1L551.05 287.1L551.17 284.9L551.30 290.0L551.42 282.6L551.55 288.7L551.67 285.3L551.80 288.0L551.92 286.0L552.05 289.0L552.17 285.2L552.30 288.8L552.42 283.8L552.55 290.2L552.67 284.0L552.80 288.1L552.92 284.4L553.05 287.6L553.17 282.7L553.30 287.2L553.42 282.1L553.55 288.6L553.67 281.9L553.80 292.3L553.92 280.7L554.05 287.3L554.17 283.9L554.30 290.4L554.42 284.3L554.55 289.1L554.67 284.3L554.80 288.8L554.92 282.2L555.05 289.2L555.17 284.9L555.30 289.0L555.42 286.0L555.55 287.5L555.67 285.2L555.80 288.8L555.92 284.9L556.05 287.3L556.17 285.6L556.30 286.8L556.42 284.4L556.55 288.0L556.67 286.2L556.80 287.1L556.92 285.2L557.05 288.5L557.17 282.1L557.30 291.1L557.42 279.1L557.55 286.6L557.67 284.7L557.80 288.3L557.92 283.1L558.05 286.8L558.17 282.1L558.30 287.8L558.42 285.7L558.55 287.2L558.67 281.4L558.80 286.6L558.92 283.7L559.05 287.9L559.17 283.3L559.30 288.9L559.42 279.5L559.55 291.8L559.67 285.1L559.80 287.0L559.92 285.5L560.05 286.4L560.17 283.2L560.30 297.7L560.42 282.9L560.55 288.7L560.67 282.8L560.80 286.5L560.92 285.7L561.05 290.9L561.17 282.8L561.30 286.9L561.42 285.8L561.55 287.6L561.67 284.1L561.80 290.7L561.92 275.0L562.05 291.3L562.17 274.3L562.30 297.8L562.42 284.8L562.55 291.4L562.67 282.0L562.80 291.6L562.92 285.6L563.05 293.2L563.17 284.3L563.30 293.3L563.42 286.3L563.55 292.9L563.67 282.3L563.80 291.3L563.92 285.9L564.05 293.8L564.17 284.2L564.30 290.7L564.42 280.1L564.55 295.2L564.67 279.8L564.80 294.9L564.92 284.2L565.05 292.9L565.17 279.4L565.30 291.4L565.42 277.2L565.55 287.0L565.67 283.7L565.80 288.9L565.92 284.2L566.05 287.1L566.17 284.7L566.30 286.7L566.42 281.3L566.55 294.0L566.67 281.4L566.80 289.2L566.92 285.8L567.05 287.4L567.17 282.5L567.30 287.5L567.42 284.0L567.55 291.9L567.67 285.3L567.80 293.7L567.92 283.9L568.05 290.9L568.17 278.7L568.30 288.6L568.42 284.9L568.55 286.5L568.67 282.2L568.80 291.0L568.92 284.8L569.05 289.8L569.17 284.2L569.30 289.2L569.42 279.9L569.55 287.5L569.67 286.2L569.80 287.5L569.92 280.0L570.05 286.6L570.17 282.2L570.30 286.8L570.42 285.6L570.55 289.2L570.67 282.1L570.80 287.5L570.92 275.8L571.05 294.5L571.17 284.6L571.30 290.1L571.42 281.5L571.55 296.8L571.67 285.8L571.80 294.9L571.92 284.0L572.05 293.0L572.17 282.6L572.30 292.8L572.42 285.5L572.55 290.4L572.67 285.1L572.80 288.9L572.92 282.0L573.05 292.8L573.17 283.6L573.30 286.9L573.42 281.7L573.55 296.4L573.67 286.0L573.80 287.4L573.92 284.2L574.05 288.3L574.17 284.5L574.30 288.2L574.42 285.4L574.55 287.5L574.67 277.7L574.80 288.1L574.92 284.7L575.05 291.8L575.17 285.8L575.30 286.7L575.42 279.9L575.55 288.1L575.67 274.6L575.80 289.1L575.92 274.7L576.05 297.0L576.17 278.0L576.30 293.1L576.42 278.5L576.55 293.0L576.67 284.8L576.80 290.7L576.92 279.2L577.05 289.2L577.17 286.2L577.30 287.0L577.42 280.5L577.55 288.0L577.67 285.2L577.80 287.4L577.92 284.4L578.05 289.6L578.17 284.8L578.30 289.7L578.42 282.9L578.55 288.6L578.67 282.1L578.80 287.3L578.92 277.2L579.05 290.1L579.17 275.5L579.30 287.9L579.42 284.3L579.55 292.8L579.67 274.7L579.80 293.8L579.92 280.8L580.05 289.6L580.17 281.4L580.30 287.1L580.42 285.8L580.55 295.2L580.67 274.1L580.80 289.2L580.92 286.0L581.05 296.1L581.17 284.7L581.30 289.1L581.42 286.1L581.55 294.6L581.67 286.3L581.80 290.4L581.92 285.1L582.05 292.2L582.17 281.2L582.30 292.3L582.42 275.0L582.55 287.4L582.67 284.0L582.80 292.2L582.92 279.7L583.05 291.2L583.17 281.4L583.30 296.7L583.42 283.5L583.55 295.3L583.67 277.6L583.80 292.3L583.92 276.0L584.05 290.5L584.17 280.2L584.30 294.1L584.42 275.9L584.55 287.3L584.67 284.5L584.80 287.6L584.92 278.7L585.05 287.4L585.17 278.5L585.30 287.8L585.42 280.2L585.55 292.4L585.67 281.6L585.80 288.6L585.92 284.4L586.05 287.6L586.17 280.3L586.30 287.9L586.42 285.7L586.55 287.1L586.67 283.2L586.80 290.3L586.92 279.8L587.05 291.3L587.17 286.2L587.30 291.2L587.42 285.6L587.55 287.0L587.67 283.6L587.80 287.8L587.92 282.5L588.05 287.6L588.17 282.9L588.30 292.8L588.42 284.6L588.55 287.3L588.67 283.6L588.80 288.2L588.92 286.2L589.05 288.5L589.17 283.4L589.30 286.3L589.42 282.4L589.55 294.7L589.67 284.7L589.80 287.6L589.92 284.3L590.05 288.6L590.17 285.9L590.30 288.4L590.42 286.0L590.55 289.5L590.67 282.7L590.80 290.0L590.92 284.0L591.05 287.7L591.17 283.9L591.30 287.2L591.42 286.1L591.55 287.7L591.67 285.9L591.80 291.7L591.92 283.3L592.05 289.5L592.17 286.2L592.30 288.9L592.42 284.4L592.55 289.7L592.67 278.2L592.80 293.4L592.92 277.8L593.05 298.4L593.17 278.5L593.30 290.8L593.42 286.0L593.55 287.1L593.67 285.8L593.80 286.7L593.92 283.3L594.05 287.9L594.17 286.2L594.30 287.4L594.42 285.6L594.55 286.8L594.67 284.6L594.80 290.7L594.92 284.8L595.05 293.1L595.17 281.7L595.30 289.5L595.42 281.3L595.55 287.3L595.67 284.3L595.80 288.0L595.92 281.0L596.05 289.4L596.17 277.9L596.30 293.1L596.42 286.0L596.55 287.9L596.67 285.9L596.80 287.0L596.92 282.3L597.05 289.0L597.17 281.5L597.30 295.3L597.42 285.0L597.55 290.3L597.67 278.8L597.80 291.3L597.92 282.8L598.05 293.4L598.17 283.2L598.30 294.9L598.42 276.1L598.55 287.6L598.67 281.9L598.80 291.8L598.92 279.8L599.05 293.3L599.17 280.8L599.30 290.4L599.42 281.6L599.55 287.0L599.67 285.0L599.80 289.4L599.92 285.0L600.05 292.1L600.17 284.5L600.30 290.0L600.42 282.1L600.55 293.2L600.67 279.3L600.80 291.5L600.92 285.5L601.05 287.4L601.17 277.0L601.30 290.5L601.42 281.2L601.55 288.3L601.67 285.4L601.80 287.9L601.92 284.6L602.05 289.5L602.17 284.5L602.30 291.3L602.42 285.6L602.55 286.7L602.67 284.3L602.80 289.7L602.92 285.0L603.05 292.0L603.17 285.0L603.30 294.0L603.42 281.9L603.55 288.3L603.67 277.2L603.80 290.4L603.92 285.8L604.05 288.7L604.17 285.2L604.30 289.3L604.42 275.0L604.55 287.4L604.67 286.3L604.80 288.3L604.92 283.3L605.05 288.7L605.17 282.1L605.30 290.0L605.42 285.3L605.55 294.7L605.67 279.2L605.80 291.0L605.92 285.9L606.05 287.2L606.17 281.3L606.30 287.2L606.42 280.8L606.55 295.4L606.67 284.1L606.80 295.4L606.92 286.0L607.05 289.8L607.17 282.1L607.30 287.6L607.42 282.6L607.55 292.4L607.67 284.5L607.80 286.7L607.92 283.7L608.05 291.9L608.17 283.7L608.30 291.5L608.42 286.2L608.55 292.5L608.67 286.1L608.80 289.9L608.92 275.5L609.05 298.2L609.17 274.1L609.30 288.7L609.42 281.9L609.55 288.6L609.67 280.2L609.80 296.0L609.92 277.2L610.05 292.3L610.17 278.1L610.30 289.0L610.42 282.8L610.55 289.6L610.67 275.7L610.80 289.6L610.92 276.7L611.05 298.3L611.17 277.2L611.30 296.4L611.40 262.3L611.55 312.2L611.70 264.7L611.85 309.7L611.42 278.2L611.55 312.0L611.67 284.0L611.80 291.1L611.92 282.2L612.05 292.7L612.17 278.0L612.30 289.9L612.42 285.7L612.55 287.2L612.60 271.3L612.75 302.3L612.90 272.8L613.05 300.7L612.67 277.9L612.80 291.7L612.92 273.5L613.05 300.0L613.17 274.0L613.30 287.3L613.42 282.4L613.55 302.1L613.67 286.2L613.80 298.0L613.92 282.3L614.05 295.8L614.17 278.8L614.30 294.0L614.42 285.6L614.50 269.3L614.65 301.3L614.80 271.0L614.95 299.8L614.55 290.0L614.67 267.8L614.80 289.7L614.92 282.3L615.05 295.1L615.17 277.0L615.30 292.3L615.42 280.0L615.55 288.8L615.67 283.8L615.80 287.9L615.92 283.4L616.00 272.3L616.15 305.3L616.30 273.7L616.45 303.4L616.05 294.7L616.17 276.4L616.30 289.8L616.42 273.4L616.55 299.5L616.67 276.0L616.80 287.2L616.92 284.6L617.05 291.4L617.17 284.2L617.30 287.1L617.42 283.1L617.55 287.9L617.67 284.7L617.80 288.3L617.92 281.6L618.05 286.4L618.17 284.0L618.30 288.1L618.42 284.4L618.55 291.7L618.67 283.5L618.80 295.7L618.92 279.7L619.05 291.1L619.17 279.4L619.30 287.2L619.42 274.6L619.55 294.2L619.67 285.4L619.80 286.6L619.92 283.6L620.05 293.9L620.17 281.8L620.30 288.7L620.42 286.2L620.55 290.1L620.67 281.5L620.80 290.9L620.92 279.1L621.05 290.4L621.17 279.6L621.30 291.8L621.42 280.7L621.55 287.3L621.67 274.6L621.80 288.1L621.92 285.1L622.05 287.8L622.17 283.7L622.30 287.5L622.42 282.1L622.55 288.8L622.67 284.5L622.80 288.0L622.92 284.4L623.05 291.8L623.17 283.3L623.30 289.7L623.42 282.4L623.55 287.7L623.67 282.3L623.80 294.3L623.92 276.1L624.05 287.2L624.17 284.3L624.30 288.3L624.42 284.5L624.55 288.1L624.67 283.4L624.80 288.6L624.92 283.1L625.05 287.7L625.17 281.1L625.30 289.1L625.42 280.0L625.55 290.3L625.67 281.5L625.80 286.3L625.92 282.2L626.05 288.3L626.17 284.6L626.30 288.1L626.42 281.6L626.55 293.5L626.67 286.0L626.80 290.3L626.92 283.8L627.05 287.4L627.17 285.1L627.30 288.7L627.42 284.5L627.55 288.8L627.67 284.0L627.80 288.8L627.92 285.6L628.05 288.2L628.17 284.2L628.30 289.8L628.42 286.1L628.55 289.2L628.67 282.4L628.80 288.2L628.92 285.1L629.05 290.0L629.17 285.8L629.30 287.7L629.42 285.3L629.55 292.3L629.67 286.0L629.80 292.1L629.92 285.7L630.05 291.1L630.17 285.6L630.30 288.2L630.42 286.1L630.55 286.7L630.67 286.0L630.80 287.6L630.92 283.7L631.05 286.7L631.17 285.6L631.30 289.3L631.42 284.4L631.55 286.5L631.67 279.8L631.80 288.3L631.92 284.0L632.05 290.0L632.17 284.7L632.30 286.6L632.42 286.1L632.55 286.4L632.67 282.0L632.80 293.1L632.92 282.5L633.05 289.2L633.17 279.0L633.30 289.2L633.42 285.2L633.55 290.7L633.67 278.5L633.80 288.9L633.92 279.0L634.05 287.7L634.17 281.8L634.30 286.6L634.42 284.4L634.55 288.0L634.67 284.9L634.80 287.8L634.92 284.6L635.05 288.1L635.17 283.0L635.30 288.0L635.42 285.6L635.55 292.8L635.67 281.6L635.80 287.0L635.92 277.3L636.05 291.0L636.17 284.3L636.30 291.9L636.42 278.9L636.55 287.2L636.67 282.4L636.80 287.3L636.92 280.3L637.05 292.3L637.17 280.6L637.30 289.2L637.42 284.1L637.55 291.0L637.67 285.6L637.80 290.0L637.92 283.7L638.05 286.4L638.17 281.3L638.30 287.2L638.42 285.4L638.55 289.0L638.67 280.2L638.80 289.8L638.92 285.9L639.05 287.6L639.17 283.3L639.30 288.3L639.42 281.1L639.55 287.9L639.67 282.3L639.80 290.3L639.92 285.4L640.05 291.0L640.17 275.2L640.30 287.9L640.42 285.7L640.55 289.3L640.67 282.5L640.80 294.8L640.92 283.4L641.05 286.8L641.17 284.0L641.30 290.6L641.42 280.3L641.55 297.2L641.67 285.8L641.80 288.9L641.92 284.2L642.05 292.4L642.17 282.6L642.30 288.8L642.42 285.1L642.55 287.4L642.67 283.5L642.80 289.8L642.92 283.2L643.05 287.9L643.17 285.0L643.30 287.0L643.42 280.0L643.55 297.3L643.67 285.3L643.80 289.2L643.92 285.8L644.05 286.5L644.17 285.6L644.30 292.6L644.42 278.5L644.55 295.0L644.67 284.6L644.80 291.0L644.92 282.0L645.05 287.3L645.17 282.1L645.30 287.9L645.42 285.9L645.55 289.3L645.67 284.3L645.80 291.0L645.92 284.2L646.05 292.1L646.17 279.6L646.30 290.1L646.42 280.8L646.55 291.6L646.67 286.1L646.80 289.3L646.92 280.8L647.05 290.0L647.17 284.7L647.30 293.4L647.42 285.5L647.55 287.8L647.67 281.4L647.80 288.1L647.92 285.9L648.05 290.7L648.17 281.7L648.30 290.1L648.42 280.2L648.55 288.0L648.67 275.9L648.80 290.8L648.92 275.7L649.05 287.0L649.17 285.4L649.30 287.1L649.42 285.0L649.55 288.2L649.67 285.9L649.80 290.6L649.92 285.8L650.05 289.9L650.17 282.6L650.30 288.6L650.42 286.1L650.55 294.1L650.67 284.5L650.80 286.9L650.92 285.0L651.05 287.1L651.17 284.7L651.30 288.4L651.42 279.5L651.55 289.8L651.67 284.2L651.80 292.4L651.92 273.9L652.05 286.7L652.17 275.2L652.30 286.6L652.42 280.0L652.55 292.2L652.67 283.7L652.80 288.7L652.92 280.8L653.05 287.2L653.17 280.8L653.30 288.5L653.42 285.7L653.55 286.5L653.67 286.0L653.80 291.7L653.92 281.5L654.05 295.1L654.17 276.3L654.30 292.2L654.42 285.9L654.55 291.5L654.67 274.0L654.80 294.9L654.92 285.9L655.05 288.1L655.17 282.5L655.30 291.9L655.42 275.0L655.55 289.0L655.67 282.3L655.80 293.8L655.92 272.5L656.05 289.1L656.17 283.0L656.30 288.2L656.42 279.3L656.55 296.9L656.67 284.0L656.80 295.5L656.92 268.9L657.05 287.3L657.17 279.2L657.30 294.7L657.42 277.1L657.50 274.3L657.65 297.3L657.80 275.5L657.95 296.2L657.55 287.6L657.67 284.2L657.80 286.8L657.92 278.9L658.05 293.9L658.17 281.3L658.30 293.6L658.42 283.2L658.55 299.8L658.67 284.5L658.80 289.5L658.92 279.7L659.05 289.5L659.17 284.6L659.30 290.7L659.42 286.2L659.55 286.8L659.67 286.0L659.80 289.4L659.80 264.3L659.95 312.2L660.10 266.5L660.25 309.7L659.92 283.6L660.05 292.1L660.17 278.3L660.30 292.4L660.42 285.3L660.55 297.2L660.67 280.3L660.80 292.9L660.92 278.2L661.05 290.3L661.17 286.3L661.30 296.9L661.30 268.3L661.45 300.3L661.60 270.1L661.75 298.9L661.42 285.0L661.55 291.4L661.67 285.7L661.80 293.8L661.92 283.5L662.05 292.4L662.17 281.3L662.30 294.1L662.42 284.4L662.55 291.0L662.67 281.5L662.80 292.6L662.92 284.5L663.00 273.3L663.15 303.3L663.30 274.6L663.45 301.6L663.05 287.6L663.17 285.2L663.30 289.3L663.42 286.0L663.55 288.2L663.67 282.1L663.80 289.4L663.92 280.1L664.05 287.9L664.17 286.0L664.30 291.5L664.42 277.7L664.55 291.0L664.67 284.1L664.80 287.1L664.92 279.5L665.05 289.6L665.17 285.6L665.30 287.3L665.42 284.8L665.55 290.1L665.67 285.2L665.80 294.1L665.92 285.9L666.05 287.8L666.17 278.3L666.30 290.6L666.42 285.6L666.55 291.6L666.67 283.3L666.80 289.3L666.92 279.4L667.05 286.3L667.17 286.3L667.30 288.2L667.42 285.3L667.55 292.9L667.67 283.6L667.80 290.4L667.92 278.6L668.05 292.3L668.17 275.5L668.30 288.2L668.42 277.7L668.55 289.0L668.67 286.1L668.80 290.2L668.92 284.6L669.05 286.4L669.17 286.2L669.30 291.0L669.42 283.2L669.55 291.2L669.67 281.3L669.80 288.3L669.92 280.1L670.05 290.0L670.17 286.0L670.30 287.9L670.42 282.3L670.55 287.7L670.67 284.1L670.80 291.7L670.92 277.0L671.05 287.8L671.17 280.2L671.30 286.3L671.42 285.1L671.55 296.1L671.67 283.5L671.80 290.1L671.92 286.2L672.05 292.1L672.17 283.3L672.30 287.5L672.42 279.5L672.55 286.5L672.67 284.9L672.80 288.4L672.92 278.0L673.05 289.9L673.17 284.3L673.30 287.7L673.42 284.2L673.55 291.3L673.67 282.2L673.80 287.5L673.92 282.3L674.05 295.7L674.17 280.9L674.30 287.1L674.42 285.0L674.55 290.2L674.67 283.6L674.80 289.0L674.92 281.2L675.05 290.8L675.17 285.7L675.30 287.6L675.42 279.4L675.55 292.8L675.67 283.5L675.80 289.8L675.92 285.8L676.05 290.5L676.17 281.9L676.30 290.2L676.42 281.7L676.55 287.6L676.67 280.7L676.80 289.3L676.92 283.8L677.05 287.8L677.17 285.4L677.30 289.0L677.42 285.3L677.55 286.4L677.67 286.1L677.80 287.9L677.92 284.6L678.05 288.4L678.17 285.5L678.30 287.4L678.42 285.4L678.55 286.9L678.67 283.8L678.80 287.2L678.92 285.7L679.05 286.4L679.17 286.2L679.30 291.5L679.42 283.2L679.55 291.8L679.67 286.1L679.80 287.9L679.92 280.9L680.05 287.1L680.17 284.1L680.30 288.0L680.42 285.1L680.55 289.2L680.67 285.2L680.80 287.7L680.92 286.0L681.05 288.1L681.17 280.1L681.30 289.2L681.42 285.5L681.55 289.7L681.67 280.0L681.80 288.6L681.92 279.1L682.05 291.5L682.17 285.9L682.30 294.7L682.42 283.8L682.55 288.2L682.67 285.7L682.80 287.8L682.92 285.9L683.05 287.3L683.17 285.1L683.30 288.4L683.42 285.8L683.55 286.4L683.67 283.0L683.80 287.7L683.92 283.6L684.05 286.7L684.17 285.0L684.30 286.7L684.42 285.1L684.55 286.5L684.67 285.5L684.80 289.8L684.92 282.9L685.05 293.7L685.17 284.8L685.30 287.5L685.42 284.2L685.55 288.1L685.67 283.5L685.80 286.8L685.92 284.7L686.05 295.0L686.17 281.0L686.30 292.4L686.42 285.4L686.55 290.6L686.67 286.2L686.80 292.1L686.92 284.4L687.05 294.9L687.17 284.3L687.30 293.6L687.42 285.3L687.55 291.5L687.67 284.5L687.80 295.2L687.92 284.1L688.05 287.0L688.17 283.8L688.30 288.8L688.42 284.7L688.55 287.1L688.67 284.3L688.80 287.0L688.92 285.7L689.05 289.4L689.17 285.3L689.30 286.9L689.42 284.1L689.55 286.4L689.67 284.4L689.80 287.5L689.92 278.3L690.05 289.5L690.17 285.8L690.30 287.4L690.42 284.0L690.55 286.4L690.67 284.6L690.80 287.2L690.92 283.8L691.05 286.8L691.17 285.4L691.30 286.7L691.42 285.7L691.55 287.6L691.67 285.8L691.80 286.9L691.92 285.6L692.05 288.6L692.17 283.0L692.30 287.3L692.42 284.2L692.55 286.6L692.67 285.6L692.80 294.0L692.92 285.0L693.05 286.5L693.17 286.1L693.30 287.1L693.42 284.7L693.55 288.7L693.67 285.5L693.80 288.4L693.92 283.3L694.05 287.5L694.17 285.6L694.30 289.7L694.42 280.6L694.55 290.7L694.67 278.8L694.80 291.0L694.92 281.3L695.05 290.0L695.17 283.3L695.30 288.8L695.42 280.2L695.55 287.9L695.67 279.4L695.80 293.3L695.92 283.4L696.05 290.6L696.17 283.9L696.30 291.0L696.42 284.0L696.55 287.0L696.67 283.1L696.80 287.3L696.92 282.9L697.05 289.3L697.17 281.1L697.30 286.4L697.42 280.0L697.55 289.0L697.67 285.5L697.80 290.1L697.92 286.1L698.05 287.0L698.17 285.4L698.30 288.9L698.42 285.2L698.55 286.9L698.67 285.3L698.80 287.9L698.92 285.5L699.05 286.4L699.17 284.3L699.30 287.6L699.42 286.3L699.55 286.4L699.67 286.0L699.80 286.4L699.92 285.6L700.05 286.6L700.17 285.7L700.30 286.4L700.42 283.3L700.55 286.4L700.67 283.4L700.80 291.8L700.92 283.7L701.05 286.7L701.17 284.6L701.30 287.6L701.42 283.5L701.55 288.4L701.67 285.7L701.80 286.7L701.92 281.3L702.05 287.9L702.17 283.0L702.30 289.4L702.42 286.0L702.55 288.3L702.67 282.3L702.80 286.6L702.92 284.4L703.05 290.6L703.17 280.6L703.30 293.5L703.42 284.5L703.55 288.8L703.67 280.8L703.80 292.6L703.92 283.9L704.05 287.4L704.17 284.0L704.30 287.5L704.42 285.5L704.55 287.4L704.67 285.0L704.80 286.6L704.92 279.9L705.05 287.5L705.17 285.2L705.30 286.3L705.42 285.1L705.55 288.6L705.67 281.8L705.80 288.1L705.92 285.9L706.05 287.5L706.17 285.1L706.30 289.5L706.42 284.0L706.55 286.6L706.67 286.1L706.80 288.3L706.92 283.2L707.05 287.4L707.17 284.0L707.30 293.1L707.42 283.3L707.55 293.2L707.67 280.5L707.80 289.3L707.92 281.9L708.05 287.3L708.17 285.1L708.30 287.5L708.42 283.4L708.55 293.3L708.67 283.1L708.80 291.5L708.92 280.8L709.05 288.3L709.17 280.3L709.30 288.8L709.42 282.9L709.55 286.3L709.67 282.6L709.80 291.3L709.92 285.7L710.05 286.9L710.17 285.5L710.30 286.6L710.42 283.9L710.55 287.3L710.67 284.9L710.80 288.7L710.92 285.5L711.05 286.8L711.17 285.7L711.30 289.9L711.42 283.6L711.55 287.3L711.67 285.4L711.80 286.7L711.92 283.2L712.05 288.5L712.17 282.9L712.30 287.0L712.42 285.2L712.55 289.7L712.67 283.6L712.80 288.0L712.92 280.4L713.05 290.9L713.17 284.3L713.30 290.4L713.42 281.8L713.55 286.5L713.67 285.6L713.80 287.6L713.92 281.2L714.05 288.5L714.17 283.5L714.30 287.6L714.42 285.4L714.55 289.0L714.67 284.2L714.80 287.2L714.92 284.5L715.05 292.9L715.17 285.4L715.30 292.2L715.42 285.0L715.55 288.3L715.67 285.2L715.80 288.2L715.92 284.2L716.05 287.7L716.17 283.1L716.30 288.1L716.42 285.4L716.55 287.5L716.67 285.6L716.80 286.4L716.92 284.4L717.05 288.7L717.17 286.1L717.30 287.2L717.42 285.5L717.55 286.7L717.67 285.8L717.80 287.2L717.92 285.5L718.05 286.4L718.17 285.4L718.30 287.7L718.42 284.3L718.55 287.7L718.67 281.1L718.80 292.0L718.92 283.5L719.05 293.2L719.17 281.7L719.30 288.3L719.42 282.8L719.55 291.4L719.67 285.9L719.80 289.1L719.92 284.8L720.05 287.1L720.17 286.1L720.30 288.1L720.42 284.4L720.55 288.3L720.67 284.0L720.80 289.0L720.92 284.5L721.05 290.1L721.17 283.2L721.30 289.1L721.42 285.3L721.55 289.6L721.67 285.6L721.80 287.5L721.92 283.4L722.05 288.0L722.17 285.8L722.30 286.4L722.42 283.4L722.55 287.8L722.67 280.7L722.80 287.2L722.92 283.1L723.05 287.0L723.17 285.7L723.30 288.1L723.42 286.3L723.55 288.0L723.67 284.0L723.80 287.0L723.92 285.4L724.05 287.5L724.17 285.9L724.30 287.1L724.42 284.4L724.55 288.2L724.67 283.8L724.80 286.4L724.92 283.7L725.05 288.7L725.17 283.9L725.30 288.5L725.42 281.8L725.55 286.6L725.67 286.2L725.80 291.7L725.92 285.6L726.05 286.7L726.17 286.3L726.30 288.2L726.42 285.9L726.55 286.5L726.67 284.0L726.80 290.6L726.92 285.6L727.05 289.6L727.17 285.2L727.30 292.7L727.42 285.5L727.55 288.4L727.67 283.0L727.80 288.8L727.92 284.5L728.05 288.9L728.17 281.8L728.30 289.2L728.42 283.4L728.55 287.9L728.67 283.7L728.80 288.1L728.92 280.9L729.05 288.7L729.17 286.2L729.30 289.0L729.42 282.6L729.55 288.0L729.67 279.1L729.80 291.9L729.92 284.8L730.05 287.2L730.17 286.2L730.30 287.2L730.42 283.7L730.55 286.7L730.67 286.2L730.80 288.9L730.92 283.8L731.05 288.2L731.17 283.2L731.30 290.0L731.42 285.6L731.55 293.2L731.67 282.8L731.80 292.8L731.92 286.2L732.05 290.8L732.17 285.4L732.30 288.1L732.42 285.0L732.55 288.4L732.67 281.6L732.80 287.1L732.92 286.2L733.05 289.3L733.17 284.6L733.30 288.0L733.42 282.1L733.55 291.0L733.67 281.9L733.80 289.8L733.92 284.5L734.05 291.7L734.17 283.7L734.30 289.8L734.42 285.9L734.55 292.5L734.67 283.9L734.80 289.4L734.92 285.0L735.05 291.3L735.17 285.2L735.30 287.0L735.42 284.5L735.55 288.5L735.67 285.7L735.80 287.3L735.92 284.9L736.05 291.4L736.17 280.5L736.30 286.6L736.42 284.0L736.55 287.5L736.67 282.3L736.80 288.6L736.92 280.4L737.05 288.1L737.17 284.3L737.30 292.7L737.42 285.8L737.55 287.5L737.67 285.5L737.80 286.4L737.92 284.6L738.05 288.9L738.17 286.2L738.30 292.0L738.42 281.4L738.55 286.6L738.67 285.8L738.80 287.0L738.92 285.6L739.05 287.4L739.17 286.2L739.30 288.3L739.42 279.6L739.55 289.3L739.67 280.1L739.80 290.6L739.92 285.2L740.05 289.9L740.17 286.2L740.30 291.8L740.42 286.3L740.55 286.6L740.67 281.4L740.80 293.1L740.92 285.5L741.05 290.9L741.17 285.2L741.30 291.1L741.42 286.1L741.55 287.7L741.67 285.5L741.80 289.2L741.92 282.7L742.05 287.1L742.17 281.4L742.30 287.0L742.42 284.5L742.55 287.2L742.67 286.0L742.80 287.3L742.92 285.3L743.05 289.1L743.17 284.1L743.30 289.9L743.42 283.5L743.55 287.7L743.67 280.7L743.80 287.7L743.92 283.6L744.05 290.7L744.17 281.9L744.30 286.6L744.42 280.2L744.55 290.3L744.67 279.3L744.80 288.0L744.92 285.3L745.05 288.9L745.17 286.0L745.30 288.2L745.42 286.2L745.55 289.2L745.67 284.6L745.80 286.7L745.92 283.2L746.05 288.7L746.17 284.5L746.30 286.5L746.42 284.6L746.55 287.1L746.67 286.2L746.80 286.9L746.92 284.9L747.05 286.6L747.17 283.9L747.30 286.7L747.42 285.1L747.55 288.5L747.67 283.3L747.80 287.5L747.92 282.6L748.05 286.5L748.17 283.7L748.30 290.8L748.42 285.5L748.55 291.8L748.67 284.3L748.80 286.9L748.92 281.8L749.05 288.0L749.17 284.9L749.30 288.0L749.42 286.2L749.55 286.6L749.67 284.9L749.80 287.2L749.92 284.7L750.05 288.4L750.17 282.4L750.30 286.4L750.42 284.6L750.55 287.1L750.67 283.4L750.80 289.3L750.92 285.9L751.05 287.1L751.17 285.6L751.30 286.5L751.42 281.3L751.55 287.0L751.67 285.9L751.80 286.9L751.92 282.1L752.05 291.1L752.17 284.0L752.30 289.0L752.42 282.5L752.55 288.8L752.67 284.9L752.80 287.9L752.92 285.1L753.05 288.5L753.17 283.4L753.30 287.1L753.42 283.0L753.55 286.5L753.67 282.4L753.80 287.7L753.92 284.8L754.05 289.6L754.17 285.1L754.30 290.6L754.42 282.5L754.55 290.4L754.67 286.2L754.80 288.2L754.92 282.5L755.05 287.0L755.17 282.3L755.30 287.5L755.42 284.0L755.55 286.4L755.67 286.2L755.80 287.3L755.92 285.7L756.05 289.3L756.17 285.1L756.30 289.0L756.42 284.4L756.55 289.6L756.67 280.3L756.80 288.2L756.92 281.4L757.05 286.6L757.17 285.0L757.30 287.4L757.42 283.1L757.55 286.6L757.67 286.2L757.80 290.1L757.92 286.1L758.05 288.9L758.17 285.9L758.30 292.5L758.42 280.5L758.55 287.6L758.67 280.3L758.80 287.1L758.92 283.0L759.05 288.4L759.17 284.5L759.30 288.2L759.42 285.1L759.55 292.9L759.67 283.0L759.80 287.8L759.92 281.9L760.05 290.3L760.10 273.3L760.25 298.3L760.40 274.6L760.55 297.1L760.17 286.2L760.30 286.4L760.42 284.8L760.55 286.9L760.67 286.2L760.80 287.5L760.92 283.8L761.05 289.5L761.17 283.0L761.30 287.5L761.42 280.1L761.55 286.6L761.67 284.6L761.80 289.1L761.92 285.5L762.05 287.9L762.17 286.1L762.30 291.8L762.42 286.1L762.55 294.6L762.67 281.4L762.80 286.7L762.92 283.4L763.05 286.9L763.17 280.7L763.30 289.9L763.42 285.9L763.55 292.4L763.67 286.2L763.80 286.5L763.92 286.1L764.05 289.6L764.17 279.6L764.30 290.9L764.42 285.1L764.55 289.1L764.67 286.3L764.80 289.3L764.92 280.0L765.05 287.3L765.17 285.7L765.30 287.3L765.42 279.4L765.55 292.7L765.67 281.0L765.80 294.8L765.92 276.5L766.00 277.3L766.15 295.3L766.30 278.2L766.45 294.4L766.05 289.7L766.17 286.1L766.30 287.7L766.42 282.8L766.55 295.9L766.67 285.0L766.80 287.5L766.92 284.8L767.05 286.4L767.17 284.2L767.30 290.5L767.42 283.3L767.55 288.2L767.67 283.0L767.80 286.9L767.92 280.0L768.05 298.1L768.17 280.4L768.30 288.9L768.42 278.6L768.55 289.9L768.67 285.1L768.80 296.0L768.92 283.9L769.05 287.9L769.17 285.3L769.30 291.2L769.42 277.5L769.55 290.6L769.67 284.2L769.80 293.5L769.92 282.5L770.00 276.3L770.15 295.3L770.30 277.3L770.45 294.4L770.05 290.0L770.17 276.7L770.30 289.3L770.42 275.1L770.55 286.5L770.67 272.6L770.80 290.6L770.92 284.9L771.05 295.7L771.17 285.3L771.30 297.2L771.42 285.5L771.55 294.3L771.67 279.0L771.80 294.4L771.92 284.7L772.05 289.5L772.17 284.1L772.30 294.1L772.42 283.5L772.55 290.9L772.67 285.2L772.80 289.8L772.92 280.2L773.05 296.0L773.17 281.8L773.30 303.7L773.40 272.3L773.55 303.3L773.70 273.7L773.85 301.6L773.42 284.8L773.55 294.5L773.67 277.5L773.80 289.4L773.92 271.1L774.05 297.8L774.17 277.5L774.30 290.4L774.42 283.5L774.50 275.3L774.65 299.3L774.80 276.4L774.95 298.0L774.55 290.3L774.67 282.1L774.80 291.8L774.92 283.5L775.05 288.7L775.17 284.7L775.30 291.2L775.42 283.4L775.55 287.9L775.67 285.9L775.80 288.0L775.92 282.1L776.05 297.3L776.17 276.8L776.30 289.9L776.42 282.6L776.55 286.4L776.67 278.7L776.80 288.9L776.92 285.9L777.05 288.3L777.17 285.9L777.30 288.1L777.42 282.7L777.55 297.1L777.67 282.3L777.80 292.7L777.92 285.6L778.05 286.9L778.17 274.5L778.30 287.1L778.42 279.6L778.55 290.0L778.67 277.8L778.80 288.8L778.92 279.5L779.05 287.7L779.17 281.7L779.30 289.2L779.42 282.9L779.55 287.6L779.67 281.3L779.80 287.4L779.92 281.2L780.05 286.5L780.17 284.5L780.30 289.3L780.42 284.1L780.55 286.8L780.67 286.1L780.80 288.2L780.92 285.1L781.05 289.4L781.17 285.4L781.30 288.5L781.42 285.9L781.55 289.2L781.67 285.1L781.80 288.4L781.92 284.1L782.05 290.0L782.17 284.4L782.30 288.2L782.42 283.1L782.55 291.9L782.67 285.1L782.80 287.4L782.92 284.7L783.05 287.9L783.17 282.3L783.30 288.1L783.42 282.9L783.55 289.5L783.67 281.0L783.80 291.0L783.92 284.1L784.05 293.6L784.17 285.4L784.30 288.3L784.42 278.1L784.55 293.2L784.67 286.2L784.80 287.1L784.92 285.1L785.05 286.6L785.17 284.7L785.30 288.4L785.42 283.5L785.55 287.7L785.67 284.2L785.80 287.6L785.92 281.7L786.05 291.5L786.17 286.0L786.30 286.3L786.42 281.8L786.55 290.0L786.67 284.1L786.80 287.8L786.92 282.8L787.05 287.2L787.17 285.2L787.30 286.7L787.42 283.6L787.55 288.7L787.67 281.3L787.80 286.4L787.92 284.8L788.05 289.4L788.17 283.5L788.30 287.9L788.42 280.7L788.55 290.0L788.67 282.0L788.80 288.1L788.92 282.0L789.05 292.8L789.17 281.3L789.30 291.4L789.42 279.6" fill="none" stroke="#006400" stroke-width="0.38" stroke-linejoin="round"/>
<path d="M508.0 286.3H789.3" stroke="#006400" stroke-width="1.3"/>
<rect x="506.8" y="259.4" width="283.5" height="53.6" fill="none" stroke="#000" stroke-width="2"/>
<text class="s" x="529.5" y="330.4" font-size="10" text-anchor="middle" fill="#222">05</text>
<text class="s" x="553.1" y="330.4" font-size="10" text-anchor="middle" fill="#222">10</text>
<text class="s" x="576.8" y="330.4" font-size="10" text-anchor="middle" fill="#222">15</text>
<text class="s" x="600.5" y="330.4" font-size="10" text-anchor="middle" fill="#222">20</text>
<text class="s" x="624.1" y="330.4" font-size="10" text-anchor="middle" fill="#222">25</text>
<text class="s" x="647.8" y="330.4" font-size="10" text-anchor="middle" fill="#222">30</text>
<text class="s" x="671.4" y="330.4" font-size="10" text-anchor="middle" fill="#222">35</text>
<text class="s" x="695.0" y="330.4" font-size="10" text-anchor="middle" fill="#222">40</text>
<text class="s" x="718.7" y="330.4" font-size="10" text-anchor="middle" fill="#222">45</text>
<text class="s" x="742.4" y="330.4" font-size="10" text-anchor="middle" fill="#222">50</text>
<text class="s" x="766.0" y="330.4" font-size="10" text-anchor="middle" fill="#222">55</text>
<text class="s" x="789.6" y="330.4" font-size="10" text-anchor="middle" fill="#222">00</text>
<path d="M529.5 259.4v-5.6M529.5 313.0v5.4M553.1 259.4v-5.6M553.1 313.0v5.4M576.8 259.4v-5.6M576.8 313.0v5.4M600.5 259.4v-5.6M600.5 313.0v5.4M624.1 259.4v-5.6M624.1 313.0v5.4M647.8 259.4v-5.6M647.8 313.0v5.4M671.4 259.4v-5.6M671.4 313.0v5.4M695.0 259.4v-5.6M695.0 313.0v5.4M718.7 259.4v-5.6M718.7 313.0v5.4M742.4 259.4v-5.6M742.4 313.0v5.4M766.0 259.4v-5.6M766.0 313.0v5.4M789.6 259.4v-5.6M789.6 313.0v5.4" stroke="#000" stroke-width="1" fill="none"/>
<text class="s" x="799.5" y="266.9" font-size="9.9" font-weight="bold" style="fill:#0000ff">Aserri</text>
<text class="s" x="799.5" y="289.9" font-size="10" style="fill:#222" textLength="62.6" lengthAdjust="spacingAndGlyphs">Acel. Max. 0.0</text>
<text class="s" x="799.5" y="308.0" font-size="10" style="fill:#222" textLength="43.5" lengthAdjust="spacingAndGlyphs">Int JMA: 0</text>
<path d="M507.80 366.3L507.93 361.1L508.05 368.1L508.18 357.9L508.30 369.0L508.43 357.9L508.55 366.2L508.68 358.0L508.80 366.8L508.93 361.8L509.05 364.9L509.18 358.9L509.30 365.5L509.43 361.4L509.55 363.8L509.68 362.8L509.80 369.6L509.93 361.3L510.05 365.8L510.18 362.6L510.30 364.4L510.43 363.2L510.55 363.9L510.68 360.7L510.80 364.7L510.93 360.8L511.05 364.2L511.18 357.1L511.30 365.7L511.43 361.4L511.55 363.8L511.68 363.0L511.80 365.5L511.93 363.2L512.05 366.4L512.17 361.5L512.30 366.0L512.42 357.5L512.55 363.6L512.67 362.7L512.80 364.6L512.92 363.2L513.05 365.0L513.17 363.2L513.30 364.1L513.42 361.8L513.55 363.7L513.67 363.3L513.80 368.5L513.92 361.7L514.05 363.8L514.17 361.3L514.30 364.2L514.42 358.7L514.55 364.2L514.67 358.5L514.80 365.6L514.92 363.0L515.05 363.8L515.17 362.8L515.30 365.2L515.42 363.1L515.55 365.8L515.67 363.1L515.80 365.2L515.92 362.9L516.05 365.9L516.17 361.7L516.30 367.0L516.42 362.3L516.55 365.2L516.67 361.4L516.80 366.6L516.92 363.3L517.05 368.7L517.17 362.6L517.30 364.5L517.42 362.9L517.55 364.1L517.67 360.3L517.80 364.9L517.92 360.8L518.05 363.6L518.17 362.2L518.30 364.4L518.42 356.8L518.55 364.6L518.67 363.3L518.80 365.9L518.92 362.2L519.05 364.9L519.17 363.2L519.30 366.0L519.42 359.6L519.55 367.1L519.67 360.3L519.80 365.1L519.92 362.8L520.05 364.1L520.17 361.5L520.30 364.6L520.42 362.7L520.55 368.3L520.67 359.6L520.80 364.7L520.92 362.6L521.05 368.7L521.17 362.4L521.30 363.5L521.42 363.1L521.55 363.9L521.67 363.1L521.80 364.7L521.92 362.2L522.05 366.5L522.17 363.3L522.30 363.9L522.42 359.5L522.55 370.9L522.67 358.0L522.80 366.7L522.92 355.8L523.05 364.7L523.17 363.4L523.30 363.4L523.42 356.4L523.55 364.6L523.67 355.0L523.80 366.3L523.92 360.9L524.05 364.6L524.17 362.0L524.30 364.7L524.42 362.8L524.55 367.7L524.67 361.2L524.80 366.9L524.92 362.5L525.05 364.7L525.17 361.9L525.30 366.9L525.42 362.1L525.55 365.2L525.67 359.9L525.80 364.9L525.92 362.7L526.05 364.3L526.17 362.6L526.30 367.0L526.42 362.7L526.55 364.3L526.67 356.9L526.80 364.7L526.92 362.7L527.05 364.5L527.17 359.7L527.30 367.2L527.42 363.3L527.55 371.3L527.67 361.7L527.80 371.1L527.92 360.5L528.05 363.7L528.17 361.5L528.30 368.0L528.42 360.5L528.55 370.7L528.67 356.4L528.80 363.8L528.92 357.7L529.05 364.4L529.17 359.1L529.30 368.1L529.42 355.4L529.55 369.1L529.67 357.6L529.80 371.7L529.92 355.6L530.05 365.0L530.17 362.2L530.30 363.4L530.42 361.5L530.55 364.6L530.67 362.6L530.80 364.9L530.92 361.3L531.05 363.6L531.17 363.1L531.30 364.6L531.42 361.0L531.55 366.0L531.67 361.8L531.80 364.7L531.92 356.9L532.05 366.0L532.17 362.6L532.30 366.6L532.42 359.7L532.55 364.0L532.67 362.1L532.80 364.9L532.92 360.4L533.05 364.7L533.17 362.7L533.30 364.0L533.42 360.9L533.55 365.1L533.67 361.4L533.80 368.5L533.92 356.0L534.05 369.6L534.17 363.1L534.30 368.3L534.42 358.3L534.55 368.3L534.67 361.8L534.80 363.9L534.92 359.3L535.05 363.9L535.17 362.5L535.30 364.8L535.42 361.5L535.55 367.5L535.67 361.8L535.80 366.1L535.92 361.1L536.05 364.8L536.17 359.2L536.30 364.5L536.42 362.9L536.55 365.1L536.67 362.5L536.80 364.0L536.92 358.8L537.05 367.6L537.17 359.9L537.30 366.2L537.42 357.8L537.55 363.5L537.67 357.4L537.80 371.3L537.92 358.2L538.05 371.0L538.17 362.4L538.30 371.4L538.42 362.6L538.55 364.1L538.67 363.0L538.80 364.0L538.92 363.0L539.05 365.5L539.17 362.1L539.30 363.4L539.42 362.6L539.55 365.7L539.67 362.1L539.80 369.1L539.92 361.4L540.05 363.5L540.17 357.6L540.30 363.4L540.42 360.7L540.55 367.5L540.67 360.3L540.80 369.8L540.92 358.8L541.05 363.7L541.17 356.3L541.30 363.6L541.42 362.4L541.55 364.1L541.67 362.8L541.80 365.2L541.92 361.1L542.05 363.5L542.17 362.5L542.30 364.1L542.42 358.0L542.55 364.2L542.67 356.4L542.80 368.7L542.92 356.1L543.05 363.4L543.17 363.3L543.30 369.8L543.42 359.1L543.55 367.2L543.67 358.9L543.80 373.8L543.92 361.2L544.05 368.2L544.17 362.3L544.30 366.4L544.42 358.8L544.55 364.4L544.67 363.1L544.80 363.8L544.92 361.2L545.05 363.8L545.17 359.6L545.30 367.9L545.42 360.3L545.55 364.4L545.67 355.6L545.80 365.8L545.92 361.9L546.05 365.6L546.17 358.7L546.30 367.3L546.42 358.4L546.55 364.5L546.67 361.3L546.80 370.1L546.92 359.9L547.05 369.4L547.17 359.5L547.30 363.9L547.42 356.3L547.55 365.6L547.67 361.6L547.80 365.0L547.92 361.5L548.05 365.5L548.17 362.1L548.30 365.5L548.42 362.8L548.55 364.5L548.67 360.4L548.80 363.8L548.92 360.4L549.05 364.6L549.17 359.9L549.30 365.8L549.42 363.4L549.55 364.4L549.67 363.2L549.80 364.4L549.92 355.6L550.05 364.3L550.17 360.0L550.30 371.0L550.42 352.8L550.55 365.2L550.67 361.9L550.80 368.4L550.92 362.4L551.05 364.0L551.17 360.1L551.30 363.6L551.42 363.1L551.55 366.5L551.67 356.7L551.80 368.6L551.92 359.6L552.00 351.4L552.15 372.4L552.30 352.6L552.45 371.5L552.05 372.4L552.17 360.4L552.30 364.0L552.42 362.4L552.55 370.8L552.67 363.1L552.80 367.6L552.92 351.4L553.05 368.3L553.17 354.5L553.30 375.9L553.42 361.8L553.55 364.3L553.67 361.2L553.80 364.6L553.92 358.9L554.05 364.7L554.17 361.6L554.30 367.8L554.42 362.2L554.55 365.6L554.67 355.3L554.80 367.5L554.92 353.6L555.05 370.3L555.17 360.5L555.30 365.3L555.42 360.9L555.55 365.0L555.67 360.5L555.80 365.3L555.92 361.3L556.05 365.2L556.17 359.2L556.30 363.8L556.42 361.7L556.55 367.4L556.67 362.1L556.80 366.2L556.92 361.4L557.05 365.2L557.17 362.2L557.30 368.7L557.42 357.3L557.55 373.2L557.67 360.8L557.80 367.3L557.92 360.9L558.05 365.6L558.17 363.2L558.30 363.4L558.42 362.4L558.55 364.8L558.67 362.1L558.80 364.0L558.92 362.6L559.00 350.4L559.15 373.4L559.30 351.7L559.45 372.4L559.05 363.7L559.17 362.3L559.30 368.9L559.42 360.8L559.55 373.7L559.67 362.7L559.80 370.0L559.92 360.3L560.05 363.5L560.17 357.2L560.30 370.7L560.42 350.5L560.55 366.0L560.67 362.4L560.80 364.0L560.92 358.8L561.05 365.8L561.17 360.9L561.30 363.9L561.42 363.4L561.55 368.4L561.67 360.8L561.80 363.7L561.92 362.8L562.05 368.3L562.17 363.1L562.30 364.5L562.42 358.9L562.55 374.3L562.67 358.7L562.80 373.0L562.92 358.4L563.05 364.5L563.17 355.8L563.30 369.8L563.42 363.2L563.55 364.7L563.67 360.4L563.80 367.0L563.92 359.7L564.05 365.3L564.17 360.9L564.30 376.0L564.42 354.6L564.55 365.5L564.60 349.4L564.75 375.4L564.90 350.8L565.05 374.2L564.67 356.1L564.80 368.5L564.92 361.9L565.05 367.0L565.17 360.7L565.30 369.5L565.42 346.5L565.55 367.0L565.67 355.6L565.80 367.0L565.80 340.4L565.95 390.4L566.10 342.7L566.25 387.7L565.92 361.3L566.05 367.2L566.17 360.9L566.30 370.7L566.42 355.4L566.55 365.2L566.67 356.3L566.80 365.8L566.92 354.5L567.00 351.4L567.15 378.4L567.30 352.6L567.45 376.9L567.05 366.2L567.17 361.4L567.30 371.7L567.42 358.3L567.55 367.2L567.67 359.3L567.80 368.8L567.92 355.8L568.05 371.6L568.17 357.4L568.30 364.0L568.42 362.4L568.55 371.4L568.67 359.2L568.80 364.5L568.92 362.2L569.05 365.8L569.17 353.5L569.30 365.2L569.42 359.8L569.55 368.9L569.67 356.6L569.80 365.3L569.92 356.3L570.05 365.2L570.17 363.2L570.30 365.0L570.42 361.3L570.55 365.3L570.67 362.2L570.80 369.2L570.92 363.1L571.00 351.4L571.15 372.4L571.30 352.6L571.45 371.5L571.05 371.3L571.17 361.8L571.30 366.2L571.42 359.7L571.55 366.7L571.67 359.5L571.80 366.6L571.92 363.0L572.05 366.3L572.17 362.8L572.30 363.6L572.42 362.2L572.55 369.5L572.67 360.0L572.80 366.4L572.92 354.1L573.05 363.8L573.17 361.3L573.30 365.3L573.42 359.0L573.55 364.9L573.67 355.8L573.80 371.9L573.92 359.6L574.05 368.4L574.17 354.7L574.30 364.4L574.42 363.0L574.55 370.6L574.67 363.2L574.80 374.0L574.92 354.6L575.05 369.6L575.17 356.4L575.30 370.5L575.42 356.7L575.55 372.4L575.67 361.1L575.80 365.2L575.92 360.8L576.05 364.6L576.17 361.8L576.30 365.1L576.42 361.8L576.55 366.4L576.67 362.7L576.80 371.2L576.92 361.6L577.05 363.5L577.17 361.0L577.30 363.9L577.42 363.1L577.55 364.6L577.67 360.7L577.80 363.7L577.92 356.8L578.05 367.6L578.17 363.2L578.30 367.5L578.42 356.3L578.55 364.9L578.67 363.3L578.80 365.7L578.92 360.2L579.05 369.8L579.17 360.6L579.30 363.7L579.42 357.9L579.55 364.9L579.67 362.8L579.80 365.2L579.92 356.5L580.05 367.3L580.17 360.1L580.30 363.5L580.42 363.4L580.55 364.6L580.67 361.3L580.80 365.4L580.92 360.1L581.05 363.8L581.17 362.1L581.30 364.9L581.42 356.6L581.55 364.7L581.67 360.4L581.80 366.7L581.92 359.3L582.05 367.3L582.17 360.0L582.30 363.8L582.42 361.7L582.55 367.0L582.67 363.2L582.80 367.8L582.92 362.3L583.05 363.8L583.17 360.5L583.30 365.6L583.42 362.7L583.55 365.7L583.67 360.9L583.80 365.5L583.92 361.2L584.05 365.9L584.17 363.0L584.30 365.3L584.42 360.7L584.55 364.1L584.67 360.2L584.80 363.8L584.92 362.0L585.05 366.4L585.17 363.1L585.30 369.9L585.42 362.7L585.55 365.9L585.67 362.8L585.80 364.1L585.92 362.6L586.05 364.0L586.17 363.4L586.30 365.5L586.42 361.2L586.55 363.7L586.67 361.3L586.80 365.3L586.92 362.6L587.05 363.5L587.17 363.1L587.30 363.4L587.42 357.9L587.55 371.1L587.67 363.3L587.80 363.5L587.92 360.6L588.05 363.8L588.17 362.8L588.30 366.3L588.42 362.1L588.55 363.8L588.67 363.4L588.80 364.1L588.92 363.1L589.05 365.6L589.17 361.3L589.30 366.2L589.42 361.7L589.55 366.2L589.67 363.1L589.80 364.5L589.92 363.2L590.05 363.5L590.17 362.8L590.30 363.4L590.42 363.2L590.55 364.6L590.67 362.6L590.80 367.8L590.92 358.3L591.05 364.5L591.17 363.3L591.30 364.9L591.42 362.6L591.55 363.9L591.67 363.1L591.80 365.3L591.92 363.1L592.05 363.9L592.17 363.0L592.30 363.5L592.42 357.7L592.55 364.6L592.67 361.5L592.80 366.9L592.92 360.3L593.05 363.7L593.17 363.1L593.30 365.8L593.42 359.8L593.55 365.2L593.67 361.1L593.80 363.9L593.92 360.5L594.05 370.3L594.17 361.6L594.30 364.1L594.42 359.9L594.55 368.2L594.67 361.4L594.80 365.7L594.92 360.1L595.05 369.9L595.17 359.3L595.30 365.3L595.42 359.4L595.55 365.1L595.67 362.9L595.80 364.1L595.92 361.6L596.05 369.3L596.17 361.9L596.30 363.6L596.42 360.4L596.55 364.9L596.67 363.3L596.80 369.3L596.92 360.9L597.05 366.1L597.17 360.2L597.30 367.4L597.42 361.8L597.55 364.1L597.67 361.3L597.80 365.5L597.92 363.2L598.05 369.1L598.17 361.4L598.30 364.7L598.42 361.7L598.55 366.9L598.67 361.0L598.80 363.5L598.92 363.3L599.05 367.2L599.17 359.7L599.30 365.4L599.42 362.4L599.55 364.6L599.67 362.1L599.80 366.1L599.92 360.5L600.05 364.0L600.17 356.8L600.30 365.3L600.42 362.3L600.55 369.7L600.67 361.3L600.80 368.5L600.92 362.3L601.05 363.9L601.17 360.9L601.30 366.5L601.42 357.5L601.55 365.9L601.67 362.3L601.80 368.8L601.92 362.4L602.05 366.2L602.17 363.0L602.30 367.1L602.42 360.1L602.55 363.5L602.67 362.3L602.80 365.3L602.92 362.5L603.05 364.0L603.17 362.1L603.30 365.2L603.42 357.5L603.55 365.0L603.67 359.8L603.80 363.9L603.92 363.1L604.05 366.4L604.17 359.4L604.30 365.5L604.42 360.1L604.55 364.0L604.67 362.7L604.80 364.5L604.92 362.3L605.05 363.7L605.17 361.7L605.30 364.9L605.42 362.7L605.55 366.1L605.67 361.8L605.80 365.1L605.92 362.0L606.05 364.1L606.17 357.9L606.30 366.1L606.42 361.3L606.55 368.6L606.67 358.0L606.80 364.5L606.92 358.2L607.05 363.9L607.17 358.1L607.30 367.4L607.42 358.8L607.55 363.9L607.67 360.0L607.80 364.5L607.92 360.7L608.05 366.7L608.17 361.5L608.30 365.7L608.42 359.5L608.55 366.2L608.67 362.2L608.80 364.0L608.92 363.0L609.05 363.6L609.17 362.9L609.30 364.0L609.42 361.4L609.55 365.0L609.67 363.1L609.80 363.6L609.92 358.2L610.05 364.7L610.17 361.6L610.30 364.8L610.42 360.6L610.55 363.4L610.67 362.0L610.80 364.5L610.92 363.0L611.05 363.5L611.17 361.9L611.30 363.9L611.42 363.3L611.55 364.9L611.67 360.7L611.80 363.9L611.92 362.2L612.05 368.3L612.17 358.6L612.30 364.4L612.42 362.0L612.55 366.6L612.67 360.9L612.80 364.8L612.92 361.1L613.05 366.8L613.17 358.9L613.30 364.4L613.42 362.9L613.55 363.7L613.67 362.2L613.80 364.0L613.92 362.9L614.05 363.6L614.17 362.7L614.30 365.9L614.42 363.0L614.55 365.5L614.67 363.3L614.80 363.8L614.92 363.1L615.05 365.0L615.17 362.8L615.30 365.4L615.42 362.9L615.55 366.6L615.67 360.9L615.80 366.9L615.92 363.0L616.05 364.1L616.17 360.9L616.30 363.8L616.42 362.3L616.55 364.6L616.67 362.6L616.80 365.6L616.92 358.0L617.05 367.2L617.17 361.1L617.30 367.9L617.42 359.2L617.55 364.0L617.67 359.3L617.80 363.4L617.92 363.2L618.05 369.8L618.17 361.0L618.30 364.4L618.42 361.8L618.55 364.6L618.67 361.3L618.80 365.9L618.92 362.8L619.05 365.3L619.17 362.1L619.30 363.6L619.42 362.2L619.55 364.4L619.67 361.8L619.80 364.5L619.92 361.0L620.05 364.0L620.17 361.3L620.30 364.0L620.42 362.6L620.55 365.5L620.67 363.3L620.80 363.8L620.92 363.0L621.05 364.7L621.17 363.1L621.30 363.5L621.42 362.5L621.55 364.6L621.67 362.2L621.80 363.7L621.92 363.0L622.05 366.1L622.17 361.8L622.30 365.4L622.42 361.9L622.55 368.8L622.67 363.1L622.80 367.5L622.92 359.3L623.05 367.8L623.17 360.6L623.30 367.5L623.42 361.7L623.55 363.9L623.67 360.5L623.80 363.5L623.92 362.3L624.05 363.7L624.17 362.9L624.30 366.1L624.42 362.4L624.55 364.6L624.67 361.0L624.80 365.5L624.92 362.5L625.05 365.2L625.17 360.4L625.30 365.1L625.42 362.3L625.55 363.5L625.67 362.2L625.80 364.2L625.92 363.0L626.05 363.9L626.17 362.8L626.30 365.1L626.42 360.5L626.55 365.0L626.67 359.9L626.80 364.0L626.92 359.6L627.05 364.7L627.17 361.1L627.30 367.0L627.42 362.0L627.55 366.5L627.67 360.2L627.80 364.2L627.92 362.4L628.05 366.7L628.17 359.7L628.30 364.6L628.42 362.5L628.55 363.8L628.67 362.0L628.80 363.9L628.92 360.4L629.05 365.7L629.17 359.1L629.30 367.1L629.42 360.5L629.55 370.5L629.67 361.1L629.80 364.9L629.92 363.2L630.05 364.6L630.17 359.5L630.30 366.9L630.42 358.1L630.55 372.3L630.67 354.4L630.80 363.4L630.92 358.8L631.05 365.1L631.17 357.6L631.30 364.8L631.42 361.4L631.55 370.3L631.67 360.1L631.80 366.7L631.92 357.7L632.00 352.4L632.15 372.4L632.30 353.5L632.45 371.5L632.05 365.5L632.17 363.1L632.30 365.8L632.42 363.2L632.55 364.5L632.67 360.7L632.80 366.6L632.92 360.4L633.05 367.4L633.17 357.3L633.30 364.7L633.42 362.1L633.55 363.8L633.67 362.9L633.80 364.2L633.92 362.6L634.05 363.7L634.17 362.2L634.30 364.7L634.42 362.2L634.55 372.1L634.67 360.1L634.80 363.7L634.92 356.8L635.05 367.6L635.17 362.8L635.30 363.5L635.42 359.6L635.55 372.6L635.67 360.6L635.80 367.6L635.92 355.4L636.05 365.4L636.17 357.4L636.30 370.6L636.42 358.2L636.55 364.1L636.67 360.1L636.80 369.5L636.92 362.8L637.05 371.1L637.17 357.1L637.30 365.8L637.42 356.8L637.55 368.7L637.67 363.0L637.80 365.8L637.92 361.2L638.05 368.1L638.17 361.1L638.30 363.5L638.42 362.9L638.55 368.6L638.67 361.6L638.80 366.1L638.92 362.9L639.05 363.5L639.17 362.7L639.30 364.8L639.42 361.9L639.55 366.4L639.67 360.9L639.80 363.6L639.92 361.6L640.05 369.2L640.17 358.3L640.30 364.3L640.42 362.0L640.55 363.9L640.67 360.5L640.80 364.2L640.92 362.9L641.05 365.4L641.17 359.4L641.30 363.5L641.42 361.0L641.55 364.7L641.67 361.6L641.80 363.5L641.92 362.7L642.05 364.5L642.17 361.1L642.30 365.4L642.42 360.5L642.55 366.4L642.67 359.0L642.80 369.5L642.92 359.6L643.05 368.0L643.17 358.5L643.30 369.2L643.42 362.7L643.55 371.4L643.67 355.7L643.80 367.1L643.92 363.1L644.05 364.8L644.17 362.6L644.30 365.2L644.42 363.0L644.55 367.6L644.67 359.4L644.80 369.9L644.92 359.7L645.05 369.6L645.17 359.8L645.30 369.0L645.42 360.3L645.55 364.8L645.67 359.8L645.80 364.4L645.92 360.8L646.05 365.7L646.17 361.3L646.30 365.3L646.42 361.1L646.55 365.3L646.67 362.3L646.80 365.2L646.92 363.1L647.05 365.0L647.17 361.3L647.30 366.6L647.42 357.4L647.55 366.7L647.67 361.0L647.80 364.3L647.92 359.0L648.05 367.8L648.17 361.3L648.30 366.5L648.42 357.9L648.55 364.9L648.67 363.1L648.80 365.8L648.92 360.8L649.05 364.2L649.17 362.9L649.30 364.1L649.42 358.9L649.55 368.3L649.67 361.7L649.80 366.8L649.92 361.4L650.05 364.9L650.17 361.4L650.30 369.2L650.42 363.2L650.55 364.0L650.67 362.9L650.80 364.2L650.92 358.5L651.05 371.7L651.17 356.4L651.30 365.2L651.42 358.5L651.55 367.6L651.67 361.2L651.80 366.7L651.92 357.2L652.05 364.2L652.17 356.0L652.30 366.2L652.42 360.9L652.55 366.7L652.67 363.3L652.80 365.1L652.92 360.7L653.05 365.2L653.17 362.8L653.30 366.9L653.42 359.4L653.55 365.5L653.67 360.4L653.80 366.9L653.92 362.0L654.05 364.7L654.17 356.3L654.30 368.6L654.42 358.4L654.55 366.3L654.67 363.4L654.80 369.5L654.92 361.2L655.05 367.3L655.17 355.2L655.30 370.7L655.42 360.4L655.55 368.2L655.67 360.2L655.80 363.4L655.92 360.6L656.05 372.1L656.17 359.4L656.30 369.2L656.42 363.3L656.55 367.5L656.67 357.0L656.80 367.1L656.92 360.7L657.05 367.3L657.17 360.0L657.30 365.1L657.42 362.9L657.55 364.3L657.67 359.3L657.80 364.0L657.92 355.5L658.00 353.4L658.15 371.4L658.30 354.4L658.45 370.6L658.05 364.3L658.17 361.9L658.30 368.7L658.42 363.0L658.55 364.2L658.67 356.7L658.80 367.9L658.92 359.4L659.05 364.4L659.17 358.7L659.30 368.3L659.42 362.5L659.55 365.4L659.67 363.3L659.80 364.7L659.92 362.1L660.05 364.2L660.17 361.4L660.30 366.0L660.42 363.2L660.55 365.3L660.67 361.8L660.80 366.7L660.92 362.7L661.05 364.6L661.17 361.1L661.30 367.9L661.42 362.7L661.55 367.8L661.67 361.5L661.80 364.3L661.92 358.2L662.05 363.5L662.17 361.1L662.30 364.0L662.42 363.0L662.55 365.6L662.67 359.8L662.80 372.2L662.92 363.0L663.05 365.4L663.17 361.6L663.30 365.0L663.42 357.7L663.55 365.7L663.67 362.1L663.80 367.4L663.92 363.2L664.05 365.2L664.17 362.5L664.30 366.9L664.42 362.5L664.55 365.5L664.67 361.0L664.80 364.8L664.92 361.3L665.05 365.0L665.17 362.7L665.30 366.3L665.42 362.2L665.55 365.1L665.67 363.2L665.80 364.9L665.92 362.5L666.05 366.3L666.17 361.1L666.30 365.9L666.42 361.3L666.55 365.1L666.67 362.4L666.80 363.4L666.92 362.4L667.05 365.2L667.17 361.6L667.30 367.2L667.42 362.8L667.55 364.4L667.67 361.5L667.80 363.8L667.92 362.2L668.05 366.9L668.17 358.1L668.30 364.6L668.42 356.7L668.55 363.7L668.67 363.0L668.80 365.2L668.92 360.7L669.05 364.0L669.17 361.8L669.30 363.8L669.42 362.2L669.55 364.2L669.67 361.8L669.80 368.2L669.92 361.1L670.05 363.5L670.17 357.6L670.30 366.5L670.42 362.7L670.55 363.9L670.67 356.1L670.80 363.6L670.92 359.9L671.05 367.9L671.17 357.3L671.30 366.1L671.42 360.2L671.55 366.6L671.67 358.2L671.80 364.1L671.92 361.8L672.05 364.1L672.17 363.3L672.30 363.8L672.42 361.5L672.55 364.4L672.67 363.1L672.80 364.2L672.92 363.3L673.05 365.6L673.17 360.5L673.30 366.1L673.42 361.8L673.55 369.0L673.67 362.7L673.80 364.1L673.92 362.2L674.05 364.4L674.17 361.0L674.30 365.0L674.42 360.5L674.55 364.1L674.67 362.2L674.80 370.5L674.92 360.5L675.05 371.9L675.17 362.5L675.30 366.2L675.42 361.8L675.55 364.5L675.67 359.3L675.80 368.7L675.92 363.3L676.05 365.1L676.17 360.2L676.30 363.9L676.42 359.2L676.55 363.6L676.67 360.0L676.80 366.3L676.92 360.0L677.05 365.4L677.17 361.9L677.30 364.6L677.42 361.0L677.55 369.4L677.67 361.9L677.80 365.4L677.92 362.9L678.05 365.7L678.17 359.8L678.30 369.2L678.42 361.9L678.55 365.0L678.67 363.2L678.80 364.1L678.92 362.8L679.05 365.2L679.17 362.5L679.30 366.1L679.42 360.8L679.55 369.8L679.67 359.7L679.80 369.0L679.92 360.4L680.05 366.2L680.17 358.7L680.30 364.4L680.42 356.8L680.55 368.9L680.67 357.1L680.80 365.9L680.92 358.8L681.05 365.3L681.17 361.3L681.30 363.5L681.42 360.6L681.55 366.9L681.67 359.6L681.80 364.2L681.92 362.1L682.05 366.7L682.17 356.3L682.30 365.2L682.42 355.6L682.55 365.9L682.67 361.8L682.80 363.6L682.92 360.3L683.05 367.2L683.17 362.4L683.30 366.0L683.42 358.2L683.55 363.8L683.67 361.9L683.80 364.0L683.92 362.2L684.05 364.3L684.17 363.2L684.30 367.5L684.42 361.0L684.55 364.3L684.67 361.7L684.80 365.1L684.92 362.7L685.05 365.5L685.17 362.9L685.30 365.2L685.42 357.6L685.55 365.4L685.67 357.5L685.80 368.9L685.92 361.8L686.05 363.7L686.17 356.5L686.30 368.3L686.42 358.9L686.55 365.9L686.67 361.7L686.80 366.9L686.92 361.8L687.05 364.9L687.17 359.4L687.30 364.3L687.42 362.7L687.55 363.9L687.67 360.0L687.80 368.8L687.92 362.4L688.05 369.6L688.17 356.9L688.30 367.5L688.42 362.7L688.55 367.2L688.67 360.0L688.80 363.7L688.92 361.5L689.05 364.2L689.17 361.8L689.30 368.4L689.42 358.3L689.55 364.8L689.67 359.7L689.80 363.7L689.92 362.9L690.05 363.5L690.17 362.8L690.30 364.0L690.42 357.8L690.55 363.9L690.67 356.6L690.80 369.2L690.92 362.7L691.05 369.4L691.17 362.3L691.30 363.8L691.42 361.3L691.55 365.2L691.67 359.9L691.80 366.1L691.92 359.3L692.05 367.6L692.17 362.2L692.30 363.8L692.42 361.6L692.55 370.6L692.67 363.1L692.80 364.1L692.92 358.1L693.05 364.2L693.17 362.9L693.30 366.5L693.42 362.9L693.55 365.9L693.67 363.3L693.80 365.4L693.92 362.8L694.05 366.0L694.17 360.3L694.30 364.5L694.42 360.7L694.55 366.5L694.67 362.2L694.80 365.1L694.92 362.7L695.05 363.5L695.17 360.6L695.30 365.1L695.42 362.8L695.55 364.8L695.67 362.4L695.80 364.8L695.92 362.9L696.05 366.0L696.17 360.2L696.30 368.2L696.42 359.6L696.55 364.4L696.67 361.8L696.80 370.2L696.92 357.5L697.05 365.6L697.17 363.3L697.30 365.3L697.42 361.8L697.55 363.7L697.67 363.0L697.80 363.7L697.92 362.0L698.05 363.6L698.17 363.2L698.30 363.8L698.42 361.4L698.55 364.0L698.67 361.2L698.80 368.3L698.92 363.4L699.05 365.9L699.17 355.3L699.30 365.7L699.42 359.2L699.55 363.7L699.67 363.3L699.80 367.4L699.92 362.1L700.05 367.6L700.17 360.7L700.30 368.9L700.42 356.8L700.55 369.3L700.67 363.2L700.80 364.0L700.92 360.2L701.05 364.0L701.17 359.0L701.30 368.9L701.42 358.6L701.55 364.8L701.67 358.7L701.80 365.1L701.92 359.2L702.05 369.7L702.17 362.2L702.30 363.7L702.42 359.1L702.55 369.8L702.67 358.5L702.80 365.0L702.92 359.0L703.05 364.9L703.17 358.2L703.30 369.7L703.42 361.9L703.55 363.9L703.67 361.3L703.80 364.7L703.92 362.1L704.05 365.7L704.17 363.0L704.30 368.6L704.42 363.2L704.55 363.9L704.67 361.0L704.80 366.2L704.92 362.9L705.05 367.3L705.17 359.4L705.30 365.2L705.42 363.4L705.55 363.6L705.67 363.0L705.80 364.0L705.92 362.4L706.05 364.5L706.17 362.5L706.30 366.3L706.42 361.1L706.55 365.4L706.67 358.6L706.80 369.4L706.92 357.8L707.05 369.0L707.17 361.1L707.30 365.0L707.42 358.6L707.55 364.5L707.67 362.2L707.80 364.1L707.92 358.4L708.05 364.2L708.17 363.3L708.30 364.8L708.42 361.7L708.55 364.4L708.67 359.3L708.80 366.8L708.92 361.2L709.05 367.5L709.17 361.3L709.30 366.5L709.42 359.0L709.55 365.6L709.67 362.7L709.80 363.7L709.92 361.0L710.05 363.9L710.17 359.1L710.30 366.2L710.42 359.6L710.55 369.5L710.67 362.1L710.80 365.6L710.92 361.4L711.05 371.4L711.17 362.4L711.30 369.3L711.42 359.7L711.55 368.7L711.67 359.0L711.80 368.3L711.92 361.7L712.05 372.0L712.17 362.1L712.30 371.1L712.42 362.1L712.55 368.9L712.67 361.8L712.80 363.8L712.92 362.4L713.05 364.5L713.17 358.8L713.30 364.2L713.42 363.1L713.55 364.3L713.67 359.0L713.80 364.8L713.92 356.3L714.05 366.3L714.17 358.1L714.30 366.7L714.42 359.9L714.55 364.3L714.67 362.5L714.80 363.6L714.92 362.0L715.05 366.0L715.17 362.5L715.30 367.8L715.42 360.7L715.55 364.3L715.67 362.7L715.80 363.5L715.92 357.1L716.05 365.7L716.17 361.5L716.30 364.0L716.42 363.4L716.55 363.6L716.67 363.0L716.80 364.4L716.92 359.4L717.05 364.6L717.17 362.3L717.30 364.7L717.42 360.3L717.55 367.3L717.67 361.7L717.80 365.8L717.92 357.1L718.05 364.2L718.17 360.3L718.30 365.4L718.42 358.7L718.55 363.7L718.67 361.3L718.80 364.0L718.92 363.0L719.05 369.0L719.17 360.4L719.30 364.2L719.42 361.1L719.55 366.2L719.67 361.3L719.80 365.3L719.92 362.0L720.05 368.8L720.17 361.3L720.30 369.0L720.42 358.5L720.55 365.1L720.67 360.4L720.80 364.0L720.92 356.9L721.05 364.6L721.17 358.9L721.30 363.9L721.42 363.0L721.55 364.5L721.67 361.5L721.80 366.9L721.92 362.3L722.05 364.0L722.17 363.0L722.30 371.8L722.42 362.0L722.55 364.7L722.67 359.2L722.80 364.8L722.92 362.9L723.05 366.7L723.17 363.2L723.30 365.3L723.42 357.0L723.55 363.9L723.67 354.7L723.80 368.0L723.92 360.3L724.05 363.7L724.17 361.1L724.30 368.2L724.42 358.1L724.55 365.6L724.67 357.2L724.80 363.6L724.92 362.4L725.05 365.9L725.17 362.2L725.30 365.3L725.42 360.0L725.55 366.6L725.67 361.7L725.80 364.7L725.92 361.7L726.05 368.2L726.17 362.8L726.30 363.9L726.42 360.9L726.55 365.1L726.67 363.0L726.80 365.8L726.92 363.2L727.05 365.0L727.17 363.2L727.30 364.1L727.42 361.5L727.55 364.3L727.67 358.7L727.80 366.6L727.92 362.3L728.05 371.0L728.17 361.0L728.30 364.0L728.42 362.7L728.55 364.0L728.67 361.9L728.80 363.6L728.92 360.5L729.05 366.1L729.17 360.6L729.30 366.7L729.42 362.9L729.55 370.3L729.67 357.4L729.80 369.8L729.92 361.9L730.05 365.6L730.17 360.7L730.30 366.4L730.42 361.1L730.55 363.8L730.67 360.9L730.80 372.0L730.92 361.0L731.05 368.1L731.17 361.2L731.30 365.0L731.42 359.6L731.55 365.5L731.67 362.9L731.80 363.5L731.92 358.7L732.05 364.9L732.17 362.9L732.30 368.7L732.42 361.6L732.55 363.9L732.67 361.6L732.80 365.8L732.92 356.5L733.05 365.4L733.17 361.5L733.30 365.6L733.42 362.5L733.55 364.0L733.67 362.8L733.80 363.5L733.92 363.3L734.05 368.4L734.17 359.6L734.30 363.6L734.42 357.1L734.55 365.2L734.67 358.8L734.80 371.2L734.92 363.2L735.05 371.9L735.17 362.8L735.30 371.5L735.42 362.5L735.55 365.5L735.67 363.1L735.80 363.7L735.92 361.8L736.05 363.5L736.17 357.1L736.30 368.3L736.42 363.1L736.55 363.7L736.67 359.4L736.80 366.6L736.92 363.2L737.05 364.2L737.17 359.9L737.30 365.7L737.42 362.8L737.55 364.6L737.67 363.0L737.80 363.7L737.92 362.0L738.05 363.8L738.17 363.2L738.30 365.4L738.42 359.4L738.55 366.9L738.67 355.4L738.80 363.4L738.92 363.4L739.05 364.0L739.17 359.0L739.30 364.9L739.42 362.1L739.55 366.1L739.67 355.8L739.80 368.1L739.92 356.6L740.05 364.1L740.17 361.3L740.30 366.1L740.42 360.7L740.55 364.7L740.67 362.8L740.80 368.4L740.92 362.6L741.05 366.6L741.17 358.1L741.30 364.9L741.42 361.9L741.55 370.1L741.67 361.8L741.80 364.0L741.92 355.4L742.05 365.9L742.17 357.7L742.30 364.4L742.42 360.2L742.55 364.1L742.67 361.3L742.80 364.7L742.92 361.9L743.05 364.1L743.17 362.4L743.30 363.9L743.42 360.5L743.55 363.8L743.67 355.3L743.80 368.8L743.92 356.1L744.05 365.2L744.17 362.3L744.30 371.9L744.42 363.0L744.55 365.5L744.67 362.3L744.80 364.9L744.92 358.3L745.05 371.8L745.17 362.4L745.30 365.9L745.42 362.2L745.55 366.6L745.67 362.9L745.80 366.0L745.92 361.4L746.05 370.9L746.17 362.2L746.30 365.3L746.42 359.4L746.55 363.5L746.67 361.8L746.80 366.0L746.92 361.9L747.05 368.1L747.17 361.3L747.30 364.3L747.42 361.4L747.55 364.8L747.67 361.6L747.80 364.5L747.92 360.5L748.05 364.0L748.17 359.2L748.30 364.5L748.42 359.5L748.55 364.4L748.67 361.5L748.80 367.7L748.92 360.0L749.05 364.7L749.17 362.6L749.30 364.4L749.42 361.9L749.55 364.0L749.67 361.9L749.80 365.6L749.92 359.5L750.05 364.0L750.17 360.7L750.30 369.1L750.42 362.3L750.55 366.5L750.67 362.5L750.80 363.9L750.92 362.7L751.05 364.3L751.17 362.9L751.30 365.1L751.42 356.3L751.55 363.8L751.67 359.3L751.80 367.3L751.92 363.0L752.05 368.1L752.17 359.3L752.30 364.3L752.42 355.0L752.55 365.4L752.67 363.4L752.80 367.5L752.92 355.8L753.05 366.2L753.17 357.6L753.30 366.8L753.42 362.7L753.55 365.5L753.67 358.9L753.80 367.8L753.92 361.6L754.05 363.7L754.17 358.5L754.30 368.0L754.42 362.9L754.55 363.5L754.67 362.8L754.80 365.4L754.92 362.0L755.05 363.5L755.17 362.0L755.30 366.0L755.42 359.9L755.55 368.6L755.67 362.4L755.80 365.5L755.92 361.5L756.05 368.3L756.17 362.3L756.30 364.5L756.42 362.4L756.55 365.1L756.67 361.5L756.80 364.7L756.92 362.0L757.05 364.4L757.17 362.5L757.30 364.6L757.42 357.4L757.55 365.6L757.67 360.8L757.80 371.8L757.92 353.1L758.05 368.1L758.17 361.1L758.30 363.6L758.42 358.7L758.55 370.5L758.67 358.7L758.80 363.9L758.92 361.8L759.05 366.4L759.17 356.6L759.30 364.9L759.42 361.2L759.55 364.7L759.67 358.7L759.80 363.7L759.92 357.9L760.05 366.2L760.17 363.3L760.30 371.8L760.42 357.0L760.55 364.2L760.67 355.7L760.80 365.1L760.92 358.4L761.05 364.5L761.17 362.3L761.30 371.1L761.42 358.3L761.55 366.4L761.67 354.1L761.80 366.4L761.92 362.9L762.05 367.5L762.17 353.2L762.30 371.4L762.42 360.8L762.55 369.3L762.67 361.6L762.80 366.7L762.92 358.1L763.05 364.9L763.17 355.3L763.30 365.0L763.42 359.5L763.55 369.9L763.67 357.2L763.80 368.1L763.92 361.9L764.05 368.5L764.17 362.0L764.30 367.0L764.42 360.8L764.55 363.6L764.67 360.4L764.80 372.2L764.92 362.5L765.05 369.2L765.17 363.1L765.30 364.1L765.42 362.2L765.55 367.1L765.67 359.1L765.80 364.4L765.92 361.6L766.05 363.7L766.17 362.2L766.30 365.2L766.42 363.2L766.55 365.5L766.67 359.3L766.80 365.9L766.92 360.9L767.05 365.0L767.17 359.7L767.30 365.2L767.42 360.0L767.55 364.5L767.67 361.6L767.80 364.0L767.92 361.6L768.05 363.5L768.17 363.1L768.30 364.3L768.42 362.4L768.55 366.3L768.67 362.9L768.80 367.6L768.92 361.5L769.05 365.4L769.17 362.8L769.30 364.9L769.42 363.0L769.55 366.3L769.67 361.7L769.80 367.4L769.92 362.4L770.05 365.5L770.17 362.7L770.30 363.6L770.42 362.4L770.55 365.1L770.67 358.6L770.80 364.8L770.92 362.7L771.05 364.0L771.17 360.0L771.30 366.0L771.42 362.5L771.55 365.5L771.67 361.2L771.80 367.8L771.92 360.6L772.05 366.9L772.17 360.7L772.30 363.5L772.42 361.0L772.55 364.0L772.67 360.3L772.80 365.1L772.92 363.0L773.05 368.1L773.17 362.5L773.30 366.7L773.42 363.3L773.55 366.0L773.67 357.4L773.80 366.8L773.92 356.2L774.05 364.8L774.17 361.5L774.30 366.0L774.42 361.9L774.55 363.9L774.67 361.3L774.80 363.6L774.92 361.8L775.05 366.6L775.17 358.7L775.30 364.4L775.42 361.7L775.55 365.5L775.67 361.5L775.80 364.8L775.92 363.1L776.05 364.8L776.17 360.1L776.30 366.3L776.42 355.9L776.55 365.2L776.67 359.4L776.80 363.6L776.92 355.5L777.05 368.9L777.17 358.2L777.30 369.5L777.42 360.6L777.55 365.7L777.67 359.6L777.80 365.2L777.92 363.1L778.05 363.7L778.17 363.0L778.30 364.4L778.42 360.3L778.55 366.0L778.67 362.3L778.80 366.5L778.92 360.3L779.05 367.5L779.17 363.1L779.30 364.6L779.42 357.9L779.55 366.7L779.67 358.1L779.80 370.0L779.92 362.0L780.05 369.5L780.17 362.7L780.30 363.7L780.42 359.7L780.55 367.6L780.67 356.1L780.80 363.8L780.92 356.3L781.05 364.1L781.17 362.5L781.30 369.6L781.42 360.2L781.55 370.2L781.67 362.4L781.80 364.2L781.92 362.8L782.05 370.2L782.17 360.9L782.30 363.6L782.42 360.2L782.55 366.2L782.67 362.1L782.80 364.0L782.92 362.9L783.05 363.4L783.17 363.2L783.30 363.4L783.42 361.5L783.55 364.9L783.67 362.7L783.80 364.0L783.92 362.6L784.05 363.5L784.17 363.0L784.30 364.4L784.42 361.6L784.55 363.7L784.67 363.0L784.80 369.3L784.92 362.1L785.05 364.2L785.17 363.2L785.30 363.6L785.42 362.1L785.55 366.0L785.67 362.3L785.80 363.5L785.92 360.8L786.05 368.3L786.17 361.7L786.30 365.0L786.42 359.6L786.55 364.7L786.67 361.9L786.80 365.1L786.92 362.3L787.05 363.5L787.17 362.4L787.30 363.4L787.42 363.0L787.55 364.3L787.67 361.7L787.80 367.9L787.92 362.7L788.05 364.9L788.17 360.6L788.30 364.0L788.42 357.4L788.55 364.8L788.67 363.2L788.80 367.5L788.92 359.9L789.05 364.9L789.17 360.9L789.30 364.6L789.42 359.5" fill="none" stroke="#ffa500" stroke-width="0.38" stroke-linejoin="round"/>
<path d="M508.0 363.4H789.3" stroke="#ffa500" stroke-width="1.3"/>
<rect x="506.8" y="338.7" width="283.5" height="53.5" fill="none" stroke="#000" stroke-width="2"/>
<text class="s" x="515.9" y="409.6" font-size="10" text-anchor="middle" fill="#222">15</text>
<text class="s" x="539.5" y="409.6" font-size="10" text-anchor="middle" fill="#222">20</text>
<text class="s" x="563.2" y="409.6" font-size="10" text-anchor="middle" fill="#222">25</text>
<text class="s" x="586.8" y="409.6" font-size="10" text-anchor="middle" fill="#222">30</text>
<text class="s" x="610.5" y="409.6" font-size="10" text-anchor="middle" fill="#222">35</text>
<text class="s" x="634.1" y="409.6" font-size="10" text-anchor="middle" fill="#222">40</text>
<text class="s" x="657.8" y="409.6" font-size="10" text-anchor="middle" fill="#222">45</text>
<text class="s" x="681.4" y="409.6" font-size="10" text-anchor="middle" fill="#222">50</text>
<text class="s" x="705.1" y="409.6" font-size="10" text-anchor="middle" fill="#222">55</text>
<text class="s" x="728.8" y="409.6" font-size="10" text-anchor="middle" fill="#222">00</text>
<text class="s" x="752.4" y="409.6" font-size="10" text-anchor="middle" fill="#222">05</text>
<text class="s" x="776.0" y="409.6" font-size="10" text-anchor="middle" fill="#222">10</text>
<path d="M515.9 338.7v-5.6M515.9 392.2v5.4M539.5 338.7v-5.6M539.5 392.2v5.4M563.2 338.7v-5.6M563.2 392.2v5.4M586.8 338.7v-5.6M586.8 392.2v5.4M610.5 338.7v-5.6M610.5 392.2v5.4M634.1 338.7v-5.6M634.1 392.2v5.4M657.8 338.7v-5.6M657.8 392.2v5.4M681.4 338.7v-5.6M681.4 392.2v5.4M705.1 338.7v-5.6M705.1 392.2v5.4M728.8 338.7v-5.6M728.8 392.2v5.4M752.4 338.7v-5.6M752.4 392.2v5.4M776.0 338.7v-5.6M776.0 392.2v5.4" stroke="#000" stroke-width="1" fill="none"/>
<text class="s" x="799.5" y="345.7" font-size="9.9" font-weight="bold" style="fill:#0000ff">La Sabana</text>
<text class="s" x="799.5" y="368.7" font-size="10" style="fill:#222" textLength="62.6" lengthAdjust="spacingAndGlyphs">Acel. Max. 0.0</text>
<text class="s" x="799.5" y="385.6" font-size="10" style="fill:#222" textLength="43.5" lengthAdjust="spacingAndGlyphs">Int JMA: 0</text>
<text class="s" x="648.4" y="426" font-size="12" text-anchor="middle" style="fill:#222">Tiempo (s)</text>
<text class="s" x="3.7" y="446.9" font-size="8.95">LISUCR 20250706200316</text>
</svg></body></html>
